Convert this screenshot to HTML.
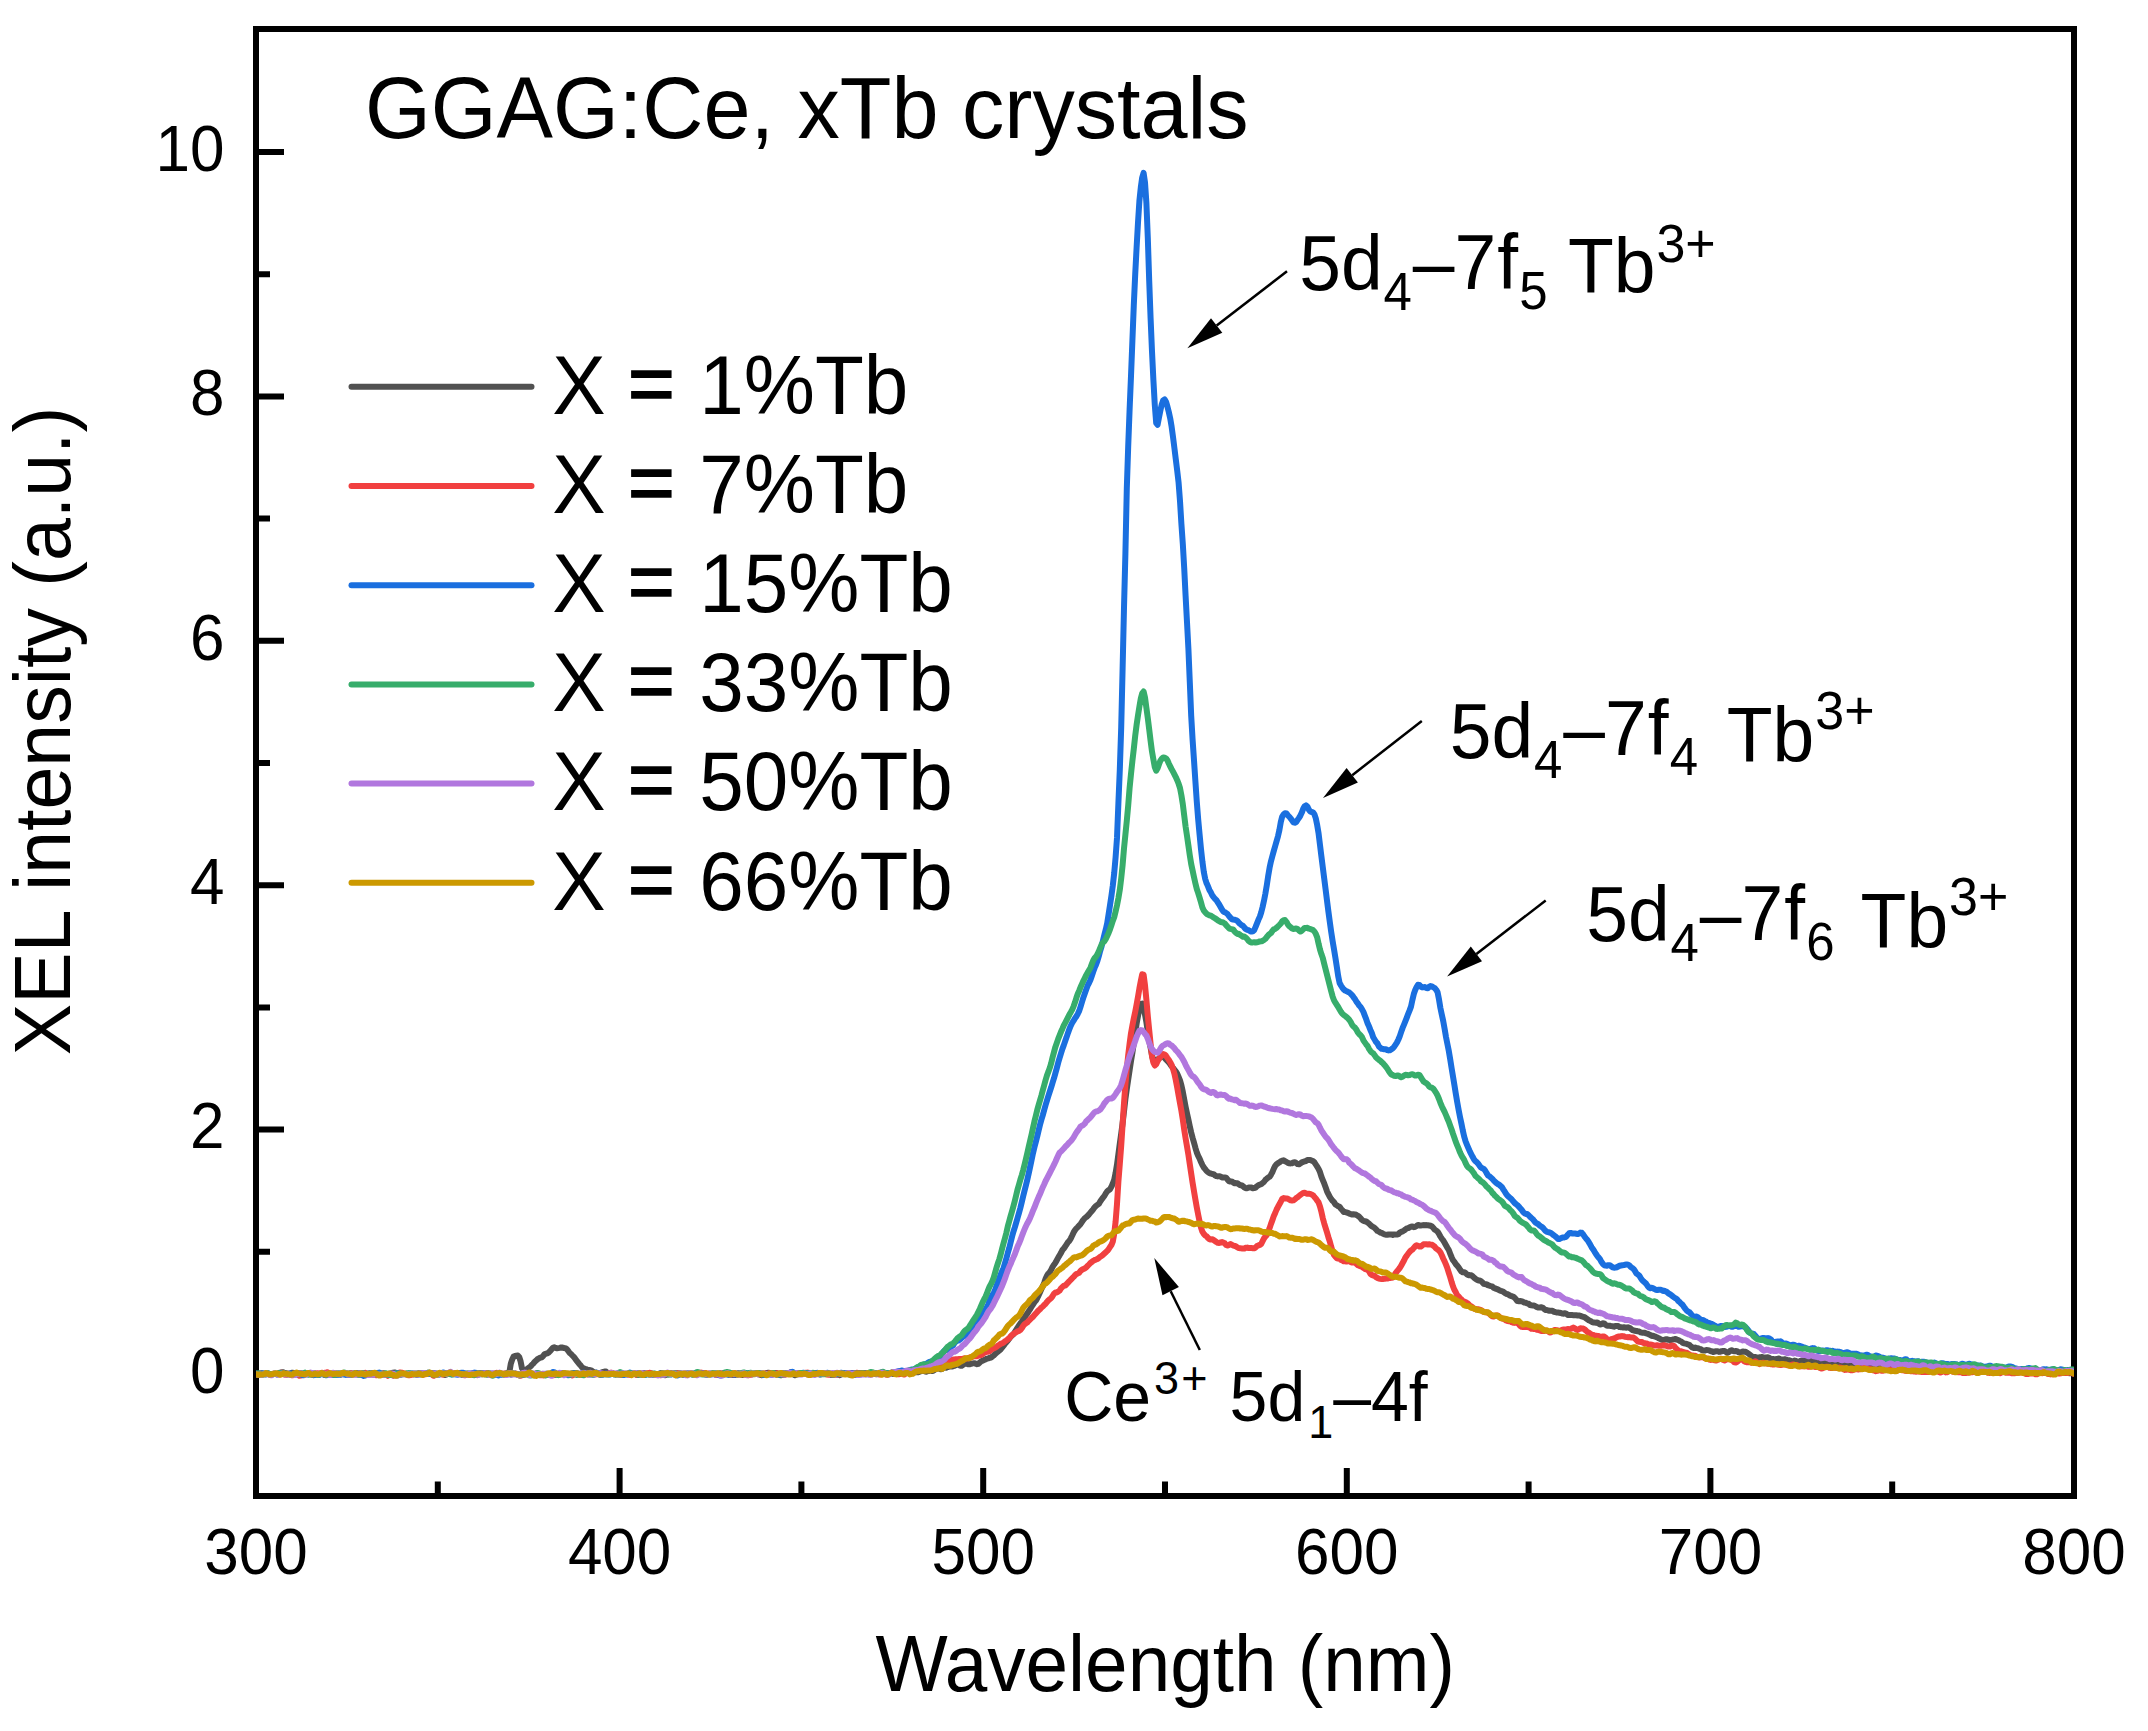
<!DOCTYPE html>
<html lang="en"><head><meta charset="utf-8"><title>XEL intensity of GGAG:Ce, xTb crystals</title>
<style>html,body{margin:0;padding:0;background:#fff;overflow:hidden}svg{display:block}svg text{font-family:"Liberation Sans",sans-serif}</style></head>
<body>
<svg width="2148" height="1731" viewBox="0 0 2148 1731" font-family="&quot;Liberation Sans&quot;, sans-serif" fill="#000">
<rect x="0" y="0" width="2148" height="1731" fill="#ffffff"/>
<defs><clipPath id="plot"><rect x="256" y="29" width="1818" height="1467"/></clipPath></defs>
<rect x="256" y="29" width="1818" height="1467" fill="none" stroke="#000" stroke-width="6"/>
<path d="M437.8,1493 V1481.5 M619.6,1493 V1468 M801.4,1493 V1481.5 M983.2,1493 V1468 M1165.0,1493 V1481.5 M1346.8,1493 V1468 M1528.6,1493 V1481.5 M1710.4,1493 V1468 M1892.2,1493 V1481.5 M259,1374.0 H284 M259,1251.8 H270 M259,1129.6 H284 M259,1007.4 H270 M259,885.2 H284 M259,763.0 H270 M259,640.8 H284 M259,518.6 H270 M259,396.4 H284 M259,274.2 H270 M259,152.0 H284" stroke="#000" stroke-width="6" fill="none"/>
<g clip-path="url(#plot)" fill="none" stroke-linejoin="round" stroke-linecap="round" stroke-width="6">
<path d="M256.0,1374.1 L257.4,1374.0 L258.8,1373.7 L260.2,1373.4 L261.6,1373.2 L263.0,1373.4 L264.4,1374.1 L265.8,1374.4 L267.2,1374.0 L268.6,1373.7 L270.0,1374.1 L271.4,1374.3 L272.8,1373.9 L274.2,1373.6 L275.6,1373.9 L277.0,1373.9 L278.4,1373.5 L279.8,1372.7 L281.2,1372.6 L282.6,1372.2 L284.0,1372.7 L285.4,1372.9 L286.8,1373.5 L288.2,1373.8 L289.6,1374.1 L291.0,1373.1 L292.4,1372.7 L293.8,1372.9 L295.2,1373.8 L296.6,1373.5 L298.0,1373.2 L299.4,1373.0 L300.8,1373.2 L302.2,1373.7 L303.6,1373.9 L305.0,1374.0 L306.4,1374.0 L307.8,1374.2 L309.2,1374.0 L310.6,1373.8 L312.0,1374.0 L313.4,1373.7 L314.8,1373.5 L316.2,1374.1 L317.6,1374.1 L319.0,1374.1 L320.4,1373.9 L321.8,1374.1 L323.2,1374.4 L324.6,1374.9 L326.0,1374.6 L327.4,1373.8 L328.8,1373.8 L330.2,1374.2 L331.6,1374.3 L333.0,1374.2 L334.4,1374.4 L335.8,1374.7 L337.2,1374.6 L338.6,1374.2 L340.0,1373.7 L341.4,1373.9 L342.8,1373.5 L344.2,1373.3 L345.6,1373.3 L347.0,1374.0 L348.4,1374.7 L349.8,1374.4 L351.2,1373.5 L352.6,1373.4 L354.0,1373.4 L355.4,1373.2 L356.8,1373.1 L358.2,1374.2 L359.6,1374.7 L361.0,1374.6 L362.4,1374.0 L363.8,1373.7 L365.2,1374.3 L366.6,1374.4 L368.0,1374.2 L369.4,1373.8 L370.8,1374.0 L372.2,1374.0 L373.6,1373.5 L375.0,1373.4 L376.4,1373.5 L377.8,1374.2 L379.2,1374.6 L380.6,1374.7 L382.0,1374.4 L383.4,1374.2 L384.8,1374.4 L386.2,1374.3 L387.6,1374.5 L389.0,1373.8 L390.4,1373.7 L391.8,1373.2 L393.2,1372.7 L394.6,1372.5 L396.0,1372.9 L397.4,1373.6 L398.8,1374.5 L400.2,1374.8 L401.6,1374.2 L403.0,1373.5 L404.4,1374.0 L405.8,1374.2 L407.2,1374.0 L408.6,1374.1 L410.0,1374.4 L411.4,1374.1 L412.8,1373.7 L414.2,1373.6 L415.6,1373.6 L417.0,1373.6 L418.4,1373.5 L419.8,1374.0 L421.2,1374.2 L422.6,1374.4 L424.0,1373.9 L425.4,1373.7 L426.8,1373.1 L428.2,1372.7 L429.6,1373.0 L431.0,1373.1 L432.4,1373.5 L433.8,1373.1 L435.2,1373.8 L436.6,1373.5 L438.0,1374.1 L439.4,1374.1 L440.8,1373.8 L442.2,1373.8 L443.6,1374.5 L445.0,1375.0 L446.4,1374.4 L447.8,1373.8 L449.2,1373.5 L450.6,1373.9 L452.0,1374.0 L453.4,1374.1 L454.8,1373.5 L456.2,1373.4 L457.6,1373.1 L459.0,1373.6 L460.4,1374.1 L461.8,1374.7 L463.2,1374.4 L464.6,1374.1 L466.0,1373.6 L467.4,1373.4 L468.8,1373.7 L470.2,1373.7 L471.6,1373.7 L473.0,1373.3 L474.4,1373.0 L475.8,1373.7 L477.2,1374.2 L478.6,1373.9 L480.0,1373.4 L481.4,1374.3 L482.8,1374.2 L484.2,1373.8 L485.6,1373.2 L487.0,1373.1 L488.4,1373.3 L489.8,1373.7 L491.2,1374.3 L492.6,1373.8 L494.0,1373.8 L495.4,1373.8 L496.8,1373.9 L498.2,1373.4 L499.6,1373.1 L501.0,1373.5 L502.4,1374.0 L503.8,1374.1 L505.2,1373.6 L506.6,1373.4 L508.0,1372.8 L509.4,1372.0 L510.8,1363.7 L512.2,1359.5 L513.6,1356.6 L515.0,1356.0 L516.4,1355.7 L517.8,1355.5 L519.2,1357.0 L520.6,1361.3 L522.0,1368.3 L523.4,1369.8 L524.8,1370.5 L526.2,1369.8 L527.6,1368.7 L529.0,1367.6 L530.4,1366.5 L531.8,1364.9 L533.2,1363.6 L534.6,1361.8 L536.0,1360.7 L537.4,1359.2 L538.8,1358.5 L540.2,1357.7 L541.6,1357.4 L543.0,1356.2 L544.4,1354.3 L545.8,1353.7 L547.2,1353.4 L548.6,1352.6 L550.0,1351.2 L551.4,1349.6 L552.8,1347.8 L554.2,1347.3 L555.6,1347.9 L557.0,1348.3 L558.4,1348.1 L559.8,1347.9 L561.2,1347.5 L562.6,1347.6 L564.0,1348.0 L565.4,1348.2 L566.8,1349.0 L568.2,1350.8 L569.6,1352.9 L571.0,1354.0 L572.4,1355.5 L573.8,1356.9 L575.2,1358.7 L576.6,1360.6 L578.0,1362.4 L579.4,1364.2 L580.8,1365.6 L582.2,1367.6 L583.6,1368.2 L585.0,1368.9 L586.4,1369.2 L587.8,1370.2 L589.2,1369.9 L590.6,1370.1 L592.0,1370.9 L593.4,1371.9 L594.8,1372.5 L596.2,1372.6 L597.6,1373.4 L599.0,1373.8 L600.4,1373.2 L601.8,1372.4 L603.2,1372.0 L604.6,1371.6 L606.0,1371.5 L607.4,1373.0 L608.8,1374.3 L610.2,1374.0 L611.6,1373.1 L613.0,1373.5 L614.4,1374.2 L615.8,1374.4 L617.2,1374.0 L618.6,1374.0 L620.0,1374.3 L621.4,1374.5 L622.8,1374.6 L624.2,1373.9 L625.6,1373.8 L627.0,1373.7 L628.4,1374.2 L629.8,1373.8 L631.2,1373.8 L632.6,1373.5 L634.0,1373.5 L635.4,1374.0 L636.8,1374.8 L638.2,1375.0 L639.6,1374.5 L641.0,1374.3 L642.4,1373.6 L643.8,1373.1 L645.2,1373.2 L646.6,1374.1 L648.0,1373.7 L649.4,1373.5 L650.8,1373.5 L652.2,1374.2 L653.6,1374.6 L655.0,1374.5 L656.4,1374.6 L657.8,1374.5 L659.2,1374.1 L660.6,1373.1 L662.0,1373.6 L663.4,1374.4 L664.8,1375.2 L666.2,1374.9 L667.6,1374.6 L669.0,1374.3 L670.4,1374.0 L671.8,1373.9 L673.2,1373.8 L674.6,1374.5 L676.0,1374.9 L677.4,1374.7 L678.8,1374.0 L680.2,1373.5 L681.6,1374.1 L683.0,1374.7 L684.4,1374.8 L685.8,1374.1 L687.2,1373.5 L688.6,1373.4 L690.0,1373.9 L691.4,1374.2 L692.8,1374.0 L694.2,1373.7 L695.6,1373.9 L697.0,1373.5 L698.4,1373.3 L699.8,1373.1 L701.2,1373.8 L702.6,1373.9 L704.0,1374.1 L705.4,1374.5 L706.8,1374.7 L708.2,1374.2 L709.6,1373.7 L711.0,1373.9 L712.4,1373.7 L713.8,1373.7 L715.2,1374.5 L716.6,1374.9 L718.0,1374.5 L719.4,1373.5 L720.8,1373.6 L722.2,1373.4 L723.6,1373.2 L725.0,1373.5 L726.4,1373.9 L727.8,1374.4 L729.2,1374.7 L730.6,1375.1 L732.0,1374.8 L733.4,1375.0 L734.8,1375.0 L736.2,1374.4 L737.6,1373.2 L739.0,1373.2 L740.4,1374.1 L741.8,1375.0 L743.2,1374.6 L744.6,1373.6 L746.0,1373.2 L747.4,1373.6 L748.8,1373.9 L750.2,1374.1 L751.6,1374.1 L753.0,1374.1 L754.4,1374.0 L755.8,1374.0 L757.2,1374.0 L758.6,1374.2 L760.0,1374.8 L761.4,1375.2 L762.8,1374.9 L764.2,1373.7 L765.6,1373.4 L767.0,1373.0 L768.4,1372.8 L769.8,1373.0 L771.2,1374.1 L772.6,1374.5 L774.0,1373.6 L775.4,1373.1 L776.8,1373.1 L778.2,1373.8 L779.6,1374.8 L781.0,1375.3 L782.4,1374.6 L783.8,1373.3 L785.2,1373.2 L786.6,1373.5 L788.0,1373.5 L789.4,1373.5 L790.8,1373.3 L792.2,1373.9 L793.6,1374.5 L795.0,1375.2 L796.4,1374.7 L797.8,1374.3 L799.2,1374.0 L800.6,1374.0 L802.0,1373.7 L803.4,1373.3 L804.8,1372.9 L806.2,1373.2 L807.6,1373.8 L809.0,1374.2 L810.4,1374.4 L811.8,1373.9 L813.2,1373.3 L814.6,1373.1 L816.0,1373.9 L817.4,1374.1 L818.8,1374.3 L820.2,1374.4 L821.6,1374.0 L823.0,1373.2 L824.4,1373.4 L825.8,1374.2 L827.2,1373.8 L828.6,1373.7 L830.0,1374.1 L831.4,1375.1 L832.8,1374.6 L834.2,1374.1 L835.6,1373.3 L837.0,1374.2 L838.4,1374.6 L839.8,1375.2 L841.2,1374.4 L842.6,1374.2 L844.0,1373.2 L845.4,1373.1 L846.8,1373.5 L848.2,1373.8 L849.6,1374.0 L851.0,1374.1 L852.4,1374.1 L853.8,1373.4 L855.2,1373.2 L856.6,1373.5 L858.0,1373.5 L859.4,1373.4 L860.8,1373.2 L862.2,1373.1 L863.6,1372.9 L865.0,1372.9 L866.4,1373.7 L867.8,1373.7 L869.2,1373.4 L870.6,1373.1 L872.0,1373.2 L873.4,1373.4 L874.8,1373.7 L876.2,1374.3 L877.6,1374.0 L879.0,1374.0 L880.4,1373.6 L881.8,1373.5 L883.2,1373.5 L884.6,1373.7 L886.0,1374.0 L887.4,1373.9 L888.8,1373.5 L890.2,1373.2 L891.6,1373.3 L893.0,1374.0 L894.4,1373.8 L895.8,1373.5 L897.2,1372.7 L898.6,1373.1 L900.0,1373.0 L901.4,1372.7 L902.8,1372.4 L904.2,1373.2 L905.6,1373.4 L907.0,1372.7 L908.4,1372.0 L909.8,1372.1 L911.2,1372.4 L912.6,1372.4 L914.0,1372.3 L915.4,1372.2 L916.8,1372.2 L918.2,1372.3 L919.6,1371.7 L921.0,1371.2 L922.4,1370.3 L923.8,1371.0 L925.2,1371.5 L926.6,1371.7 L928.0,1370.9 L929.4,1370.9 L930.8,1370.6 L932.2,1371.0 L933.6,1370.6 L935.0,1369.6 L936.4,1368.4 L937.8,1368.1 L939.2,1368.6 L940.6,1369.2 L942.0,1369.0 L943.4,1367.8 L944.8,1367.1 L946.2,1367.7 L947.6,1367.1 L949.0,1366.6 L950.4,1365.8 L951.8,1366.6 L953.2,1366.1 L954.6,1365.8 L956.0,1364.8 L957.4,1364.5 L958.8,1364.9 L960.2,1365.8 L961.6,1365.8 L963.0,1364.8 L964.4,1363.7 L965.8,1363.5 L967.2,1363.8 L968.6,1364.3 L970.0,1364.2 L971.4,1363.7 L972.8,1363.4 L974.2,1363.2 L975.6,1363.7 L977.0,1364.2 L978.4,1363.8 L979.8,1362.5 L981.2,1361.3 L982.6,1360.7 L984.0,1360.1 L985.4,1359.5 L986.8,1358.7 L988.2,1358.4 L989.6,1357.9 L991.0,1357.5 L992.4,1356.5 L993.8,1355.4 L995.2,1353.9 L996.6,1352.7 L998.0,1351.6 L999.4,1350.5 L1000.8,1349.2 L1002.2,1347.4 L1003.6,1345.6 L1005.0,1343.7 L1006.4,1342.2 L1007.8,1340.5 L1009.2,1338.6 L1010.6,1336.9 L1012.0,1335.5 L1013.4,1334.3 L1014.8,1332.1 L1016.2,1329.9 L1017.6,1327.6 L1019.0,1325.5 L1020.4,1323.4 L1021.8,1321.6 L1023.2,1319.2 L1024.6,1317.2 L1026.0,1315.2 L1027.4,1313.4 L1028.8,1311.1 L1030.2,1309.1 L1031.6,1306.6 L1033.0,1304.5 L1034.4,1302.4 L1035.8,1300.7 L1037.2,1298.2 L1038.6,1295.4 L1040.0,1292.2 L1041.4,1289.0 L1042.8,1286.1 L1044.2,1282.8 L1045.6,1278.8 L1047.0,1275.6 L1048.4,1273.5 L1049.8,1272.1 L1051.2,1269.8 L1052.6,1266.8 L1054.0,1264.7 L1055.4,1262.8 L1056.8,1260.3 L1058.2,1257.7 L1059.6,1255.2 L1061.0,1252.9 L1062.4,1250.1 L1063.8,1248.5 L1065.2,1246.5 L1066.6,1244.3 L1068.0,1242.2 L1069.4,1240.8 L1070.8,1238.4 L1072.2,1235.5 L1073.6,1232.4 L1075.0,1230.1 L1076.4,1228.4 L1077.8,1227.1 L1079.2,1225.5 L1080.6,1223.9 L1082.0,1221.8 L1083.4,1219.8 L1084.8,1218.1 L1086.2,1217.1 L1087.6,1215.9 L1089.0,1214.4 L1090.4,1212.7 L1091.8,1211.0 L1093.2,1209.3 L1094.6,1207.3 L1096.0,1205.9 L1097.4,1204.9 L1098.8,1203.9 L1100.2,1201.5 L1101.6,1199.5 L1103.0,1197.6 L1104.4,1195.9 L1105.8,1193.4 L1107.2,1191.3 L1108.6,1190.2 L1110.0,1189.2 L1111.4,1186.8 L1112.8,1183.5 L1114.2,1179.8 L1115.6,1172.9 L1117.0,1164.6 L1118.4,1154.1 L1119.8,1143.6 L1121.2,1133.7 L1122.6,1123.4 L1124.0,1111.4 L1125.4,1099.1 L1126.8,1089.0 L1128.2,1079.6 L1129.6,1070.2 L1131.0,1061.1 L1132.4,1052.8 L1133.8,1043.4 L1135.2,1032.9 L1136.6,1023.7 L1138.0,1016.0 L1139.4,1008.4 L1140.8,1003.9 L1142.2,1003.6 L1143.6,1008.0 L1145.0,1014.5 L1146.4,1022.2 L1147.8,1031.6 L1149.2,1040.6 L1150.6,1047.6 L1152.0,1055.2 L1153.4,1061.0 L1154.8,1061.1 L1156.2,1060.2 L1157.6,1059.3 L1159.0,1058.7 L1160.4,1057.3 L1161.8,1056.6 L1163.2,1056.2 L1164.6,1057.8 L1166.0,1059.5 L1167.4,1061.0 L1168.8,1062.4 L1170.2,1064.2 L1171.6,1066.2 L1173.0,1068.0 L1174.4,1069.7 L1175.8,1071.4 L1177.2,1073.6 L1178.6,1076.9 L1180.0,1080.4 L1181.4,1085.4 L1182.8,1091.7 L1184.2,1099.4 L1185.6,1106.7 L1187.0,1113.3 L1188.4,1119.6 L1189.8,1126.3 L1191.2,1132.5 L1192.6,1137.8 L1194.0,1142.6 L1195.4,1147.8 L1196.8,1152.5 L1198.2,1155.9 L1199.6,1158.6 L1201.0,1162.0 L1202.4,1165.1 L1203.8,1167.5 L1205.2,1169.2 L1206.6,1171.0 L1208.0,1172.1 L1209.4,1173.1 L1210.8,1173.5 L1212.2,1174.0 L1213.6,1174.2 L1215.0,1175.3 L1216.4,1176.1 L1217.8,1176.4 L1219.2,1176.2 L1220.6,1176.6 L1222.0,1177.4 L1223.4,1177.5 L1224.8,1177.4 L1226.2,1177.6 L1227.6,1179.6 L1229.0,1181.1 L1230.4,1181.6 L1231.8,1181.4 L1233.2,1182.5 L1234.6,1183.2 L1236.0,1183.1 L1237.4,1183.3 L1238.8,1184.3 L1240.2,1185.2 L1241.6,1185.2 L1243.0,1186.2 L1244.4,1187.4 L1245.8,1188.3 L1247.2,1188.3 L1248.6,1187.4 L1250.0,1187.4 L1251.4,1187.5 L1252.8,1188.2 L1254.2,1188.0 L1255.6,1187.6 L1257.0,1186.2 L1258.4,1185.3 L1259.8,1184.6 L1261.2,1184.2 L1262.6,1183.0 L1264.0,1181.9 L1265.4,1179.9 L1266.8,1178.7 L1268.2,1177.6 L1269.6,1176.7 L1271.0,1174.7 L1272.4,1172.1 L1273.8,1168.7 L1275.2,1165.9 L1276.6,1164.2 L1278.0,1163.2 L1279.4,1162.4 L1280.8,1161.3 L1282.2,1160.7 L1283.6,1160.3 L1285.0,1161.2 L1286.4,1161.9 L1287.8,1162.9 L1289.2,1163.3 L1290.6,1163.4 L1292.0,1163.2 L1293.4,1162.5 L1294.8,1162.3 L1296.2,1163.0 L1297.6,1164.1 L1299.0,1164.3 L1300.4,1163.5 L1301.8,1162.3 L1303.2,1161.8 L1304.6,1161.4 L1306.0,1161.0 L1307.4,1160.1 L1308.8,1160.0 L1310.2,1160.0 L1311.6,1160.6 L1313.0,1161.1 L1314.4,1162.3 L1315.8,1164.5 L1317.2,1166.7 L1318.6,1169.0 L1320.0,1172.1 L1321.4,1176.6 L1322.8,1180.1 L1324.2,1183.4 L1325.6,1187.3 L1327.0,1191.3 L1328.4,1194.1 L1329.8,1196.8 L1331.2,1199.0 L1332.6,1200.8 L1334.0,1202.1 L1335.4,1204.4 L1336.8,1205.3 L1338.2,1206.2 L1339.6,1206.8 L1341.0,1208.8 L1342.4,1210.3 L1343.8,1211.9 L1345.2,1212.0 L1346.6,1212.5 L1348.0,1212.9 L1349.4,1213.7 L1350.8,1214.1 L1352.2,1214.5 L1353.6,1214.3 L1355.0,1214.4 L1356.4,1214.9 L1357.8,1215.8 L1359.2,1216.8 L1360.6,1218.3 L1362.0,1219.9 L1363.4,1220.9 L1364.8,1221.2 L1366.2,1221.5 L1367.6,1222.5 L1369.0,1223.6 L1370.4,1225.0 L1371.8,1226.3 L1373.2,1226.9 L1374.6,1227.9 L1376.0,1229.3 L1377.4,1230.9 L1378.8,1231.6 L1380.2,1232.5 L1381.6,1232.9 L1383.0,1233.7 L1384.4,1234.3 L1385.8,1234.7 L1387.2,1234.8 L1388.6,1234.5 L1390.0,1234.4 L1391.4,1234.4 L1392.8,1234.9 L1394.2,1234.4 L1395.6,1234.6 L1397.0,1234.6 L1398.4,1234.2 L1399.8,1232.6 L1401.2,1231.8 L1402.6,1231.3 L1404.0,1230.5 L1405.4,1229.5 L1406.8,1228.4 L1408.2,1228.1 L1409.6,1227.3 L1411.0,1226.7 L1412.4,1226.4 L1413.8,1227.2 L1415.2,1226.8 L1416.6,1225.9 L1418.0,1224.9 L1419.4,1225.4 L1420.8,1225.4 L1422.2,1225.3 L1423.6,1225.1 L1425.0,1225.2 L1426.4,1225.1 L1427.8,1225.3 L1429.2,1225.5 L1430.6,1225.8 L1432.0,1226.5 L1433.4,1228.1 L1434.8,1229.7 L1436.2,1230.5 L1437.6,1231.7 L1439.0,1233.9 L1440.4,1236.5 L1441.8,1238.7 L1443.2,1240.4 L1444.6,1242.7 L1446.0,1245.2 L1447.4,1247.7 L1448.8,1250.0 L1450.2,1253.7 L1451.6,1257.2 L1453.0,1260.2 L1454.4,1261.9 L1455.8,1264.1 L1457.2,1265.6 L1458.6,1267.4 L1460.0,1269.5 L1461.4,1271.5 L1462.8,1272.3 L1464.2,1272.3 L1465.6,1273.0 L1467.0,1274.4 L1468.4,1275.2 L1469.8,1275.1 L1471.2,1275.3 L1472.6,1276.3 L1474.0,1277.6 L1475.4,1278.8 L1476.8,1279.7 L1478.2,1280.5 L1479.6,1280.4 L1481.0,1281.1 L1482.4,1282.4 L1483.8,1283.8 L1485.2,1284.2 L1486.6,1284.2 L1488.0,1285.2 L1489.4,1285.7 L1490.8,1286.1 L1492.2,1286.4 L1493.6,1287.7 L1495.0,1288.4 L1496.4,1288.9 L1497.8,1289.4 L1499.2,1290.2 L1500.6,1290.8 L1502.0,1291.2 L1503.4,1291.8 L1504.8,1292.9 L1506.2,1293.8 L1507.6,1294.2 L1509.0,1295.0 L1510.4,1295.7 L1511.8,1296.3 L1513.2,1296.6 L1514.6,1297.8 L1516.0,1299.3 L1517.4,1301.1 L1518.8,1301.2 L1520.2,1301.1 L1521.6,1301.2 L1523.0,1301.8 L1524.4,1302.6 L1525.8,1302.8 L1527.2,1303.4 L1528.6,1303.7 L1530.0,1305.0 L1531.4,1305.3 L1532.8,1305.5 L1534.2,1305.5 L1535.6,1306.3 L1537.0,1307.1 L1538.4,1307.5 L1539.8,1307.6 L1541.2,1307.3 L1542.6,1307.6 L1544.0,1308.8 L1545.4,1309.9 L1546.8,1310.0 L1548.2,1310.5 L1549.6,1310.8 L1551.0,1310.8 L1552.4,1310.7 L1553.8,1311.7 L1555.2,1312.0 L1556.6,1312.5 L1558.0,1312.5 L1559.4,1312.7 L1560.8,1313.0 L1562.2,1313.6 L1563.6,1313.7 L1565.0,1313.2 L1566.4,1313.8 L1567.8,1315.0 L1569.2,1315.1 L1570.6,1315.0 L1572.0,1315.1 L1573.4,1315.2 L1574.8,1315.2 L1576.2,1315.3 L1577.6,1315.5 L1579.0,1315.4 L1580.4,1315.8 L1581.8,1316.4 L1583.2,1316.8 L1584.6,1317.2 L1586.0,1318.2 L1587.4,1319.2 L1588.8,1320.2 L1590.2,1320.9 L1591.6,1321.7 L1593.0,1322.6 L1594.4,1322.6 L1595.8,1322.7 L1597.2,1322.4 L1598.6,1323.6 L1600.0,1324.5 L1601.4,1324.3 L1602.8,1323.3 L1604.2,1323.4 L1605.6,1324.8 L1607.0,1325.7 L1608.4,1325.7 L1609.8,1325.8 L1611.2,1326.1 L1612.6,1326.3 L1614.0,1326.7 L1615.4,1326.1 L1616.8,1326.1 L1618.2,1326.0 L1619.6,1327.1 L1621.0,1327.2 L1622.4,1327.4 L1623.8,1327.3 L1625.2,1327.5 L1626.6,1327.7 L1628.0,1327.3 L1629.4,1327.8 L1630.8,1328.8 L1632.2,1330.0 L1633.6,1330.4 L1635.0,1330.8 L1636.4,1331.0 L1637.8,1331.3 L1639.2,1331.5 L1640.6,1332.3 L1642.0,1332.7 L1643.4,1332.7 L1644.8,1332.8 L1646.2,1333.4 L1647.6,1333.7 L1649.0,1334.5 L1650.4,1335.1 L1651.8,1335.9 L1653.2,1335.8 L1654.6,1336.4 L1656.0,1336.9 L1657.4,1337.5 L1658.8,1338.3 L1660.2,1338.9 L1661.6,1339.8 L1663.0,1339.9 L1664.4,1339.8 L1665.8,1339.2 L1667.2,1339.3 L1668.6,1339.8 L1670.0,1340.1 L1671.4,1340.0 L1672.8,1339.5 L1674.2,1339.3 L1675.6,1339.0 L1677.0,1339.7 L1678.4,1340.1 L1679.8,1341.0 L1681.2,1341.5 L1682.6,1342.7 L1684.0,1343.4 L1685.4,1343.6 L1686.8,1343.9 L1688.2,1344.5 L1689.6,1345.1 L1691.0,1346.5 L1692.4,1347.5 L1693.8,1348.1 L1695.2,1347.6 L1696.6,1348.1 L1698.0,1348.2 L1699.4,1348.8 L1700.8,1349.2 L1702.2,1350.2 L1703.6,1350.6 L1705.0,1350.5 L1706.4,1349.9 L1707.8,1350.1 L1709.2,1350.4 L1710.6,1351.2 L1712.0,1351.3 L1713.4,1352.1 L1714.8,1351.5 L1716.2,1351.2 L1717.6,1351.2 L1719.0,1351.9 L1720.4,1351.7 L1721.8,1351.2 L1723.2,1350.9 L1724.6,1351.0 L1726.0,1351.9 L1727.4,1352.8 L1728.8,1352.2 L1730.2,1350.8 L1731.6,1350.2 L1733.0,1351.0 L1734.4,1351.2 L1735.8,1351.1 L1737.2,1351.2 L1738.6,1352.2 L1740.0,1352.6 L1741.4,1352.1 L1742.8,1351.5 L1744.2,1351.7 L1745.6,1351.8 L1747.0,1352.7 L1748.4,1353.5 L1749.8,1354.7 L1751.2,1355.8 L1752.6,1357.1 L1754.0,1357.0 L1755.4,1356.9 L1756.8,1357.5 L1758.2,1357.9 L1759.6,1357.3 L1761.0,1357.1 L1762.4,1357.1 L1763.8,1357.9 L1765.2,1357.6 L1766.6,1357.5 L1768.0,1357.2 L1769.4,1358.1 L1770.8,1358.7 L1772.2,1359.0 L1773.6,1359.1 L1775.0,1359.5 L1776.4,1359.0 L1777.8,1358.8 L1779.2,1358.5 L1780.6,1359.3 L1782.0,1359.5 L1783.4,1359.6 L1784.8,1359.3 L1786.2,1359.6 L1787.6,1360.3 L1789.0,1360.3 L1790.4,1360.6 L1791.8,1361.7 L1793.2,1361.5 L1794.6,1360.6 L1796.0,1361.0 L1797.4,1362.0 L1798.8,1361.9 L1800.2,1361.0 L1801.6,1360.6 L1803.0,1360.6 L1804.4,1360.6 L1805.8,1361.1 L1807.2,1361.3 L1808.6,1361.3 L1810.0,1360.8 L1811.4,1360.9 L1812.8,1361.0 L1814.2,1361.4 L1815.6,1362.0 L1817.0,1362.7 L1818.4,1363.0 L1819.8,1363.0 L1821.2,1363.0 L1822.6,1362.9 L1824.0,1362.8 L1825.4,1363.2 L1826.8,1363.2 L1828.2,1363.6 L1829.6,1363.8 L1831.0,1363.9 L1832.4,1363.4 L1833.8,1363.3 L1835.2,1363.7 L1836.6,1363.9 L1838.0,1364.5 L1839.4,1364.5 L1840.8,1363.9 L1842.2,1363.2 L1843.6,1363.1 L1845.0,1363.8 L1846.4,1364.7 L1847.8,1365.8 L1849.2,1365.5 L1850.6,1364.8 L1852.0,1365.3 L1853.4,1366.2 L1854.8,1366.4 L1856.2,1366.3 L1857.6,1367.2 L1859.0,1367.9 L1860.4,1367.5 L1861.8,1366.8 L1863.2,1366.7 L1864.6,1366.6 L1866.0,1366.1 L1867.4,1366.0 L1868.8,1366.1 L1870.2,1366.4 L1871.6,1366.6 L1873.0,1367.8 L1874.4,1367.8 L1875.8,1367.5 L1877.2,1366.8 L1878.6,1367.3 L1880.0,1367.9 L1881.4,1367.9 L1882.8,1367.4 L1884.2,1366.6 L1885.6,1366.4 L1887.0,1367.0 L1888.4,1367.8 L1889.8,1367.8 L1891.2,1367.5 L1892.6,1367.6 L1894.0,1368.2 L1895.4,1368.3 L1896.8,1368.2 L1898.2,1367.5 L1899.6,1367.2 L1901.0,1368.0 L1902.4,1368.2 L1903.8,1368.1 L1905.2,1368.0 L1906.6,1368.7 L1908.0,1368.5 L1909.4,1368.4 L1910.8,1368.7 L1912.2,1369.0 L1913.6,1368.4 L1915.0,1368.2 L1916.4,1368.2 L1917.8,1368.6 L1919.2,1368.8 L1920.6,1369.4 L1922.0,1370.0 L1923.4,1369.8 L1924.8,1369.8 L1926.2,1370.1 L1927.6,1370.7 L1929.0,1370.9 L1930.4,1370.5 L1931.8,1370.0 L1933.2,1369.8 L1934.6,1369.6 L1936.0,1369.5 L1937.4,1369.3 L1938.8,1369.6 L1940.2,1369.0 L1941.6,1368.8 L1943.0,1369.0 L1944.4,1370.0 L1945.8,1370.7 L1947.2,1370.8 L1948.6,1370.3 L1950.0,1369.7 L1951.4,1369.9 L1952.8,1370.0 L1954.2,1370.4 L1955.6,1371.0 L1957.0,1371.2 L1958.4,1370.4 L1959.8,1369.4 L1961.2,1369.0 L1962.6,1369.1 L1964.0,1369.9 L1965.4,1370.7 L1966.8,1370.5 L1968.2,1370.1 L1969.6,1370.7 L1971.0,1371.2 L1972.4,1370.6 L1973.8,1370.1 L1975.2,1370.4 L1976.6,1370.9 L1978.0,1371.5 L1979.4,1371.8 L1980.8,1372.0 L1982.2,1372.1 L1983.6,1372.0 L1985.0,1371.1 L1986.4,1370.4 L1987.8,1370.4 L1989.2,1370.9 L1990.6,1371.2 L1992.0,1371.1 L1993.4,1370.8 L1994.8,1370.9 L1996.2,1371.6 L1997.6,1371.9 L1999.0,1371.7 L2000.4,1371.9 L2001.8,1372.0 L2003.2,1370.8 L2004.6,1370.0 L2006.0,1369.9 L2007.4,1370.5 L2008.8,1370.7 L2010.2,1371.4 L2011.6,1371.7 L2013.0,1371.1 L2014.4,1371.3 L2015.8,1371.7 L2017.2,1371.4 L2018.6,1370.8 L2020.0,1371.2 L2021.4,1371.5 L2022.8,1371.5 L2024.2,1371.4 L2025.6,1371.2 L2027.0,1371.0 L2028.4,1371.6 L2029.8,1371.7 L2031.2,1371.6 L2032.6,1371.5 L2034.0,1372.6 L2035.4,1372.6 L2036.8,1372.7 L2038.2,1372.0 L2039.6,1372.1 L2041.0,1371.9 L2042.4,1372.3 L2043.8,1372.8 L2045.2,1372.7 L2046.6,1372.1 L2048.0,1371.4 L2049.4,1371.5 L2050.8,1372.0 L2052.2,1372.7 L2053.6,1372.8 L2055.0,1372.8 L2056.4,1372.9 L2057.8,1372.9 L2059.2,1372.0 L2060.6,1370.9 L2062.0,1370.4 L2063.4,1371.4 L2064.8,1371.9 L2066.2,1372.5 L2067.6,1372.4 L2069.0,1373.2 L2070.4,1373.2 L2071.8,1372.9 L2073.2,1372.3" stroke="#515151"/>
<path d="M256.0,1373.9 L257.4,1374.0 L258.8,1373.9 L260.2,1373.8 L261.6,1374.3 L263.0,1374.1 L264.4,1373.9 L265.8,1373.3 L267.2,1373.8 L268.6,1374.1 L270.0,1374.4 L271.4,1374.5 L272.8,1373.8 L274.2,1373.9 L275.6,1373.8 L277.0,1374.3 L278.4,1374.1 L279.8,1373.4 L281.2,1372.7 L282.6,1372.9 L284.0,1374.4 L285.4,1374.8 L286.8,1374.7 L288.2,1373.7 L289.6,1373.9 L291.0,1374.8 L292.4,1375.3 L293.8,1374.5 L295.2,1373.4 L296.6,1373.5 L298.0,1374.7 L299.4,1375.7 L300.8,1375.6 L302.2,1375.0 L303.6,1374.3 L305.0,1374.2 L306.4,1373.9 L307.8,1373.8 L309.2,1373.6 L310.6,1374.3 L312.0,1374.6 L313.4,1374.6 L314.8,1374.1 L316.2,1373.4 L317.6,1373.2 L319.0,1373.4 L320.4,1373.3 L321.8,1372.8 L323.2,1372.9 L324.6,1372.8 L326.0,1372.6 L327.4,1372.3 L328.8,1372.9 L330.2,1373.7 L331.6,1374.9 L333.0,1374.5 L334.4,1373.8 L335.8,1373.5 L337.2,1374.1 L338.6,1374.1 L340.0,1374.3 L341.4,1374.5 L342.8,1374.0 L344.2,1373.0 L345.6,1373.2 L347.0,1373.8 L348.4,1373.8 L349.8,1373.2 L351.2,1373.3 L352.6,1374.1 L354.0,1374.2 L355.4,1374.1 L356.8,1374.2 L358.2,1373.9 L359.6,1373.3 L361.0,1373.4 L362.4,1373.9 L363.8,1373.2 L365.2,1372.8 L366.6,1373.4 L368.0,1374.8 L369.4,1374.2 L370.8,1374.4 L372.2,1374.1 L373.6,1374.7 L375.0,1374.5 L376.4,1375.2 L377.8,1374.9 L379.2,1374.0 L380.6,1373.7 L382.0,1373.7 L383.4,1373.1 L384.8,1373.6 L386.2,1374.6 L387.6,1375.8 L389.0,1374.7 L390.4,1374.7 L391.8,1374.9 L393.2,1375.7 L394.6,1375.2 L396.0,1374.1 L397.4,1373.4 L398.8,1372.8 L400.2,1372.4 L401.6,1372.6 L403.0,1373.2 L404.4,1373.5 L405.8,1373.6 L407.2,1374.5 L408.6,1375.2 L410.0,1375.2 L411.4,1374.8 L412.8,1374.3 L414.2,1373.9 L415.6,1373.9 L417.0,1373.9 L418.4,1373.7 L419.8,1373.0 L421.2,1373.4 L422.6,1374.2 L424.0,1374.5 L425.4,1374.3 L426.8,1373.6 L428.2,1373.3 L429.6,1372.8 L431.0,1373.6 L432.4,1375.0 L433.8,1375.7 L435.2,1374.7 L436.6,1374.1 L438.0,1374.0 L439.4,1374.3 L440.8,1374.3 L442.2,1374.5 L443.6,1374.4 L445.0,1374.2 L446.4,1373.8 L447.8,1373.1 L449.2,1373.0 L450.6,1372.8 L452.0,1373.2 L453.4,1373.2 L454.8,1373.6 L456.2,1373.9 L457.6,1373.8 L459.0,1373.3 L460.4,1372.9 L461.8,1373.6 L463.2,1374.6 L464.6,1375.3 L466.0,1374.8 L467.4,1374.6 L468.8,1374.0 L470.2,1374.3 L471.6,1373.9 L473.0,1373.3 L474.4,1373.4 L475.8,1374.8 L477.2,1375.2 L478.6,1374.1 L480.0,1373.7 L481.4,1374.0 L482.8,1373.5 L484.2,1373.2 L485.6,1373.4 L487.0,1374.1 L488.4,1374.6 L489.8,1374.6 L491.2,1375.2 L492.6,1374.8 L494.0,1374.5 L495.4,1373.3 L496.8,1372.8 L498.2,1373.3 L499.6,1373.9 L501.0,1374.2 L502.4,1373.9 L503.8,1373.8 L505.2,1373.4 L506.6,1373.3 L508.0,1373.5 L509.4,1373.9 L510.8,1374.4 L512.2,1374.3 L513.6,1373.7 L515.0,1373.5 L516.4,1373.8 L517.8,1374.4 L519.2,1375.3 L520.6,1375.8 L522.0,1375.2 L523.4,1374.2 L524.8,1373.6 L526.2,1373.3 L527.6,1373.0 L529.0,1373.1 L530.4,1373.4 L531.8,1373.9 L533.2,1374.1 L534.6,1374.0 L536.0,1373.4 L537.4,1373.9 L538.8,1374.5 L540.2,1375.3 L541.6,1375.2 L543.0,1375.4 L544.4,1374.8 L545.8,1374.6 L547.2,1375.1 L548.6,1375.0 L550.0,1374.7 L551.4,1374.7 L552.8,1375.3 L554.2,1375.0 L555.6,1374.9 L557.0,1374.6 L558.4,1374.3 L559.8,1373.7 L561.2,1373.5 L562.6,1373.2 L564.0,1373.5 L565.4,1373.8 L566.8,1374.2 L568.2,1373.8 L569.6,1374.2 L571.0,1374.8 L572.4,1375.4 L573.8,1374.6 L575.2,1374.1 L576.6,1374.0 L578.0,1374.4 L579.4,1373.8 L580.8,1373.6 L582.2,1374.7 L583.6,1374.9 L585.0,1374.5 L586.4,1373.9 L587.8,1374.5 L589.2,1374.5 L590.6,1374.2 L592.0,1374.0 L593.4,1374.2 L594.8,1374.6 L596.2,1374.3 L597.6,1373.8 L599.0,1373.8 L600.4,1374.4 L601.8,1374.2 L603.2,1374.4 L604.6,1373.7 L606.0,1374.0 L607.4,1373.8 L608.8,1373.3 L610.2,1372.8 L611.6,1372.8 L613.0,1373.4 L614.4,1374.0 L615.8,1374.2 L617.2,1373.7 L618.6,1373.6 L620.0,1374.3 L621.4,1375.1 L622.8,1374.8 L624.2,1374.4 L625.6,1373.7 L627.0,1374.1 L628.4,1374.8 L629.8,1374.8 L631.2,1374.3 L632.6,1374.0 L634.0,1373.8 L635.4,1374.4 L636.8,1374.7 L638.2,1374.3 L639.6,1373.3 L641.0,1373.7 L642.4,1374.4 L643.8,1374.5 L645.2,1373.9 L646.6,1373.7 L648.0,1373.2 L649.4,1372.8 L650.8,1373.1 L652.2,1373.8 L653.6,1374.2 L655.0,1374.4 L656.4,1374.9 L657.8,1374.7 L659.2,1374.9 L660.6,1375.2 L662.0,1374.9 L663.4,1374.3 L664.8,1374.3 L666.2,1374.1 L667.6,1373.8 L669.0,1373.7 L670.4,1373.3 L671.8,1373.0 L673.2,1373.2 L674.6,1373.7 L676.0,1373.2 L677.4,1373.0 L678.8,1373.3 L680.2,1373.9 L681.6,1373.7 L683.0,1373.7 L684.4,1373.5 L685.8,1373.6 L687.2,1373.9 L688.6,1374.3 L690.0,1374.0 L691.4,1373.9 L692.8,1374.2 L694.2,1374.1 L695.6,1373.8 L697.0,1374.4 L698.4,1373.8 L699.8,1373.1 L701.2,1372.6 L702.6,1372.9 L704.0,1372.9 L705.4,1373.0 L706.8,1373.4 L708.2,1373.6 L709.6,1373.7 L711.0,1373.9 L712.4,1374.0 L713.8,1373.9 L715.2,1374.4 L716.6,1374.9 L718.0,1374.5 L719.4,1373.8 L720.8,1373.4 L722.2,1373.7 L723.6,1374.1 L725.0,1374.2 L726.4,1373.8 L727.8,1374.0 L729.2,1374.3 L730.6,1374.2 L732.0,1373.6 L733.4,1373.3 L734.8,1373.1 L736.2,1374.2 L737.6,1374.6 L739.0,1374.4 L740.4,1373.4 L741.8,1373.5 L743.2,1373.9 L744.6,1374.3 L746.0,1375.0 L747.4,1375.0 L748.8,1375.2 L750.2,1374.8 L751.6,1374.8 L753.0,1373.9 L754.4,1373.5 L755.8,1373.4 L757.2,1373.8 L758.6,1373.1 L760.0,1373.2 L761.4,1373.5 L762.8,1373.9 L764.2,1373.6 L765.6,1373.6 L767.0,1373.9 L768.4,1373.7 L769.8,1373.2 L771.2,1373.2 L772.6,1373.8 L774.0,1374.0 L775.4,1373.7 L776.8,1373.3 L778.2,1373.4 L779.6,1374.0 L781.0,1374.1 L782.4,1374.4 L783.8,1374.5 L785.2,1374.7 L786.6,1374.3 L788.0,1373.7 L789.4,1373.0 L790.8,1372.3 L792.2,1372.7 L793.6,1373.2 L795.0,1373.5 L796.4,1373.6 L797.8,1373.1 L799.2,1373.2 L800.6,1373.0 L802.0,1373.2 L803.4,1373.0 L804.8,1373.1 L806.2,1372.8 L807.6,1372.6 L809.0,1373.0 L810.4,1373.8 L811.8,1374.3 L813.2,1374.0 L814.6,1373.4 L816.0,1372.9 L817.4,1373.4 L818.8,1373.1 L820.2,1373.5 L821.6,1373.6 L823.0,1373.8 L824.4,1373.5 L825.8,1374.1 L827.2,1374.5 L828.6,1374.7 L830.0,1374.4 L831.4,1374.6 L832.8,1374.8 L834.2,1374.7 L835.6,1374.7 L837.0,1374.5 L838.4,1374.4 L839.8,1373.6 L841.2,1373.3 L842.6,1373.6 L844.0,1373.6 L845.4,1373.7 L846.8,1373.7 L848.2,1374.2 L849.6,1373.3 L851.0,1372.9 L852.4,1373.2 L853.8,1373.7 L855.2,1373.7 L856.6,1372.7 L858.0,1372.9 L859.4,1373.0 L860.8,1373.9 L862.2,1373.3 L863.6,1373.4 L865.0,1373.3 L866.4,1374.1 L867.8,1373.7 L869.2,1373.3 L870.6,1373.8 L872.0,1374.2 L873.4,1373.8 L874.8,1373.0 L876.2,1373.0 L877.6,1373.5 L879.0,1374.4 L880.4,1374.5 L881.8,1373.3 L883.2,1373.0 L884.6,1373.9 L886.0,1374.7 L887.4,1374.7 L888.8,1374.1 L890.2,1373.5 L891.6,1372.7 L893.0,1372.4 L894.4,1372.8 L895.8,1373.3 L897.2,1374.3 L898.6,1374.3 L900.0,1374.1 L901.4,1373.5 L902.8,1374.1 L904.2,1374.5 L905.6,1373.5 L907.0,1372.7 L908.4,1372.9 L909.8,1373.0 L911.2,1372.2 L912.6,1371.8 L914.0,1371.9 L915.4,1371.3 L916.8,1370.4 L918.2,1369.9 L919.6,1369.9 L921.0,1369.9 L922.4,1370.1 L923.8,1370.1 L925.2,1369.1 L926.6,1368.3 L928.0,1368.2 L929.4,1368.5 L930.8,1368.2 L932.2,1367.3 L933.6,1366.2 L935.0,1365.6 L936.4,1365.1 L937.8,1364.0 L939.2,1363.4 L940.6,1363.4 L942.0,1363.3 L943.4,1362.1 L944.8,1361.3 L946.2,1360.6 L947.6,1360.6 L949.0,1360.9 L950.4,1360.2 L951.8,1360.0 L953.2,1359.6 L954.6,1359.5 L956.0,1359.2 L957.4,1359.5 L958.8,1359.1 L960.2,1359.0 L961.6,1358.9 L963.0,1359.0 L964.4,1358.3 L965.8,1358.8 L967.2,1358.4 L968.6,1358.2 L970.0,1357.3 L971.4,1357.3 L972.8,1356.6 L974.2,1356.1 L975.6,1356.0 L977.0,1356.2 L978.4,1355.7 L979.8,1355.3 L981.2,1355.1 L982.6,1354.1 L984.0,1352.9 L985.4,1352.0 L986.8,1351.9 L988.2,1351.7 L989.6,1351.2 L991.0,1349.8 L992.4,1348.8 L993.8,1348.4 L995.2,1347.6 L996.6,1346.9 L998.0,1345.6 L999.4,1344.7 L1000.8,1343.7 L1002.2,1343.3 L1003.6,1342.6 L1005.0,1341.3 L1006.4,1340.4 L1007.8,1339.3 L1009.2,1338.3 L1010.6,1336.5 L1012.0,1334.9 L1013.4,1334.0 L1014.8,1333.1 L1016.2,1332.2 L1017.6,1331.3 L1019.0,1330.8 L1020.4,1330.0 L1021.8,1328.2 L1023.2,1325.9 L1024.6,1324.2 L1026.0,1323.2 L1027.4,1322.4 L1028.8,1320.7 L1030.2,1319.4 L1031.6,1318.0 L1033.0,1316.7 L1034.4,1315.1 L1035.8,1313.5 L1037.2,1311.9 L1038.6,1310.4 L1040.0,1309.2 L1041.4,1307.6 L1042.8,1306.5 L1044.2,1304.9 L1045.6,1303.8 L1047.0,1301.9 L1048.4,1300.3 L1049.8,1299.2 L1051.2,1298.0 L1052.6,1296.1 L1054.0,1293.7 L1055.4,1292.5 L1056.8,1292.4 L1058.2,1291.6 L1059.6,1290.6 L1061.0,1288.4 L1062.4,1287.0 L1063.8,1285.8 L1065.2,1285.6 L1066.6,1284.1 L1068.0,1282.6 L1069.4,1281.1 L1070.8,1279.8 L1072.2,1278.2 L1073.6,1276.9 L1075.0,1275.3 L1076.4,1274.0 L1077.8,1273.4 L1079.2,1272.7 L1080.6,1270.8 L1082.0,1269.7 L1083.4,1269.0 L1084.8,1268.4 L1086.2,1267.3 L1087.6,1265.9 L1089.0,1264.5 L1090.4,1263.0 L1091.8,1262.0 L1093.2,1260.8 L1094.6,1260.0 L1096.0,1259.6 L1097.4,1259.0 L1098.8,1258.0 L1100.2,1256.8 L1101.6,1255.9 L1103.0,1254.8 L1104.4,1253.5 L1105.8,1252.2 L1107.2,1250.9 L1108.6,1249.3 L1110.0,1247.0 L1111.4,1245.0 L1112.8,1241.6 L1114.2,1233.9 L1115.6,1221.7 L1117.0,1203.9 L1118.4,1181.6 L1119.8,1163.9 L1121.2,1145.7 L1122.6,1124.5 L1124.0,1103.2 L1125.4,1084.7 L1126.8,1068.7 L1128.2,1055.0 L1129.6,1043.7 L1131.0,1033.2 L1132.4,1025.5 L1133.8,1018.4 L1135.2,1011.8 L1136.6,1004.5 L1138.0,996.9 L1139.4,988.4 L1140.8,981.0 L1142.2,974.3 L1143.6,974.7 L1145.0,985.2 L1146.4,999.7 L1147.8,1016.0 L1149.2,1030.1 L1150.6,1043.8 L1152.0,1056.4 L1153.4,1062.7 L1154.8,1065.5 L1156.2,1064.3 L1157.6,1061.1 L1159.0,1058.8 L1160.4,1056.9 L1161.8,1055.4 L1163.2,1054.0 L1164.6,1054.5 L1166.0,1055.8 L1167.4,1057.9 L1168.8,1059.9 L1170.2,1062.2 L1171.6,1064.9 L1173.0,1068.7 L1174.4,1073.7 L1175.8,1080.1 L1177.2,1087.4 L1178.6,1095.6 L1180.0,1103.1 L1181.4,1110.7 L1182.8,1119.6 L1184.2,1129.5 L1185.6,1138.4 L1187.0,1146.4 L1188.4,1154.8 L1189.8,1164.2 L1191.2,1173.5 L1192.6,1182.8 L1194.0,1191.3 L1195.4,1199.4 L1196.8,1207.4 L1198.2,1214.7 L1199.6,1221.7 L1201.0,1227.6 L1202.4,1231.7 L1203.8,1233.9 L1205.2,1235.4 L1206.6,1236.3 L1208.0,1237.9 L1209.4,1239.1 L1210.8,1239.6 L1212.2,1239.3 L1213.6,1240.0 L1215.0,1241.0 L1216.4,1242.0 L1217.8,1242.8 L1219.2,1242.9 L1220.6,1242.5 L1222.0,1242.1 L1223.4,1242.6 L1224.8,1243.3 L1226.2,1245.0 L1227.6,1245.6 L1229.0,1245.0 L1230.4,1244.1 L1231.8,1244.7 L1233.2,1245.6 L1234.6,1245.9 L1236.0,1246.4 L1237.4,1247.4 L1238.8,1248.1 L1240.2,1248.2 L1241.6,1248.4 L1243.0,1248.5 L1244.4,1248.5 L1245.8,1247.8 L1247.2,1247.6 L1248.6,1248.0 L1250.0,1248.1 L1251.4,1248.1 L1252.8,1248.2 L1254.2,1248.2 L1255.6,1247.5 L1257.0,1246.0 L1258.4,1245.4 L1259.8,1244.9 L1261.2,1244.0 L1262.6,1241.2 L1264.0,1238.4 L1265.4,1236.5 L1266.8,1234.9 L1268.2,1232.0 L1269.6,1228.1 L1271.0,1223.9 L1272.4,1220.1 L1273.8,1216.1 L1275.2,1213.0 L1276.6,1209.5 L1278.0,1206.8 L1279.4,1204.3 L1280.8,1201.8 L1282.2,1198.9 L1283.6,1198.1 L1285.0,1198.6 L1286.4,1198.4 L1287.8,1198.7 L1289.2,1199.6 L1290.6,1200.3 L1292.0,1200.5 L1293.4,1200.3 L1294.8,1199.5 L1296.2,1198.1 L1297.6,1197.2 L1299.0,1196.0 L1300.4,1194.9 L1301.8,1193.9 L1303.2,1192.9 L1304.6,1192.7 L1306.0,1193.4 L1307.4,1193.8 L1308.8,1193.7 L1310.2,1193.9 L1311.6,1194.6 L1313.0,1195.2 L1314.4,1197.0 L1315.8,1198.5 L1317.2,1200.6 L1318.6,1202.4 L1320.0,1206.4 L1321.4,1211.8 L1322.8,1218.2 L1324.2,1223.3 L1325.6,1227.9 L1327.0,1232.4 L1328.4,1237.2 L1329.8,1241.5 L1331.2,1246.7 L1332.6,1251.3 L1334.0,1254.9 L1335.4,1256.7 L1336.8,1258.1 L1338.2,1258.6 L1339.6,1258.7 L1341.0,1260.0 L1342.4,1260.5 L1343.8,1261.3 L1345.2,1261.3 L1346.6,1261.6 L1348.0,1260.8 L1349.4,1261.0 L1350.8,1262.1 L1352.2,1262.5 L1353.6,1262.2 L1355.0,1262.6 L1356.4,1263.8 L1357.8,1265.2 L1359.2,1265.7 L1360.6,1266.4 L1362.0,1266.3 L1363.4,1267.9 L1364.8,1268.9 L1366.2,1269.4 L1367.6,1269.7 L1369.0,1271.3 L1370.4,1273.8 L1371.8,1274.9 L1373.2,1275.5 L1374.6,1275.8 L1376.0,1277.2 L1377.4,1278.0 L1378.8,1278.6 L1380.2,1278.9 L1381.6,1279.1 L1383.0,1278.9 L1384.4,1278.8 L1385.8,1278.5 L1387.2,1278.6 L1388.6,1278.1 L1390.0,1278.1 L1391.4,1277.9 L1392.8,1277.6 L1394.2,1275.4 L1395.6,1273.1 L1397.0,1271.3 L1398.4,1269.8 L1399.8,1267.9 L1401.2,1265.7 L1402.6,1263.0 L1404.0,1260.5 L1405.4,1257.5 L1406.8,1255.6 L1408.2,1253.6 L1409.6,1251.9 L1411.0,1250.4 L1412.4,1249.6 L1413.8,1247.9 L1415.2,1246.3 L1416.6,1245.3 L1418.0,1245.8 L1419.4,1246.4 L1420.8,1246.5 L1422.2,1245.5 L1423.6,1244.3 L1425.0,1244.2 L1426.4,1244.2 L1427.8,1244.6 L1429.2,1244.3 L1430.6,1244.6 L1432.0,1244.8 L1433.4,1245.8 L1434.8,1246.8 L1436.2,1248.6 L1437.6,1249.5 L1439.0,1250.5 L1440.4,1252.3 L1441.8,1255.2 L1443.2,1258.5 L1444.6,1261.3 L1446.0,1264.6 L1447.4,1268.3 L1448.8,1272.8 L1450.2,1277.1 L1451.6,1282.0 L1453.0,1286.4 L1454.4,1289.8 L1455.8,1292.3 L1457.2,1295.2 L1458.6,1296.5 L1460.0,1298.2 L1461.4,1299.4 L1462.8,1301.1 L1464.2,1301.5 L1465.6,1302.0 L1467.0,1302.9 L1468.4,1304.1 L1469.8,1305.6 L1471.2,1306.2 L1472.6,1307.4 L1474.0,1308.4 L1475.4,1309.3 L1476.8,1309.1 L1478.2,1309.3 L1479.6,1309.6 L1481.0,1310.1 L1482.4,1311.0 L1483.8,1311.9 L1485.2,1312.1 L1486.6,1312.4 L1488.0,1312.8 L1489.4,1313.8 L1490.8,1315.1 L1492.2,1316.3 L1493.6,1316.5 L1495.0,1315.8 L1496.4,1315.5 L1497.8,1315.5 L1499.2,1316.8 L1500.6,1317.7 L1502.0,1318.6 L1503.4,1318.8 L1504.8,1319.5 L1506.2,1320.5 L1507.6,1321.1 L1509.0,1321.3 L1510.4,1321.2 L1511.8,1322.2 L1513.2,1322.7 L1514.6,1322.9 L1516.0,1322.7 L1517.4,1323.0 L1518.8,1324.1 L1520.2,1326.0 L1521.6,1326.8 L1523.0,1327.0 L1524.4,1326.8 L1525.8,1327.1 L1527.2,1326.9 L1528.6,1327.2 L1530.0,1327.7 L1531.4,1328.7 L1532.8,1328.8 L1534.2,1329.1 L1535.6,1329.1 L1537.0,1329.8 L1538.4,1329.9 L1539.8,1330.4 L1541.2,1330.9 L1542.6,1331.0 L1544.0,1331.1 L1545.4,1330.5 L1546.8,1330.5 L1548.2,1331.4 L1549.6,1332.5 L1551.0,1332.2 L1552.4,1331.0 L1553.8,1330.4 L1555.2,1329.9 L1556.6,1330.1 L1558.0,1330.5 L1559.4,1330.7 L1560.8,1330.6 L1562.2,1329.7 L1563.6,1329.6 L1565.0,1329.6 L1566.4,1329.6 L1567.8,1328.9 L1569.2,1329.1 L1570.6,1328.9 L1572.0,1328.4 L1573.4,1327.5 L1574.8,1328.3 L1576.2,1329.5 L1577.6,1330.0 L1579.0,1329.2 L1580.4,1328.3 L1581.8,1328.5 L1583.2,1328.6 L1584.6,1329.4 L1586.0,1330.6 L1587.4,1332.0 L1588.8,1332.7 L1590.2,1333.5 L1591.6,1334.7 L1593.0,1334.9 L1594.4,1335.4 L1595.8,1335.6 L1597.2,1336.0 L1598.6,1336.1 L1600.0,1336.7 L1601.4,1336.9 L1602.8,1336.5 L1604.2,1336.5 L1605.6,1337.6 L1607.0,1339.2 L1608.4,1340.0 L1609.8,1339.9 L1611.2,1339.2 L1612.6,1338.8 L1614.0,1338.4 L1615.4,1338.0 L1616.8,1337.1 L1618.2,1336.6 L1619.6,1336.6 L1621.0,1336.2 L1622.4,1336.1 L1623.8,1336.3 L1625.2,1336.9 L1626.6,1337.1 L1628.0,1337.2 L1629.4,1337.1 L1630.8,1337.4 L1632.2,1337.5 L1633.6,1337.6 L1635.0,1338.6 L1636.4,1340.0 L1637.8,1341.5 L1639.2,1341.8 L1640.6,1341.9 L1642.0,1342.0 L1643.4,1342.9 L1644.8,1343.3 L1646.2,1343.4 L1647.6,1343.9 L1649.0,1344.5 L1650.4,1344.4 L1651.8,1344.6 L1653.2,1345.3 L1654.6,1345.6 L1656.0,1345.5 L1657.4,1345.2 L1658.8,1345.8 L1660.2,1345.8 L1661.6,1345.7 L1663.0,1345.3 L1664.4,1345.3 L1665.8,1345.7 L1667.2,1346.1 L1668.6,1346.6 L1670.0,1346.5 L1671.4,1345.5 L1672.8,1345.7 L1674.2,1346.2 L1675.6,1348.0 L1677.0,1349.2 L1678.4,1350.8 L1679.8,1351.2 L1681.2,1351.3 L1682.6,1351.8 L1684.0,1352.3 L1685.4,1352.6 L1686.8,1352.8 L1688.2,1353.7 L1689.6,1354.6 L1691.0,1355.5 L1692.4,1355.5 L1693.8,1355.8 L1695.2,1355.8 L1696.6,1356.4 L1698.0,1357.0 L1699.4,1357.5 L1700.8,1357.3 L1702.2,1356.9 L1703.6,1357.6 L1705.0,1358.3 L1706.4,1358.5 L1707.8,1358.6 L1709.2,1359.5 L1710.6,1359.9 L1712.0,1359.4 L1713.4,1359.9 L1714.8,1360.3 L1716.2,1360.6 L1717.6,1359.9 L1719.0,1359.4 L1720.4,1358.7 L1721.8,1359.0 L1723.2,1359.9 L1724.6,1360.4 L1726.0,1359.8 L1727.4,1359.2 L1728.8,1359.2 L1730.2,1359.3 L1731.6,1360.1 L1733.0,1360.9 L1734.4,1362.4 L1735.8,1362.6 L1737.2,1361.9 L1738.6,1360.6 L1740.0,1359.2 L1741.4,1359.0 L1742.8,1359.7 L1744.2,1361.3 L1745.6,1361.9 L1747.0,1362.2 L1748.4,1362.1 L1749.8,1362.2 L1751.2,1362.7 L1752.6,1362.5 L1754.0,1362.0 L1755.4,1361.3 L1756.8,1362.2 L1758.2,1363.2 L1759.6,1364.1 L1761.0,1363.2 L1762.4,1362.8 L1763.8,1362.8 L1765.2,1363.3 L1766.6,1363.4 L1768.0,1363.8 L1769.4,1363.8 L1770.8,1364.2 L1772.2,1364.4 L1773.6,1364.5 L1775.0,1364.2 L1776.4,1364.2 L1777.8,1364.6 L1779.2,1364.8 L1780.6,1365.0 L1782.0,1364.8 L1783.4,1364.4 L1784.8,1364.6 L1786.2,1364.7 L1787.6,1365.3 L1789.0,1365.5 L1790.4,1365.3 L1791.8,1364.7 L1793.2,1364.5 L1794.6,1364.9 L1796.0,1364.9 L1797.4,1365.4 L1798.8,1365.9 L1800.2,1366.3 L1801.6,1366.1 L1803.0,1366.3 L1804.4,1366.1 L1805.8,1366.2 L1807.2,1366.4 L1808.6,1366.8 L1810.0,1366.7 L1811.4,1366.2 L1812.8,1366.3 L1814.2,1366.7 L1815.6,1367.1 L1817.0,1366.8 L1818.4,1366.9 L1819.8,1368.0 L1821.2,1368.5 L1822.6,1368.2 L1824.0,1367.6 L1825.4,1367.0 L1826.8,1366.7 L1828.2,1366.7 L1829.6,1367.9 L1831.0,1368.1 L1832.4,1368.0 L1833.8,1367.5 L1835.2,1367.8 L1836.6,1368.0 L1838.0,1368.0 L1839.4,1367.6 L1840.8,1367.7 L1842.2,1368.1 L1843.6,1369.4 L1845.0,1369.9 L1846.4,1369.7 L1847.8,1369.4 L1849.2,1369.7 L1850.6,1370.2 L1852.0,1370.3 L1853.4,1369.9 L1854.8,1369.4 L1856.2,1369.2 L1857.6,1369.4 L1859.0,1369.4 L1860.4,1369.2 L1861.8,1368.3 L1863.2,1367.9 L1864.6,1367.7 L1866.0,1368.4 L1867.4,1368.9 L1868.8,1369.0 L1870.2,1369.1 L1871.6,1369.7 L1873.0,1370.3 L1874.4,1370.6 L1875.8,1371.2 L1877.2,1370.8 L1878.6,1370.3 L1880.0,1370.2 L1881.4,1370.7 L1882.8,1370.7 L1884.2,1370.4 L1885.6,1369.9 L1887.0,1369.4 L1888.4,1369.4 L1889.8,1369.7 L1891.2,1369.6 L1892.6,1369.4 L1894.0,1369.7 L1895.4,1370.3 L1896.8,1370.8 L1898.2,1370.1 L1899.6,1369.6 L1901.0,1369.5 L1902.4,1370.2 L1903.8,1370.4 L1905.2,1370.8 L1906.6,1371.0 L1908.0,1371.1 L1909.4,1370.9 L1910.8,1371.2 L1912.2,1371.1 L1913.6,1371.4 L1915.0,1371.5 L1916.4,1371.7 L1917.8,1371.3 L1919.2,1371.4 L1920.6,1371.7 L1922.0,1372.1 L1923.4,1372.1 L1924.8,1372.0 L1926.2,1371.9 L1927.6,1372.1 L1929.0,1372.0 L1930.4,1371.2 L1931.8,1371.0 L1933.2,1371.4 L1934.6,1371.6 L1936.0,1371.0 L1937.4,1370.8 L1938.8,1371.9 L1940.2,1372.5 L1941.6,1372.1 L1943.0,1371.4 L1944.4,1371.4 L1945.8,1372.4 L1947.2,1372.2 L1948.6,1371.3 L1950.0,1370.6 L1951.4,1371.1 L1952.8,1371.7 L1954.2,1371.0 L1955.6,1371.1 L1957.0,1372.1 L1958.4,1372.3 L1959.8,1372.2 L1961.2,1371.8 L1962.6,1373.0 L1964.0,1373.1 L1965.4,1373.1 L1966.8,1372.6 L1968.2,1372.8 L1969.6,1372.6 L1971.0,1372.4 L1972.4,1372.2 L1973.8,1371.7 L1975.2,1372.0 L1976.6,1372.5 L1978.0,1372.7 L1979.4,1372.1 L1980.8,1371.8 L1982.2,1371.4 L1983.6,1371.2 L1985.0,1371.6 L1986.4,1372.1 L1987.8,1372.7 L1989.2,1372.9 L1990.6,1372.8 L1992.0,1372.8 L1993.4,1372.6 L1994.8,1372.4 L1996.2,1372.0 L1997.6,1372.6 L1999.0,1372.9 L2000.4,1373.2 L2001.8,1372.4 L2003.2,1372.1 L2004.6,1372.1 L2006.0,1372.7 L2007.4,1372.8 L2008.8,1372.7 L2010.2,1372.7 L2011.6,1373.2 L2013.0,1373.2 L2014.4,1373.2 L2015.8,1373.0 L2017.2,1373.0 L2018.6,1372.7 L2020.0,1372.6 L2021.4,1372.5 L2022.8,1372.4 L2024.2,1373.2 L2025.6,1374.0 L2027.0,1374.0 L2028.4,1373.9 L2029.8,1373.6 L2031.2,1373.6 L2032.6,1373.4 L2034.0,1373.6 L2035.4,1374.2 L2036.8,1374.3 L2038.2,1373.5 L2039.6,1373.0 L2041.0,1373.1 L2042.4,1373.2 L2043.8,1371.8 L2045.2,1372.0 L2046.6,1372.8 L2048.0,1374.1 L2049.4,1374.1 L2050.8,1374.4 L2052.2,1374.2 L2053.6,1374.0 L2055.0,1373.3 L2056.4,1373.0 L2057.8,1373.1 L2059.2,1373.6 L2060.6,1373.3 L2062.0,1372.8 L2063.4,1372.8 L2064.8,1373.0 L2066.2,1372.9 L2067.6,1373.0 L2069.0,1372.6 L2070.4,1372.0 L2071.8,1372.8 L2073.2,1373.6" stroke="#F14040"/>
<path d="M256.0,1373.4 L257.4,1373.8 L258.8,1374.5 L260.2,1374.1 L261.6,1373.6 L263.0,1373.5 L264.4,1374.2 L265.8,1374.2 L267.2,1373.6 L268.6,1373.6 L270.0,1374.4 L271.4,1374.9 L272.8,1374.3 L274.2,1374.0 L275.6,1374.0 L277.0,1374.5 L278.4,1374.0 L279.8,1373.8 L281.2,1373.6 L282.6,1373.6 L284.0,1373.5 L285.4,1373.7 L286.8,1374.0 L288.2,1374.0 L289.6,1373.6 L291.0,1373.5 L292.4,1373.7 L293.8,1374.3 L295.2,1374.6 L296.6,1374.2 L298.0,1373.3 L299.4,1373.0 L300.8,1373.8 L302.2,1375.0 L303.6,1375.3 L305.0,1374.7 L306.4,1374.1 L307.8,1373.8 L309.2,1373.4 L310.6,1373.9 L312.0,1374.8 L313.4,1375.2 L314.8,1374.6 L316.2,1375.1 L317.6,1375.1 L319.0,1375.1 L320.4,1374.3 L321.8,1373.5 L323.2,1373.5 L324.6,1374.6 L326.0,1375.3 L327.4,1374.8 L328.8,1374.3 L330.2,1373.9 L331.6,1374.3 L333.0,1374.7 L334.4,1375.0 L335.8,1374.6 L337.2,1374.7 L338.6,1374.7 L340.0,1374.8 L341.4,1374.1 L342.8,1373.9 L344.2,1374.6 L345.6,1374.9 L347.0,1374.4 L348.4,1374.1 L349.8,1374.7 L351.2,1374.9 L352.6,1374.1 L354.0,1373.7 L355.4,1373.3 L356.8,1373.4 L358.2,1373.4 L359.6,1373.9 L361.0,1374.3 L362.4,1375.3 L363.8,1375.9 L365.2,1375.6 L366.6,1374.3 L368.0,1373.6 L369.4,1373.1 L370.8,1373.2 L372.2,1373.1 L373.6,1373.1 L375.0,1373.3 L376.4,1373.4 L377.8,1373.0 L379.2,1372.6 L380.6,1373.1 L382.0,1373.8 L383.4,1374.5 L384.8,1374.8 L386.2,1374.7 L387.6,1374.4 L389.0,1373.7 L390.4,1374.3 L391.8,1374.9 L393.2,1375.2 L394.6,1373.9 L396.0,1373.5 L397.4,1373.2 L398.8,1373.1 L400.2,1373.3 L401.6,1374.1 L403.0,1374.1 L404.4,1374.1 L405.8,1373.9 L407.2,1374.0 L408.6,1373.6 L410.0,1373.6 L411.4,1373.6 L412.8,1373.6 L414.2,1374.3 L415.6,1374.3 L417.0,1375.0 L418.4,1374.3 L419.8,1374.4 L421.2,1373.5 L422.6,1373.2 L424.0,1373.1 L425.4,1373.9 L426.8,1373.9 L428.2,1374.1 L429.6,1373.8 L431.0,1374.1 L432.4,1373.9 L433.8,1374.4 L435.2,1373.8 L436.6,1373.9 L438.0,1374.3 L439.4,1374.6 L440.8,1373.7 L442.2,1372.9 L443.6,1372.5 L445.0,1373.0 L446.4,1373.7 L447.8,1373.7 L449.2,1373.2 L450.6,1373.9 L452.0,1374.4 L453.4,1374.2 L454.8,1374.1 L456.2,1374.5 L457.6,1374.7 L459.0,1374.0 L460.4,1373.2 L461.8,1372.7 L463.2,1372.8 L464.6,1373.3 L466.0,1373.9 L467.4,1374.3 L468.8,1374.4 L470.2,1374.3 L471.6,1373.8 L473.0,1372.9 L474.4,1372.6 L475.8,1372.8 L477.2,1373.2 L478.6,1373.3 L480.0,1373.3 L481.4,1373.0 L482.8,1373.1 L484.2,1373.6 L485.6,1373.8 L487.0,1373.9 L488.4,1373.9 L489.8,1373.7 L491.2,1373.5 L492.6,1374.3 L494.0,1374.6 L495.4,1374.7 L496.8,1374.7 L498.2,1375.5 L499.6,1374.8 L501.0,1374.8 L502.4,1374.6 L503.8,1374.6 L505.2,1373.9 L506.6,1374.0 L508.0,1374.2 L509.4,1374.2 L510.8,1374.4 L512.2,1374.3 L513.6,1373.8 L515.0,1373.6 L516.4,1374.2 L517.8,1374.9 L519.2,1374.4 L520.6,1374.2 L522.0,1374.3 L523.4,1375.1 L524.8,1374.5 L526.2,1374.1 L527.6,1373.6 L529.0,1373.4 L530.4,1373.0 L531.8,1373.5 L533.2,1374.1 L534.6,1373.9 L536.0,1373.8 L537.4,1374.5 L538.8,1375.0 L540.2,1374.5 L541.6,1374.0 L543.0,1374.1 L544.4,1374.2 L545.8,1373.8 L547.2,1373.7 L548.6,1374.6 L550.0,1374.6 L551.4,1373.2 L552.8,1372.0 L554.2,1372.2 L555.6,1373.0 L557.0,1373.8 L558.4,1374.2 L559.8,1373.9 L561.2,1373.7 L562.6,1373.5 L564.0,1373.6 L565.4,1373.5 L566.8,1374.6 L568.2,1375.2 L569.6,1375.0 L571.0,1373.6 L572.4,1373.2 L573.8,1372.9 L575.2,1372.9 L576.6,1372.9 L578.0,1373.7 L579.4,1374.0 L580.8,1373.8 L582.2,1373.1 L583.6,1372.8 L585.0,1373.0 L586.4,1373.5 L587.8,1374.3 L589.2,1374.2 L590.6,1374.4 L592.0,1374.3 L593.4,1374.5 L594.8,1373.4 L596.2,1372.7 L597.6,1373.0 L599.0,1374.4 L600.4,1374.9 L601.8,1374.8 L603.2,1374.3 L604.6,1374.0 L606.0,1373.5 L607.4,1373.9 L608.8,1374.3 L610.2,1374.4 L611.6,1373.9 L613.0,1374.0 L614.4,1374.2 L615.8,1374.1 L617.2,1374.3 L618.6,1374.6 L620.0,1374.7 L621.4,1374.6 L622.8,1375.0 L624.2,1374.9 L625.6,1374.5 L627.0,1373.9 L628.4,1373.5 L629.8,1372.6 L631.2,1373.2 L632.6,1373.2 L634.0,1373.8 L635.4,1373.4 L636.8,1373.5 L638.2,1373.2 L639.6,1373.7 L641.0,1374.3 L642.4,1374.9 L643.8,1375.1 L645.2,1375.0 L646.6,1374.3 L648.0,1374.3 L649.4,1374.2 L650.8,1374.1 L652.2,1373.8 L653.6,1373.8 L655.0,1374.0 L656.4,1374.2 L657.8,1374.1 L659.2,1373.7 L660.6,1373.8 L662.0,1373.5 L663.4,1373.3 L664.8,1373.7 L666.2,1373.6 L667.6,1373.1 L669.0,1373.0 L670.4,1373.5 L671.8,1374.4 L673.2,1373.7 L674.6,1374.2 L676.0,1374.3 L677.4,1375.4 L678.8,1374.8 L680.2,1374.3 L681.6,1373.8 L683.0,1374.0 L684.4,1373.7 L685.8,1373.7 L687.2,1373.8 L688.6,1374.0 L690.0,1373.7 L691.4,1373.5 L692.8,1373.5 L694.2,1373.8 L695.6,1374.2 L697.0,1374.0 L698.4,1373.4 L699.8,1373.2 L701.2,1373.4 L702.6,1373.5 L704.0,1373.6 L705.4,1374.0 L706.8,1374.0 L708.2,1374.3 L709.6,1374.2 L711.0,1374.6 L712.4,1374.2 L713.8,1373.9 L715.2,1373.2 L716.6,1373.5 L718.0,1374.2 L719.4,1375.3 L720.8,1375.6 L722.2,1375.3 L723.6,1374.5 L725.0,1374.1 L726.4,1374.1 L727.8,1374.6 L729.2,1374.9 L730.6,1374.6 L732.0,1373.7 L733.4,1373.9 L734.8,1374.5 L736.2,1374.5 L737.6,1374.4 L739.0,1374.3 L740.4,1374.1 L741.8,1373.6 L743.2,1373.1 L744.6,1373.3 L746.0,1373.3 L747.4,1373.6 L748.8,1373.1 L750.2,1373.7 L751.6,1374.0 L753.0,1374.2 L754.4,1373.4 L755.8,1373.2 L757.2,1372.9 L758.6,1373.4 L760.0,1373.7 L761.4,1374.2 L762.8,1374.7 L764.2,1375.0 L765.6,1375.1 L767.0,1374.4 L768.4,1374.1 L769.8,1374.2 L771.2,1374.7 L772.6,1374.3 L774.0,1374.1 L775.4,1374.1 L776.8,1374.8 L778.2,1374.7 L779.6,1374.0 L781.0,1373.2 L782.4,1373.6 L783.8,1374.4 L785.2,1374.2 L786.6,1373.5 L788.0,1373.5 L789.4,1373.3 L790.8,1372.2 L792.2,1371.8 L793.6,1372.5 L795.0,1373.5 L796.4,1373.9 L797.8,1373.9 L799.2,1374.1 L800.6,1373.6 L802.0,1373.1 L803.4,1372.8 L804.8,1373.0 L806.2,1372.9 L807.6,1373.2 L809.0,1373.5 L810.4,1373.2 L811.8,1373.0 L813.2,1373.8 L814.6,1374.2 L816.0,1373.5 L817.4,1372.8 L818.8,1373.6 L820.2,1374.3 L821.6,1373.8 L823.0,1373.8 L824.4,1373.6 L825.8,1373.4 L827.2,1372.8 L828.6,1373.1 L830.0,1373.8 L831.4,1374.3 L832.8,1374.3 L834.2,1374.3 L835.6,1374.2 L837.0,1374.4 L838.4,1373.7 L839.8,1372.9 L841.2,1372.8 L842.6,1373.1 L844.0,1373.3 L845.4,1373.1 L846.8,1373.4 L848.2,1373.3 L849.6,1373.8 L851.0,1373.3 L852.4,1373.3 L853.8,1374.0 L855.2,1375.0 L856.6,1374.4 L858.0,1373.9 L859.4,1374.5 L860.8,1374.3 L862.2,1373.7 L863.6,1373.2 L865.0,1373.7 L866.4,1373.8 L867.8,1374.1 L869.2,1373.8 L870.6,1373.6 L872.0,1373.2 L873.4,1373.1 L874.8,1373.0 L876.2,1373.2 L877.6,1373.0 L879.0,1373.5 L880.4,1373.8 L881.8,1373.5 L883.2,1373.1 L884.6,1373.1 L886.0,1373.4 L887.4,1373.1 L888.8,1373.2 L890.2,1373.0 L891.6,1372.6 L893.0,1372.3 L894.4,1372.8 L895.8,1372.3 L897.2,1371.6 L898.6,1371.1 L900.0,1371.4 L901.4,1370.5 L902.8,1370.8 L904.2,1371.2 L905.6,1371.7 L907.0,1371.2 L908.4,1370.8 L909.8,1369.9 L911.2,1369.6 L912.6,1369.6 L914.0,1369.3 L915.4,1368.6 L916.8,1367.8 L918.2,1367.6 L919.6,1367.5 L921.0,1366.6 L922.4,1365.2 L923.8,1364.6 L925.2,1364.2 L926.6,1363.7 L928.0,1362.7 L929.4,1362.0 L930.8,1361.6 L932.2,1361.5 L933.6,1360.8 L935.0,1360.3 L936.4,1359.2 L937.8,1358.9 L939.2,1357.9 L940.6,1356.7 L942.0,1354.3 L943.4,1351.8 L944.8,1350.2 L946.2,1349.6 L947.6,1350.0 L949.0,1348.6 L950.4,1347.6 L951.8,1346.1 L953.2,1345.4 L954.6,1342.9 L956.0,1341.6 L957.4,1340.5 L958.8,1340.4 L960.2,1339.4 L961.6,1337.9 L963.0,1336.7 L964.4,1336.0 L965.8,1335.3 L967.2,1334.1 L968.6,1333.0 L970.0,1331.4 L971.4,1329.1 L972.8,1326.7 L974.2,1325.6 L975.6,1324.9 L977.0,1323.5 L978.4,1320.9 L979.8,1318.6 L981.2,1316.4 L982.6,1314.2 L984.0,1311.5 L985.4,1309.6 L986.8,1307.5 L988.2,1304.6 L989.6,1300.6 L991.0,1297.4 L992.4,1295.0 L993.8,1292.8 L995.2,1289.7 L996.6,1285.9 L998.0,1282.0 L999.4,1278.0 L1000.8,1274.4 L1002.2,1270.9 L1003.6,1267.9 L1005.0,1263.2 L1006.4,1258.2 L1007.8,1252.9 L1009.2,1248.2 L1010.6,1242.6 L1012.0,1236.7 L1013.4,1231.7 L1014.8,1227.4 L1016.2,1222.6 L1017.6,1217.7 L1019.0,1212.9 L1020.4,1207.8 L1021.8,1202.0 L1023.2,1196.1 L1024.6,1190.5 L1026.0,1185.1 L1027.4,1179.2 L1028.8,1173.0 L1030.2,1166.5 L1031.6,1159.8 L1033.0,1153.2 L1034.4,1147.4 L1035.8,1141.9 L1037.2,1136.6 L1038.6,1130.5 L1040.0,1124.8 L1041.4,1119.6 L1042.8,1115.1 L1044.2,1110.0 L1045.6,1105.0 L1047.0,1100.4 L1048.4,1095.9 L1049.8,1091.5 L1051.2,1087.3 L1052.6,1082.7 L1054.0,1078.2 L1055.4,1073.1 L1056.8,1068.1 L1058.2,1062.7 L1059.6,1057.9 L1061.0,1053.4 L1062.4,1048.9 L1063.8,1045.1 L1065.2,1041.0 L1066.6,1037.1 L1068.0,1032.9 L1069.4,1029.0 L1070.8,1025.7 L1072.2,1022.8 L1073.6,1020.7 L1075.0,1018.3 L1076.4,1016.4 L1077.8,1013.8 L1079.2,1010.9 L1080.6,1006.6 L1082.0,1002.0 L1083.4,997.4 L1084.8,993.5 L1086.2,989.5 L1087.6,985.7 L1089.0,983.0 L1090.4,980.0 L1091.8,976.0 L1093.2,971.7 L1094.6,967.9 L1096.0,964.7 L1097.4,960.9 L1098.8,956.2 L1100.2,950.8 L1101.6,946.3 L1103.0,940.4 L1104.4,934.7 L1105.8,929.3 L1107.2,923.1 L1108.6,914.2 L1110.0,905.2 L1111.4,896.0 L1112.8,885.7 L1114.2,873.2 L1115.6,857.3 L1117.0,837.9 L1118.4,803.2 L1119.8,769.9 L1121.2,727.7 L1122.6,669.0 L1124.0,607.8 L1125.4,553.6 L1126.8,488.5 L1128.2,446.4 L1129.6,409.6 L1131.0,376.2 L1132.4,340.6 L1133.8,305.1 L1135.2,274.5 L1136.6,247.6 L1138.0,222.7 L1139.4,200.9 L1140.8,187.5 L1142.2,177.5 L1143.6,172.9 L1145.0,182.5 L1146.4,203.0 L1147.8,237.7 L1149.2,280.6 L1150.6,318.3 L1152.0,351.3 L1153.4,380.2 L1154.8,405.1 L1156.2,423.1 L1157.6,424.7 L1159.0,417.5 L1160.4,410.5 L1161.8,404.2 L1163.2,400.4 L1164.6,399.4 L1166.0,401.7 L1167.4,406.4 L1168.8,412.0 L1170.2,418.3 L1171.6,426.6 L1173.0,436.8 L1174.4,448.0 L1175.8,459.3 L1177.2,470.6 L1178.6,482.7 L1180.0,501.1 L1181.4,523.9 L1182.8,543.6 L1184.2,567.9 L1185.6,595.8 L1187.0,622.1 L1188.4,648.6 L1189.8,682.2 L1191.2,715.9 L1192.6,739.7 L1194.0,760.3 L1195.4,781.4 L1196.8,801.9 L1198.2,819.4 L1199.6,834.6 L1201.0,849.1 L1202.4,861.5 L1203.8,871.8 L1205.2,878.8 L1206.6,883.3 L1208.0,886.3 L1209.4,889.9 L1210.8,892.3 L1212.2,895.2 L1213.6,897.1 L1215.0,898.8 L1216.4,900.2 L1217.8,902.4 L1219.2,904.5 L1220.6,907.0 L1222.0,909.5 L1223.4,911.5 L1224.8,912.2 L1226.2,913.0 L1227.6,914.1 L1229.0,916.1 L1230.4,917.7 L1231.8,919.1 L1233.2,919.6 L1234.6,919.8 L1236.0,920.1 L1237.4,921.0 L1238.8,922.7 L1240.2,924.0 L1241.6,925.1 L1243.0,925.9 L1244.4,927.6 L1245.8,929.1 L1247.2,929.8 L1248.6,930.2 L1250.0,931.1 L1251.4,931.6 L1252.8,931.3 L1254.2,930.2 L1255.6,926.9 L1257.0,923.3 L1258.4,919.8 L1259.8,916.8 L1261.2,912.5 L1262.6,907.0 L1264.0,900.7 L1265.4,893.5 L1266.8,885.3 L1268.2,875.9 L1269.6,867.7 L1271.0,861.2 L1272.4,856.0 L1273.8,850.9 L1275.2,846.0 L1276.6,841.2 L1278.0,836.2 L1279.4,830.0 L1280.8,822.1 L1282.2,816.6 L1283.6,814.5 L1285.0,813.2 L1286.4,813.5 L1287.8,815.2 L1289.2,816.7 L1290.6,818.4 L1292.0,820.3 L1293.4,822.3 L1294.8,822.7 L1296.2,822.0 L1297.6,819.9 L1299.0,817.9 L1300.4,815.6 L1301.8,812.6 L1303.2,808.8 L1304.6,806.3 L1306.0,805.4 L1307.4,806.5 L1308.8,809.6 L1310.2,811.4 L1311.6,812.0 L1313.0,812.4 L1314.4,814.3 L1315.8,818.4 L1317.2,825.2 L1318.6,833.6 L1320.0,845.0 L1321.4,856.3 L1322.8,867.4 L1324.2,878.4 L1325.6,889.4 L1327.0,900.5 L1328.4,911.5 L1329.8,921.9 L1331.2,931.9 L1332.6,941.0 L1334.0,949.2 L1335.4,957.8 L1336.8,966.8 L1338.2,976.1 L1339.6,983.0 L1341.0,985.5 L1342.4,987.8 L1343.8,989.4 L1345.2,990.6 L1346.6,991.2 L1348.0,992.0 L1349.4,992.6 L1350.8,993.9 L1352.2,995.3 L1353.6,997.3 L1355.0,999.1 L1356.4,1001.6 L1357.8,1003.4 L1359.2,1005.5 L1360.6,1007.0 L1362.0,1009.3 L1363.4,1011.9 L1364.8,1015.6 L1366.2,1019.2 L1367.6,1023.4 L1369.0,1026.3 L1370.4,1029.9 L1371.8,1033.0 L1373.2,1037.2 L1374.6,1039.5 L1376.0,1041.9 L1377.4,1043.4 L1378.8,1046.3 L1380.2,1047.7 L1381.6,1048.8 L1383.0,1048.9 L1384.4,1049.3 L1385.8,1049.3 L1387.2,1050.0 L1388.6,1050.4 L1390.0,1050.2 L1391.4,1049.3 L1392.8,1048.3 L1394.2,1046.7 L1395.6,1044.6 L1397.0,1042.4 L1398.4,1039.5 L1399.8,1036.1 L1401.2,1031.9 L1402.6,1027.9 L1404.0,1024.6 L1405.4,1021.2 L1406.8,1017.6 L1408.2,1013.8 L1409.6,1010.4 L1411.0,1006.6 L1412.4,1000.0 L1413.8,994.1 L1415.2,990.1 L1416.6,987.1 L1418.0,984.8 L1419.4,984.9 L1420.8,986.6 L1422.2,987.4 L1423.6,987.2 L1425.0,987.1 L1426.4,988.1 L1427.8,988.3 L1429.2,986.7 L1430.6,986.1 L1432.0,986.4 L1433.4,987.4 L1434.8,988.1 L1436.2,989.8 L1437.6,992.3 L1439.0,999.4 L1440.4,1008.0 L1441.8,1014.6 L1443.2,1021.0 L1444.6,1028.8 L1446.0,1037.0 L1447.4,1044.0 L1448.8,1050.9 L1450.2,1059.2 L1451.6,1068.1 L1453.0,1076.5 L1454.4,1085.1 L1455.8,1093.8 L1457.2,1102.1 L1458.6,1109.8 L1460.0,1117.0 L1461.4,1123.5 L1462.8,1130.5 L1464.2,1136.7 L1465.6,1141.4 L1467.0,1144.8 L1468.4,1148.2 L1469.8,1151.4 L1471.2,1154.1 L1472.6,1156.8 L1474.0,1159.3 L1475.4,1161.1 L1476.8,1162.2 L1478.2,1163.8 L1479.6,1165.8 L1481.0,1167.5 L1482.4,1168.3 L1483.8,1168.9 L1485.2,1170.6 L1486.6,1173.1 L1488.0,1175.4 L1489.4,1176.3 L1490.8,1177.5 L1492.2,1178.7 L1493.6,1180.4 L1495.0,1181.7 L1496.4,1183.0 L1497.8,1184.0 L1499.2,1184.7 L1500.6,1186.0 L1502.0,1187.3 L1503.4,1189.6 L1504.8,1191.7 L1506.2,1194.1 L1507.6,1195.7 L1509.0,1197.0 L1510.4,1198.2 L1511.8,1199.5 L1513.2,1201.3 L1514.6,1202.9 L1516.0,1204.1 L1517.4,1205.1 L1518.8,1206.6 L1520.2,1208.2 L1521.6,1209.8 L1523.0,1211.8 L1524.4,1213.2 L1525.8,1213.9 L1527.2,1214.0 L1528.6,1215.2 L1530.0,1216.7 L1531.4,1218.0 L1532.8,1219.2 L1534.2,1221.0 L1535.6,1222.7 L1537.0,1223.5 L1538.4,1224.2 L1539.8,1225.7 L1541.2,1226.5 L1542.6,1227.5 L1544.0,1229.1 L1545.4,1230.8 L1546.8,1231.8 L1548.2,1232.1 L1549.6,1232.5 L1551.0,1233.1 L1552.4,1234.2 L1553.8,1235.3 L1555.2,1236.2 L1556.6,1237.5 L1558.0,1239.0 L1559.4,1238.9 L1560.8,1238.3 L1562.2,1237.5 L1563.6,1237.6 L1565.0,1237.2 L1566.4,1236.5 L1567.8,1234.7 L1569.2,1233.2 L1570.6,1232.9 L1572.0,1233.4 L1573.4,1233.5 L1574.8,1233.4 L1576.2,1233.7 L1577.6,1234.1 L1579.0,1233.7 L1580.4,1232.6 L1581.8,1232.8 L1583.2,1234.5 L1584.6,1236.7 L1586.0,1238.4 L1587.4,1240.0 L1588.8,1242.2 L1590.2,1244.6 L1591.6,1247.2 L1593.0,1249.2 L1594.4,1251.4 L1595.8,1253.8 L1597.2,1255.8 L1598.6,1257.5 L1600.0,1259.2 L1601.4,1261.8 L1602.8,1263.8 L1604.2,1265.2 L1605.6,1265.5 L1607.0,1265.7 L1608.4,1265.2 L1609.8,1265.3 L1611.2,1266.3 L1612.6,1267.3 L1614.0,1267.7 L1615.4,1267.5 L1616.8,1267.2 L1618.2,1266.5 L1619.6,1265.8 L1621.0,1265.5 L1622.4,1265.3 L1623.8,1265.1 L1625.2,1264.7 L1626.6,1264.4 L1628.0,1264.7 L1629.4,1265.4 L1630.8,1267.0 L1632.2,1267.9 L1633.6,1269.0 L1635.0,1271.0 L1636.4,1273.4 L1637.8,1274.5 L1639.2,1275.4 L1640.6,1277.8 L1642.0,1279.9 L1643.4,1281.3 L1644.8,1282.5 L1646.2,1283.8 L1647.6,1285.9 L1649.0,1287.5 L1650.4,1288.2 L1651.8,1287.7 L1653.2,1288.3 L1654.6,1289.1 L1656.0,1289.8 L1657.4,1290.1 L1658.8,1289.7 L1660.2,1289.7 L1661.6,1290.1 L1663.0,1290.9 L1664.4,1290.8 L1665.8,1291.4 L1667.2,1292.2 L1668.6,1293.5 L1670.0,1294.2 L1671.4,1295.2 L1672.8,1296.4 L1674.2,1297.5 L1675.6,1298.3 L1677.0,1299.2 L1678.4,1301.1 L1679.8,1302.2 L1681.2,1303.7 L1682.6,1304.9 L1684.0,1307.0 L1685.4,1308.9 L1686.8,1310.6 L1688.2,1311.7 L1689.6,1312.3 L1691.0,1314.0 L1692.4,1315.5 L1693.8,1316.9 L1695.2,1316.7 L1696.6,1316.5 L1698.0,1317.3 L1699.4,1318.7 L1700.8,1319.5 L1702.2,1320.0 L1703.6,1320.3 L1705.0,1321.1 L1706.4,1321.8 L1707.8,1322.9 L1709.2,1323.0 L1710.6,1323.6 L1712.0,1323.9 L1713.4,1324.8 L1714.8,1325.6 L1716.2,1326.5 L1717.6,1326.7 L1719.0,1326.8 L1720.4,1325.9 L1721.8,1325.9 L1723.2,1326.1 L1724.6,1327.1 L1726.0,1326.9 L1727.4,1326.4 L1728.8,1325.9 L1730.2,1326.1 L1731.6,1326.8 L1733.0,1326.7 L1734.4,1325.9 L1735.8,1325.9 L1737.2,1326.0 L1738.6,1326.8 L1740.0,1326.6 L1741.4,1326.4 L1742.8,1326.0 L1744.2,1326.7 L1745.6,1327.3 L1747.0,1328.8 L1748.4,1330.4 L1749.8,1332.7 L1751.2,1333.3 L1752.6,1333.7 L1754.0,1334.2 L1755.4,1335.7 L1756.8,1337.6 L1758.2,1338.7 L1759.6,1339.1 L1761.0,1338.6 L1762.4,1338.1 L1763.8,1338.1 L1765.2,1338.2 L1766.6,1338.5 L1768.0,1338.1 L1769.4,1338.5 L1770.8,1339.3 L1772.2,1341.3 L1773.6,1342.1 L1775.0,1342.1 L1776.4,1341.7 L1777.8,1341.5 L1779.2,1341.7 L1780.6,1341.3 L1782.0,1342.4 L1783.4,1343.4 L1784.8,1343.9 L1786.2,1343.5 L1787.6,1344.0 L1789.0,1344.9 L1790.4,1345.3 L1791.8,1345.0 L1793.2,1344.7 L1794.6,1344.9 L1796.0,1345.8 L1797.4,1346.1 L1798.8,1345.8 L1800.2,1346.0 L1801.6,1346.5 L1803.0,1347.2 L1804.4,1347.4 L1805.8,1348.1 L1807.2,1348.6 L1808.6,1349.1 L1810.0,1349.2 L1811.4,1348.5 L1812.8,1348.1 L1814.2,1348.3 L1815.6,1349.5 L1817.0,1350.5 L1818.4,1351.2 L1819.8,1351.1 L1821.2,1350.7 L1822.6,1350.5 L1824.0,1350.7 L1825.4,1350.7 L1826.8,1350.2 L1828.2,1350.6 L1829.6,1350.7 L1831.0,1351.2 L1832.4,1350.8 L1833.8,1351.5 L1835.2,1351.4 L1836.6,1352.1 L1838.0,1351.6 L1839.4,1351.8 L1840.8,1352.2 L1842.2,1352.8 L1843.6,1352.9 L1845.0,1352.7 L1846.4,1352.3 L1847.8,1352.3 L1849.2,1353.1 L1850.6,1353.7 L1852.0,1353.8 L1853.4,1353.8 L1854.8,1353.8 L1856.2,1353.8 L1857.6,1354.1 L1859.0,1355.3 L1860.4,1355.3 L1861.8,1355.5 L1863.2,1355.5 L1864.6,1355.6 L1866.0,1354.7 L1867.4,1354.7 L1868.8,1355.7 L1870.2,1356.4 L1871.6,1356.9 L1873.0,1357.2 L1874.4,1356.7 L1875.8,1355.6 L1877.2,1355.7 L1878.6,1356.3 L1880.0,1357.3 L1881.4,1357.6 L1882.8,1357.7 L1884.2,1358.1 L1885.6,1358.9 L1887.0,1359.7 L1888.4,1358.9 L1889.8,1358.4 L1891.2,1358.2 L1892.6,1358.6 L1894.0,1358.5 L1895.4,1358.9 L1896.8,1359.4 L1898.2,1360.1 L1899.6,1359.9 L1901.0,1360.3 L1902.4,1360.6 L1903.8,1359.9 L1905.2,1359.2 L1906.6,1359.5 L1908.0,1360.9 L1909.4,1361.3 L1910.8,1361.2 L1912.2,1360.8 L1913.6,1361.3 L1915.0,1361.5 L1916.4,1361.5 L1917.8,1361.2 L1919.2,1361.6 L1920.6,1361.9 L1922.0,1361.7 L1923.4,1361.7 L1924.8,1362.0 L1926.2,1362.6 L1927.6,1362.8 L1929.0,1363.5 L1930.4,1363.9 L1931.8,1363.7 L1933.2,1363.2 L1934.6,1362.6 L1936.0,1363.3 L1937.4,1363.9 L1938.8,1364.7 L1940.2,1364.2 L1941.6,1363.3 L1943.0,1363.2 L1944.4,1363.8 L1945.8,1364.4 L1947.2,1364.0 L1948.6,1364.3 L1950.0,1364.5 L1951.4,1364.0 L1952.8,1364.0 L1954.2,1364.0 L1955.6,1364.2 L1957.0,1364.5 L1958.4,1365.3 L1959.8,1365.3 L1961.2,1364.1 L1962.6,1363.7 L1964.0,1364.3 L1965.4,1365.0 L1966.8,1364.5 L1968.2,1364.0 L1969.6,1363.8 L1971.0,1364.3 L1972.4,1365.0 L1973.8,1365.9 L1975.2,1365.7 L1976.6,1365.4 L1978.0,1365.5 L1979.4,1365.7 L1980.8,1365.6 L1982.2,1366.2 L1983.6,1366.8 L1985.0,1367.1 L1986.4,1366.4 L1987.8,1366.4 L1989.2,1365.7 L1990.6,1365.8 L1992.0,1366.4 L1993.4,1367.9 L1994.8,1368.6 L1996.2,1368.4 L1997.6,1367.8 L1999.0,1367.3 L2000.4,1367.1 L2001.8,1367.4 L2003.2,1367.5 L2004.6,1367.8 L2006.0,1367.6 L2007.4,1367.1 L2008.8,1366.5 L2010.2,1366.4 L2011.6,1366.6 L2013.0,1367.4 L2014.4,1368.2 L2015.8,1368.6 L2017.2,1368.7 L2018.6,1369.4 L2020.0,1369.2 L2021.4,1369.1 L2022.8,1369.1 L2024.2,1369.2 L2025.6,1369.0 L2027.0,1368.5 L2028.4,1368.1 L2029.8,1368.0 L2031.2,1368.8 L2032.6,1369.1 L2034.0,1369.0 L2035.4,1369.2 L2036.8,1370.0 L2038.2,1370.4 L2039.6,1370.5 L2041.0,1370.0 L2042.4,1369.5 L2043.8,1369.2 L2045.2,1369.4 L2046.6,1369.3 L2048.0,1369.8 L2049.4,1370.1 L2050.8,1369.8 L2052.2,1369.3 L2053.6,1370.2 L2055.0,1370.7 L2056.4,1370.8 L2057.8,1370.2 L2059.2,1369.9 L2060.6,1369.3 L2062.0,1369.4 L2063.4,1370.2 L2064.8,1370.3 L2066.2,1370.6 L2067.6,1370.0 L2069.0,1370.0 L2070.4,1369.8 L2071.8,1370.5 L2073.2,1370.5" stroke="#1A6FDF"/>
<path d="M256.0,1373.6 L257.4,1373.5 L258.8,1373.3 L260.2,1374.5 L261.6,1374.7 L263.0,1374.8 L264.4,1373.6 L265.8,1373.4 L267.2,1373.0 L268.6,1373.6 L270.0,1373.9 L271.4,1374.4 L272.8,1373.9 L274.2,1373.7 L275.6,1374.0 L277.0,1374.1 L278.4,1373.4 L279.8,1373.0 L281.2,1373.2 L282.6,1373.5 L284.0,1373.7 L285.4,1374.0 L286.8,1374.2 L288.2,1373.9 L289.6,1374.5 L291.0,1374.9 L292.4,1374.9 L293.8,1374.2 L295.2,1373.5 L296.6,1373.6 L298.0,1374.2 L299.4,1374.1 L300.8,1374.0 L302.2,1373.5 L303.6,1373.4 L305.0,1372.6 L306.4,1373.6 L307.8,1374.4 L309.2,1374.8 L310.6,1373.9 L312.0,1374.1 L313.4,1373.6 L314.8,1373.4 L316.2,1374.0 L317.6,1374.8 L319.0,1374.6 L320.4,1374.1 L321.8,1374.0 L323.2,1373.9 L324.6,1374.1 L326.0,1374.5 L327.4,1374.5 L328.8,1374.1 L330.2,1374.1 L331.6,1374.0 L333.0,1374.6 L334.4,1374.9 L335.8,1374.7 L337.2,1373.3 L338.6,1373.1 L340.0,1373.8 L341.4,1374.3 L342.8,1373.2 L344.2,1372.5 L345.6,1373.2 L347.0,1373.7 L348.4,1373.7 L349.8,1373.5 L351.2,1374.3 L352.6,1374.6 L354.0,1374.4 L355.4,1373.8 L356.8,1374.3 L358.2,1374.9 L359.6,1375.0 L361.0,1373.9 L362.4,1373.1 L363.8,1373.4 L365.2,1373.8 L366.6,1374.2 L368.0,1374.3 L369.4,1374.5 L370.8,1374.5 L372.2,1374.5 L373.6,1374.2 L375.0,1373.7 L376.4,1374.3 L377.8,1374.5 L379.2,1374.1 L380.6,1373.7 L382.0,1374.3 L383.4,1374.0 L384.8,1373.2 L386.2,1373.3 L387.6,1374.1 L389.0,1375.1 L390.4,1375.0 L391.8,1374.8 L393.2,1374.1 L394.6,1373.9 L396.0,1373.5 L397.4,1373.8 L398.8,1374.1 L400.2,1374.7 L401.6,1374.4 L403.0,1374.3 L404.4,1374.1 L405.8,1373.9 L407.2,1373.3 L408.6,1373.1 L410.0,1373.3 L411.4,1373.6 L412.8,1374.1 L414.2,1374.2 L415.6,1374.1 L417.0,1374.0 L418.4,1373.4 L419.8,1373.4 L421.2,1373.3 L422.6,1373.5 L424.0,1373.5 L425.4,1373.9 L426.8,1373.5 L428.2,1372.8 L429.6,1372.7 L431.0,1373.5 L432.4,1374.2 L433.8,1374.6 L435.2,1374.9 L436.6,1375.0 L438.0,1374.6 L439.4,1373.8 L440.8,1373.2 L442.2,1373.1 L443.6,1373.6 L445.0,1374.0 L446.4,1374.2 L447.8,1374.0 L449.2,1374.1 L450.6,1374.3 L452.0,1374.4 L453.4,1374.3 L454.8,1374.1 L456.2,1373.5 L457.6,1373.5 L459.0,1374.0 L460.4,1374.3 L461.8,1373.9 L463.2,1374.5 L464.6,1374.6 L466.0,1374.3 L467.4,1373.7 L468.8,1373.7 L470.2,1373.6 L471.6,1374.3 L473.0,1375.1 L474.4,1375.2 L475.8,1374.8 L477.2,1374.5 L478.6,1374.6 L480.0,1374.4 L481.4,1374.1 L482.8,1373.8 L484.2,1374.2 L485.6,1374.5 L487.0,1374.7 L488.4,1373.7 L489.8,1373.7 L491.2,1374.6 L492.6,1375.8 L494.0,1375.2 L495.4,1374.0 L496.8,1373.6 L498.2,1373.5 L499.6,1373.9 L501.0,1373.8 L502.4,1374.3 L503.8,1374.7 L505.2,1374.2 L506.6,1373.7 L508.0,1373.2 L509.4,1373.3 L510.8,1373.0 L512.2,1373.2 L513.6,1374.0 L515.0,1373.9 L516.4,1374.0 L517.8,1374.6 L519.2,1375.4 L520.6,1375.1 L522.0,1374.4 L523.4,1373.8 L524.8,1373.7 L526.2,1374.0 L527.6,1374.6 L529.0,1375.3 L530.4,1375.6 L531.8,1375.3 L533.2,1374.9 L534.6,1374.4 L536.0,1373.6 L537.4,1372.9 L538.8,1373.2 L540.2,1373.8 L541.6,1374.0 L543.0,1374.7 L544.4,1375.1 L545.8,1375.5 L547.2,1374.7 L548.6,1374.3 L550.0,1374.4 L551.4,1374.2 L552.8,1373.9 L554.2,1374.0 L555.6,1374.5 L557.0,1374.8 L558.4,1375.2 L559.8,1374.8 L561.2,1374.1 L562.6,1373.5 L564.0,1373.9 L565.4,1373.7 L566.8,1374.1 L568.2,1374.2 L569.6,1374.8 L571.0,1374.5 L572.4,1373.8 L573.8,1373.9 L575.2,1374.2 L576.6,1375.0 L578.0,1374.7 L579.4,1374.9 L580.8,1375.0 L582.2,1375.1 L583.6,1375.2 L585.0,1374.2 L586.4,1374.1 L587.8,1373.8 L589.2,1374.1 L590.6,1373.9 L592.0,1374.1 L593.4,1374.7 L594.8,1374.2 L596.2,1373.7 L597.6,1373.2 L599.0,1374.1 L600.4,1374.1 L601.8,1374.3 L603.2,1373.9 L604.6,1374.2 L606.0,1374.5 L607.4,1374.5 L608.8,1374.2 L610.2,1373.4 L611.6,1373.5 L613.0,1373.9 L614.4,1374.3 L615.8,1374.4 L617.2,1373.6 L618.6,1372.9 L620.0,1372.1 L621.4,1372.6 L622.8,1373.3 L624.2,1373.8 L625.6,1373.9 L627.0,1374.2 L628.4,1374.1 L629.8,1373.6 L631.2,1372.9 L632.6,1373.7 L634.0,1373.7 L635.4,1373.6 L636.8,1373.6 L638.2,1374.7 L639.6,1374.4 L641.0,1373.8 L642.4,1374.0 L643.8,1374.8 L645.2,1374.5 L646.6,1374.3 L648.0,1374.1 L649.4,1374.7 L650.8,1375.0 L652.2,1374.9 L653.6,1373.8 L655.0,1373.4 L656.4,1374.3 L657.8,1375.1 L659.2,1375.0 L660.6,1375.1 L662.0,1374.8 L663.4,1374.6 L664.8,1373.9 L666.2,1374.1 L667.6,1373.9 L669.0,1374.5 L670.4,1374.4 L671.8,1373.9 L673.2,1372.9 L674.6,1373.3 L676.0,1373.5 L677.4,1374.1 L678.8,1373.7 L680.2,1373.6 L681.6,1373.8 L683.0,1374.3 L684.4,1374.5 L685.8,1374.4 L687.2,1374.3 L688.6,1373.5 L690.0,1373.5 L691.4,1374.0 L692.8,1374.7 L694.2,1373.8 L695.6,1372.9 L697.0,1371.9 L698.4,1372.2 L699.8,1373.3 L701.2,1374.4 L702.6,1374.6 L704.0,1374.2 L705.4,1374.3 L706.8,1374.3 L708.2,1374.2 L709.6,1374.1 L711.0,1373.5 L712.4,1373.0 L713.8,1373.6 L715.2,1374.3 L716.6,1374.2 L718.0,1373.6 L719.4,1373.5 L720.8,1374.0 L722.2,1374.2 L723.6,1373.9 L725.0,1372.4 L726.4,1372.1 L727.8,1372.1 L729.2,1372.4 L730.6,1372.8 L732.0,1374.0 L733.4,1373.9 L734.8,1373.7 L736.2,1373.9 L737.6,1374.2 L739.0,1374.0 L740.4,1373.5 L741.8,1373.1 L743.2,1372.5 L744.6,1372.6 L746.0,1373.3 L747.4,1373.6 L748.8,1373.3 L750.2,1372.7 L751.6,1373.2 L753.0,1373.6 L754.4,1374.2 L755.8,1374.0 L757.2,1373.5 L758.6,1373.0 L760.0,1373.3 L761.4,1373.5 L762.8,1373.6 L764.2,1374.3 L765.6,1374.6 L767.0,1374.3 L768.4,1374.2 L769.8,1374.3 L771.2,1373.8 L772.6,1373.0 L774.0,1373.3 L775.4,1373.9 L776.8,1374.2 L778.2,1374.0 L779.6,1374.3 L781.0,1374.7 L782.4,1374.2 L783.8,1373.5 L785.2,1373.4 L786.6,1374.1 L788.0,1374.1 L789.4,1373.8 L790.8,1373.4 L792.2,1372.9 L793.6,1372.9 L795.0,1373.1 L796.4,1373.7 L797.8,1373.5 L799.2,1373.4 L800.6,1373.0 L802.0,1372.9 L803.4,1373.2 L804.8,1373.6 L806.2,1374.0 L807.6,1373.5 L809.0,1373.5 L810.4,1372.9 L811.8,1372.9 L813.2,1372.8 L814.6,1373.6 L816.0,1373.9 L817.4,1374.0 L818.8,1374.0 L820.2,1374.1 L821.6,1374.3 L823.0,1374.3 L824.4,1374.2 L825.8,1373.8 L827.2,1373.7 L828.6,1373.6 L830.0,1373.7 L831.4,1374.1 L832.8,1374.6 L834.2,1374.3 L835.6,1373.3 L837.0,1372.9 L838.4,1373.2 L839.8,1373.9 L841.2,1373.9 L842.6,1373.7 L844.0,1373.6 L845.4,1373.7 L846.8,1373.6 L848.2,1373.9 L849.6,1374.8 L851.0,1375.0 L852.4,1374.4 L853.8,1373.6 L855.2,1373.4 L856.6,1373.5 L858.0,1373.8 L859.4,1373.5 L860.8,1373.4 L862.2,1373.3 L863.6,1373.5 L865.0,1374.0 L866.4,1374.3 L867.8,1373.5 L869.2,1372.5 L870.6,1372.0 L872.0,1372.2 L873.4,1372.7 L874.8,1373.5 L876.2,1373.5 L877.6,1373.3 L879.0,1373.0 L880.4,1372.6 L881.8,1371.9 L883.2,1371.8 L884.6,1372.7 L886.0,1373.0 L887.4,1373.3 L888.8,1373.5 L890.2,1373.8 L891.6,1373.1 L893.0,1372.4 L894.4,1372.3 L895.8,1372.5 L897.2,1372.7 L898.6,1372.9 L900.0,1373.1 L901.4,1373.1 L902.8,1372.6 L904.2,1372.0 L905.6,1371.6 L907.0,1370.9 L908.4,1370.6 L909.8,1370.3 L911.2,1370.0 L912.6,1370.0 L914.0,1369.4 L915.4,1368.6 L916.8,1367.5 L918.2,1366.8 L919.6,1366.0 L921.0,1365.0 L922.4,1364.6 L923.8,1364.3 L925.2,1364.4 L926.6,1364.4 L928.0,1364.0 L929.4,1363.4 L930.8,1362.4 L932.2,1361.0 L933.6,1359.8 L935.0,1358.5 L936.4,1357.2 L937.8,1356.2 L939.2,1355.7 L940.6,1354.7 L942.0,1353.1 L943.4,1352.0 L944.8,1350.3 L946.2,1348.5 L947.6,1346.8 L949.0,1345.9 L950.4,1344.7 L951.8,1344.2 L953.2,1343.3 L954.6,1342.0 L956.0,1340.1 L957.4,1338.4 L958.8,1337.2 L960.2,1336.2 L961.6,1335.3 L963.0,1333.2 L964.4,1331.2 L965.8,1329.9 L967.2,1329.0 L968.6,1327.8 L970.0,1325.5 L971.4,1323.4 L972.8,1321.0 L974.2,1319.1 L975.6,1316.8 L977.0,1314.7 L978.4,1311.9 L979.8,1309.0 L981.2,1305.6 L982.6,1302.3 L984.0,1299.5 L985.4,1297.0 L986.8,1293.7 L988.2,1289.8 L989.6,1286.5 L991.0,1284.1 L992.4,1281.1 L993.8,1277.4 L995.2,1272.3 L996.6,1267.4 L998.0,1263.0 L999.4,1258.9 L1000.8,1253.9 L1002.2,1248.2 L1003.6,1243.0 L1005.0,1238.0 L1006.4,1232.7 L1007.8,1226.3 L1009.2,1221.2 L1010.6,1216.1 L1012.0,1211.3 L1013.4,1206.2 L1014.8,1200.9 L1016.2,1195.1 L1017.6,1189.3 L1019.0,1184.5 L1020.4,1179.5 L1021.8,1175.1 L1023.2,1170.0 L1024.6,1164.4 L1026.0,1158.6 L1027.4,1152.7 L1028.8,1146.4 L1030.2,1140.5 L1031.6,1134.5 L1033.0,1128.0 L1034.4,1121.6 L1035.8,1116.0 L1037.2,1110.1 L1038.6,1105.1 L1040.0,1100.4 L1041.4,1095.6 L1042.8,1090.2 L1044.2,1085.2 L1045.6,1080.0 L1047.0,1075.3 L1048.4,1071.7 L1049.8,1067.8 L1051.2,1063.2 L1052.6,1057.3 L1054.0,1052.1 L1055.4,1046.9 L1056.8,1043.0 L1058.2,1038.9 L1059.6,1035.4 L1061.0,1031.8 L1062.4,1028.7 L1063.8,1025.4 L1065.2,1022.8 L1066.6,1020.1 L1068.0,1017.4 L1069.4,1014.6 L1070.8,1012.2 L1072.2,1009.6 L1073.6,1006.3 L1075.0,1002.3 L1076.4,997.8 L1077.8,993.8 L1079.2,990.7 L1080.6,987.1 L1082.0,984.0 L1083.4,980.8 L1084.8,978.0 L1086.2,975.1 L1087.6,972.6 L1089.0,970.4 L1090.4,967.8 L1091.8,964.1 L1093.2,960.5 L1094.6,958.1 L1096.0,956.6 L1097.4,954.4 L1098.8,951.3 L1100.2,948.0 L1101.6,944.5 L1103.0,942.5 L1104.4,941.3 L1105.8,939.0 L1107.2,935.9 L1108.6,932.9 L1110.0,929.3 L1111.4,925.2 L1112.8,920.9 L1114.2,917.2 L1115.6,911.6 L1117.0,905.4 L1118.4,898.2 L1119.8,889.8 L1121.2,878.5 L1122.6,865.1 L1124.0,848.4 L1125.4,834.6 L1126.8,820.7 L1128.2,805.4 L1129.6,788.1 L1131.0,773.9 L1132.4,760.9 L1133.8,748.9 L1135.2,735.9 L1136.6,724.9 L1138.0,715.4 L1139.4,706.6 L1140.8,698.6 L1142.2,693.3 L1143.6,691.5 L1145.0,697.4 L1146.4,707.8 L1147.8,718.1 L1149.2,729.4 L1150.6,740.8 L1152.0,751.6 L1153.4,759.5 L1154.8,767.1 L1156.2,770.6 L1157.6,768.3 L1159.0,764.2 L1160.4,760.7 L1161.8,758.7 L1163.2,757.4 L1164.6,757.7 L1166.0,758.4 L1167.4,760.3 L1168.8,763.5 L1170.2,766.3 L1171.6,769.1 L1173.0,771.7 L1174.4,774.4 L1175.8,777.1 L1177.2,780.2 L1178.6,783.7 L1180.0,788.0 L1181.4,795.2 L1182.8,804.0 L1184.2,815.3 L1185.6,826.6 L1187.0,835.9 L1188.4,845.5 L1189.8,855.4 L1191.2,864.0 L1192.6,870.5 L1194.0,877.2 L1195.4,883.3 L1196.8,889.0 L1198.2,893.1 L1199.6,897.7 L1201.0,902.4 L1202.4,907.5 L1203.8,910.6 L1205.2,912.2 L1206.6,913.8 L1208.0,914.6 L1209.4,915.3 L1210.8,915.7 L1212.2,916.5 L1213.6,917.4 L1215.0,918.3 L1216.4,919.3 L1217.8,920.3 L1219.2,921.1 L1220.6,922.0 L1222.0,922.2 L1223.4,922.7 L1224.8,923.6 L1226.2,925.2 L1227.6,926.8 L1229.0,928.3 L1230.4,928.8 L1231.8,929.2 L1233.2,929.4 L1234.6,931.5 L1236.0,932.9 L1237.4,933.9 L1238.8,933.8 L1240.2,934.9 L1241.6,935.8 L1243.0,936.8 L1244.4,936.6 L1245.8,937.6 L1247.2,939.0 L1248.6,940.8 L1250.0,941.9 L1251.4,942.5 L1252.8,942.4 L1254.2,942.2 L1255.6,942.5 L1257.0,942.3 L1258.4,941.9 L1259.8,941.4 L1261.2,941.3 L1262.6,940.8 L1264.0,939.9 L1265.4,938.9 L1266.8,937.0 L1268.2,935.3 L1269.6,934.0 L1271.0,933.1 L1272.4,930.9 L1273.8,929.3 L1275.2,928.8 L1276.6,927.8 L1278.0,926.4 L1279.4,925.0 L1280.8,923.5 L1282.2,921.4 L1283.6,920.2 L1285.0,920.1 L1286.4,921.8 L1287.8,924.3 L1289.2,926.1 L1290.6,927.2 L1292.0,928.4 L1293.4,928.9 L1294.8,928.8 L1296.2,928.5 L1297.6,929.1 L1299.0,930.5 L1300.4,931.5 L1301.8,930.8 L1303.2,929.3 L1304.6,927.9 L1306.0,927.9 L1307.4,927.8 L1308.8,928.6 L1310.2,928.9 L1311.6,929.5 L1313.0,930.1 L1314.4,931.5 L1315.8,933.8 L1317.2,937.3 L1318.6,943.8 L1320.0,949.6 L1321.4,954.1 L1322.8,958.0 L1324.2,963.8 L1325.6,969.2 L1327.0,974.8 L1328.4,980.3 L1329.8,985.7 L1331.2,991.3 L1332.6,996.4 L1334.0,1000.3 L1335.4,1002.7 L1336.8,1004.9 L1338.2,1007.0 L1339.6,1009.4 L1341.0,1011.9 L1342.4,1013.8 L1343.8,1015.0 L1345.2,1015.9 L1346.6,1017.2 L1348.0,1018.3 L1349.4,1020.0 L1350.8,1022.2 L1352.2,1025.0 L1353.6,1026.6 L1355.0,1027.7 L1356.4,1029.6 L1357.8,1032.4 L1359.2,1034.1 L1360.6,1035.3 L1362.0,1037.1 L1363.4,1040.3 L1364.8,1042.4 L1366.2,1044.4 L1367.6,1046.0 L1369.0,1048.8 L1370.4,1050.9 L1371.8,1052.5 L1373.2,1053.3 L1374.6,1055.2 L1376.0,1057.3 L1377.4,1058.6 L1378.8,1059.7 L1380.2,1060.7 L1381.6,1062.1 L1383.0,1063.3 L1384.4,1064.9 L1385.8,1066.7 L1387.2,1068.5 L1388.6,1070.8 L1390.0,1072.9 L1391.4,1074.6 L1392.8,1075.0 L1394.2,1075.8 L1395.6,1076.0 L1397.0,1075.6 L1398.4,1075.5 L1399.8,1076.5 L1401.2,1077.2 L1402.6,1076.7 L1404.0,1075.6 L1405.4,1074.8 L1406.8,1075.0 L1408.2,1075.3 L1409.6,1075.1 L1411.0,1074.4 L1412.4,1074.2 L1413.8,1074.8 L1415.2,1075.6 L1416.6,1075.5 L1418.0,1074.7 L1419.4,1074.9 L1420.8,1077.1 L1422.2,1079.4 L1423.6,1081.5 L1425.0,1082.4 L1426.4,1083.3 L1427.8,1084.5 L1429.2,1086.5 L1430.6,1087.4 L1432.0,1087.7 L1433.4,1088.9 L1434.8,1090.8 L1436.2,1093.0 L1437.6,1095.6 L1439.0,1099.0 L1440.4,1102.8 L1441.8,1106.2 L1443.2,1109.1 L1444.6,1111.9 L1446.0,1115.1 L1447.4,1118.5 L1448.8,1121.7 L1450.2,1125.7 L1451.6,1129.5 L1453.0,1133.8 L1454.4,1137.7 L1455.8,1141.9 L1457.2,1145.3 L1458.6,1148.7 L1460.0,1152.3 L1461.4,1155.2 L1462.8,1157.7 L1464.2,1159.9 L1465.6,1163.1 L1467.0,1165.8 L1468.4,1167.5 L1469.8,1168.4 L1471.2,1169.6 L1472.6,1171.5 L1474.0,1173.3 L1475.4,1175.9 L1476.8,1177.0 L1478.2,1178.4 L1479.6,1179.5 L1481.0,1181.3 L1482.4,1182.1 L1483.8,1183.3 L1485.2,1184.8 L1486.6,1186.6 L1488.0,1187.7 L1489.4,1189.3 L1490.8,1190.5 L1492.2,1192.7 L1493.6,1194.0 L1495.0,1195.8 L1496.4,1197.0 L1497.8,1198.6 L1499.2,1199.6 L1500.6,1200.5 L1502.0,1201.6 L1503.4,1203.4 L1504.8,1205.8 L1506.2,1206.5 L1507.6,1207.2 L1509.0,1208.5 L1510.4,1210.3 L1511.8,1211.5 L1513.2,1213.3 L1514.6,1215.8 L1516.0,1216.9 L1517.4,1217.8 L1518.8,1219.3 L1520.2,1221.1 L1521.6,1222.0 L1523.0,1222.9 L1524.4,1223.6 L1525.8,1224.4 L1527.2,1225.9 L1528.6,1227.5 L1530.0,1229.4 L1531.4,1230.5 L1532.8,1230.5 L1534.2,1230.8 L1535.6,1232.3 L1537.0,1234.4 L1538.4,1235.7 L1539.8,1236.4 L1541.2,1237.7 L1542.6,1238.8 L1544.0,1240.1 L1545.4,1240.7 L1546.8,1241.4 L1548.2,1242.5 L1549.6,1243.1 L1551.0,1243.7 L1552.4,1244.6 L1553.8,1246.4 L1555.2,1247.7 L1556.6,1248.6 L1558.0,1249.4 L1559.4,1250.7 L1560.8,1251.8 L1562.2,1252.6 L1563.6,1252.4 L1565.0,1253.0 L1566.4,1254.1 L1567.8,1255.5 L1569.2,1256.5 L1570.6,1256.6 L1572.0,1257.2 L1573.4,1257.3 L1574.8,1257.6 L1576.2,1258.0 L1577.6,1258.7 L1579.0,1259.3 L1580.4,1259.9 L1581.8,1260.4 L1583.2,1261.7 L1584.6,1263.4 L1586.0,1265.1 L1587.4,1265.8 L1588.8,1267.1 L1590.2,1268.5 L1591.6,1270.2 L1593.0,1271.9 L1594.4,1272.9 L1595.8,1273.5 L1597.2,1273.9 L1598.6,1273.9 L1600.0,1274.1 L1601.4,1275.3 L1602.8,1277.8 L1604.2,1278.9 L1605.6,1279.9 L1607.0,1280.9 L1608.4,1281.6 L1609.8,1282.0 L1611.2,1282.9 L1612.6,1283.8 L1614.0,1283.3 L1615.4,1283.6 L1616.8,1284.2 L1618.2,1284.8 L1619.6,1284.8 L1621.0,1285.3 L1622.4,1286.2 L1623.8,1287.1 L1625.2,1288.2 L1626.6,1288.6 L1628.0,1288.6 L1629.4,1288.6 L1630.8,1289.5 L1632.2,1290.4 L1633.6,1292.1 L1635.0,1292.9 L1636.4,1293.4 L1637.8,1293.7 L1639.2,1295.1 L1640.6,1296.1 L1642.0,1296.4 L1643.4,1297.1 L1644.8,1298.3 L1646.2,1299.4 L1647.6,1299.8 L1649.0,1300.3 L1650.4,1301.1 L1651.8,1302.1 L1653.2,1301.6 L1654.6,1301.3 L1656.0,1301.8 L1657.4,1303.4 L1658.8,1304.5 L1660.2,1305.8 L1661.6,1306.9 L1663.0,1307.5 L1664.4,1307.8 L1665.8,1308.9 L1667.2,1309.7 L1668.6,1310.2 L1670.0,1311.0 L1671.4,1312.1 L1672.8,1311.9 L1674.2,1312.0 L1675.6,1312.7 L1677.0,1314.0 L1678.4,1315.0 L1679.8,1316.1 L1681.2,1316.7 L1682.6,1317.2 L1684.0,1318.0 L1685.4,1318.7 L1686.8,1319.1 L1688.2,1319.7 L1689.6,1320.2 L1691.0,1320.5 L1692.4,1321.1 L1693.8,1321.5 L1695.2,1321.7 L1696.6,1322.7 L1698.0,1323.8 L1699.4,1324.5 L1700.8,1324.6 L1702.2,1325.3 L1703.6,1325.8 L1705.0,1326.4 L1706.4,1326.7 L1707.8,1327.3 L1709.2,1327.6 L1710.6,1328.3 L1712.0,1327.8 L1713.4,1327.5 L1714.8,1327.8 L1716.2,1328.8 L1717.6,1328.9 L1719.0,1328.7 L1720.4,1328.6 L1721.8,1328.5 L1723.2,1327.0 L1724.6,1326.0 L1726.0,1325.0 L1727.4,1325.1 L1728.8,1325.4 L1730.2,1325.2 L1731.6,1325.2 L1733.0,1324.8 L1734.4,1324.1 L1735.8,1322.6 L1737.2,1323.3 L1738.6,1324.5 L1740.0,1325.1 L1741.4,1324.6 L1742.8,1324.7 L1744.2,1325.8 L1745.6,1327.4 L1747.0,1330.0 L1748.4,1331.8 L1749.8,1332.5 L1751.2,1333.3 L1752.6,1334.8 L1754.0,1336.5 L1755.4,1337.7 L1756.8,1338.8 L1758.2,1339.6 L1759.6,1339.8 L1761.0,1339.9 L1762.4,1339.9 L1763.8,1340.2 L1765.2,1341.0 L1766.6,1341.7 L1768.0,1342.2 L1769.4,1342.2 L1770.8,1342.5 L1772.2,1342.8 L1773.6,1343.1 L1775.0,1343.4 L1776.4,1343.9 L1777.8,1343.8 L1779.2,1344.1 L1780.6,1344.5 L1782.0,1344.9 L1783.4,1344.9 L1784.8,1344.9 L1786.2,1345.7 L1787.6,1346.0 L1789.0,1346.4 L1790.4,1347.0 L1791.8,1347.7 L1793.2,1347.2 L1794.6,1346.7 L1796.0,1347.4 L1797.4,1348.1 L1798.8,1348.5 L1800.2,1348.7 L1801.6,1349.1 L1803.0,1348.9 L1804.4,1348.6 L1805.8,1348.6 L1807.2,1348.9 L1808.6,1349.5 L1810.0,1350.0 L1811.4,1350.1 L1812.8,1350.0 L1814.2,1350.3 L1815.6,1350.0 L1817.0,1349.8 L1818.4,1349.6 L1819.8,1350.3 L1821.2,1350.7 L1822.6,1351.1 L1824.0,1351.0 L1825.4,1351.5 L1826.8,1352.0 L1828.2,1351.9 L1829.6,1351.6 L1831.0,1351.5 L1832.4,1352.7 L1833.8,1353.0 L1835.2,1353.2 L1836.6,1352.8 L1838.0,1353.2 L1839.4,1353.4 L1840.8,1354.1 L1842.2,1354.6 L1843.6,1354.9 L1845.0,1355.0 L1846.4,1354.8 L1847.8,1355.0 L1849.2,1355.3 L1850.6,1356.0 L1852.0,1355.4 L1853.4,1355.4 L1854.8,1355.5 L1856.2,1355.8 L1857.6,1356.3 L1859.0,1356.8 L1860.4,1356.9 L1861.8,1356.3 L1863.2,1356.6 L1864.6,1357.3 L1866.0,1357.7 L1867.4,1357.9 L1868.8,1358.2 L1870.2,1357.8 L1871.6,1357.1 L1873.0,1356.6 L1874.4,1357.1 L1875.8,1358.0 L1877.2,1358.9 L1878.6,1358.6 L1880.0,1358.0 L1881.4,1358.3 L1882.8,1358.8 L1884.2,1358.9 L1885.6,1358.8 L1887.0,1358.6 L1888.4,1358.8 L1889.8,1359.3 L1891.2,1360.2 L1892.6,1359.8 L1894.0,1359.4 L1895.4,1359.2 L1896.8,1359.7 L1898.2,1360.2 L1899.6,1360.6 L1901.0,1361.3 L1902.4,1362.0 L1903.8,1361.8 L1905.2,1360.9 L1906.6,1361.2 L1908.0,1361.7 L1909.4,1362.3 L1910.8,1362.6 L1912.2,1362.7 L1913.6,1362.1 L1915.0,1361.8 L1916.4,1361.8 L1917.8,1361.6 L1919.2,1361.6 L1920.6,1362.3 L1922.0,1362.8 L1923.4,1362.8 L1924.8,1362.5 L1926.2,1362.3 L1927.6,1362.9 L1929.0,1362.7 L1930.4,1362.6 L1931.8,1362.6 L1933.2,1363.2 L1934.6,1363.4 L1936.0,1364.0 L1937.4,1364.3 L1938.8,1364.0 L1940.2,1363.5 L1941.6,1363.9 L1943.0,1364.1 L1944.4,1364.5 L1945.8,1364.9 L1947.2,1365.2 L1948.6,1365.6 L1950.0,1365.5 L1951.4,1364.9 L1952.8,1364.4 L1954.2,1364.6 L1955.6,1364.6 L1957.0,1364.8 L1958.4,1365.1 L1959.8,1365.6 L1961.2,1365.0 L1962.6,1364.9 L1964.0,1365.1 L1965.4,1365.3 L1966.8,1365.4 L1968.2,1364.7 L1969.6,1365.1 L1971.0,1365.1 L1972.4,1364.9 L1973.8,1364.2 L1975.2,1364.5 L1976.6,1365.5 L1978.0,1365.7 L1979.4,1366.0 L1980.8,1365.8 L1982.2,1366.8 L1983.6,1367.3 L1985.0,1368.2 L1986.4,1367.4 L1987.8,1367.2 L1989.2,1366.6 L1990.6,1367.0 L1992.0,1367.3 L1993.4,1367.2 L1994.8,1366.5 L1996.2,1366.1 L1997.6,1366.2 L1999.0,1366.4 L2000.4,1366.7 L2001.8,1366.8 L2003.2,1367.1 L2004.6,1367.9 L2006.0,1368.0 L2007.4,1367.7 L2008.8,1367.7 L2010.2,1368.2 L2011.6,1368.2 L2013.0,1368.4 L2014.4,1369.0 L2015.8,1369.5 L2017.2,1369.2 L2018.6,1369.6 L2020.0,1370.2 L2021.4,1370.2 L2022.8,1369.3 L2024.2,1369.2 L2025.6,1369.3 L2027.0,1369.3 L2028.4,1369.1 L2029.8,1369.2 L2031.2,1369.0 L2032.6,1368.5 L2034.0,1368.5 L2035.4,1368.1 L2036.8,1369.2 L2038.2,1370.4 L2039.6,1371.4 L2041.0,1370.8 L2042.4,1370.6 L2043.8,1370.7 L2045.2,1371.0 L2046.6,1371.0 L2048.0,1370.4 L2049.4,1370.0 L2050.8,1369.7 L2052.2,1369.6 L2053.6,1369.0 L2055.0,1369.4 L2056.4,1370.3 L2057.8,1370.3 L2059.2,1370.5 L2060.6,1371.0 L2062.0,1371.3 L2063.4,1370.4 L2064.8,1370.0 L2066.2,1370.5 L2067.6,1370.6 L2069.0,1370.2 L2070.4,1369.9 L2071.8,1369.5 L2073.2,1369.6" stroke="#37AD6B"/>
<path d="M256.0,1374.4 L257.4,1374.7 L258.8,1374.8 L260.2,1374.6 L261.6,1374.7 L263.0,1374.5 L264.4,1374.0 L265.8,1373.6 L267.2,1373.6 L268.6,1374.3 L270.0,1375.1 L271.4,1375.3 L272.8,1374.5 L274.2,1373.6 L275.6,1373.4 L277.0,1374.1 L278.4,1374.7 L279.8,1374.6 L281.2,1373.8 L282.6,1373.9 L284.0,1374.2 L285.4,1374.4 L286.8,1374.1 L288.2,1374.6 L289.6,1374.7 L291.0,1375.0 L292.4,1375.1 L293.8,1375.1 L295.2,1374.7 L296.6,1374.4 L298.0,1374.0 L299.4,1373.5 L300.8,1373.3 L302.2,1373.7 L303.6,1373.9 L305.0,1374.4 L306.4,1374.5 L307.8,1373.5 L309.2,1373.0 L310.6,1372.5 L312.0,1373.4 L313.4,1373.2 L314.8,1373.7 L316.2,1374.2 L317.6,1374.1 L319.0,1373.8 L320.4,1373.5 L321.8,1373.4 L323.2,1373.4 L324.6,1373.7 L326.0,1374.1 L327.4,1373.6 L328.8,1374.6 L330.2,1375.0 L331.6,1374.3 L333.0,1372.8 L334.4,1372.9 L335.8,1373.4 L337.2,1373.7 L338.6,1373.5 L340.0,1373.7 L341.4,1373.7 L342.8,1373.5 L344.2,1373.0 L345.6,1373.1 L347.0,1373.8 L348.4,1374.4 L349.8,1374.4 L351.2,1374.0 L352.6,1374.0 L354.0,1374.8 L355.4,1374.8 L356.8,1374.5 L358.2,1374.2 L359.6,1374.2 L361.0,1373.9 L362.4,1373.8 L363.8,1374.0 L365.2,1374.0 L366.6,1374.4 L368.0,1375.0 L369.4,1374.8 L370.8,1374.3 L372.2,1374.8 L373.6,1374.7 L375.0,1374.4 L376.4,1374.0 L377.8,1374.5 L379.2,1374.6 L380.6,1374.4 L382.0,1374.5 L383.4,1374.8 L384.8,1374.7 L386.2,1374.4 L387.6,1374.0 L389.0,1373.9 L390.4,1373.8 L391.8,1373.5 L393.2,1373.7 L394.6,1374.5 L396.0,1375.5 L397.4,1375.7 L398.8,1374.8 L400.2,1374.5 L401.6,1374.1 L403.0,1374.2 L404.4,1374.3 L405.8,1374.4 L407.2,1374.4 L408.6,1374.1 L410.0,1374.3 L411.4,1373.7 L412.8,1373.7 L414.2,1373.7 L415.6,1374.3 L417.0,1374.7 L418.4,1374.4 L419.8,1373.6 L421.2,1373.2 L422.6,1373.3 L424.0,1373.0 L425.4,1373.2 L426.8,1373.6 L428.2,1373.4 L429.6,1373.0 L431.0,1373.4 L432.4,1373.7 L433.8,1373.3 L435.2,1373.7 L436.6,1374.8 L438.0,1374.6 L439.4,1373.3 L440.8,1373.0 L442.2,1373.3 L443.6,1373.5 L445.0,1373.4 L446.4,1373.9 L447.8,1373.3 L449.2,1372.4 L450.6,1371.8 L452.0,1373.1 L453.4,1374.0 L454.8,1373.7 L456.2,1373.4 L457.6,1373.9 L459.0,1374.4 L460.4,1374.0 L461.8,1373.9 L463.2,1374.5 L464.6,1374.7 L466.0,1374.6 L467.4,1374.3 L468.8,1374.0 L470.2,1373.5 L471.6,1373.6 L473.0,1373.7 L474.4,1373.9 L475.8,1374.1 L477.2,1374.5 L478.6,1374.8 L480.0,1374.0 L481.4,1373.8 L482.8,1373.5 L484.2,1373.7 L485.6,1373.2 L487.0,1373.8 L488.4,1374.5 L489.8,1374.5 L491.2,1373.6 L492.6,1373.3 L494.0,1373.5 L495.4,1374.3 L496.8,1374.1 L498.2,1373.3 L499.6,1372.6 L501.0,1373.3 L502.4,1374.0 L503.8,1374.3 L505.2,1375.0 L506.6,1375.0 L508.0,1374.4 L509.4,1373.1 L510.8,1373.1 L512.2,1373.8 L513.6,1374.4 L515.0,1374.6 L516.4,1374.4 L517.8,1374.9 L519.2,1374.8 L520.6,1374.3 L522.0,1373.4 L523.4,1372.9 L524.8,1372.6 L526.2,1372.8 L527.6,1373.8 L529.0,1375.1 L530.4,1375.1 L531.8,1374.5 L533.2,1373.5 L534.6,1373.8 L536.0,1374.2 L537.4,1374.3 L538.8,1374.1 L540.2,1374.3 L541.6,1373.9 L543.0,1373.6 L544.4,1373.8 L545.8,1374.2 L547.2,1373.7 L548.6,1374.3 L550.0,1375.1 L551.4,1375.8 L552.8,1374.9 L554.2,1373.9 L555.6,1373.6 L557.0,1373.8 L558.4,1373.5 L559.8,1372.7 L561.2,1373.6 L562.6,1374.6 L564.0,1375.2 L565.4,1374.6 L566.8,1374.1 L568.2,1373.8 L569.6,1373.9 L571.0,1373.9 L572.4,1374.3 L573.8,1374.1 L575.2,1373.9 L576.6,1373.9 L578.0,1374.2 L579.4,1374.5 L580.8,1374.1 L582.2,1373.3 L583.6,1373.1 L585.0,1373.1 L586.4,1373.9 L587.8,1373.5 L589.2,1373.1 L590.6,1372.8 L592.0,1373.7 L593.4,1374.3 L594.8,1373.8 L596.2,1373.8 L597.6,1373.5 L599.0,1373.5 L600.4,1373.1 L601.8,1373.4 L603.2,1373.9 L604.6,1374.0 L606.0,1374.2 L607.4,1374.3 L608.8,1373.9 L610.2,1373.1 L611.6,1372.8 L613.0,1373.3 L614.4,1373.7 L615.8,1373.3 L617.2,1373.5 L618.6,1373.9 L620.0,1374.5 L621.4,1373.7 L622.8,1373.3 L624.2,1373.4 L625.6,1374.0 L627.0,1374.0 L628.4,1374.4 L629.8,1374.1 L631.2,1374.5 L632.6,1373.7 L634.0,1373.1 L635.4,1373.0 L636.8,1373.4 L638.2,1373.7 L639.6,1373.4 L641.0,1373.7 L642.4,1373.3 L643.8,1373.5 L645.2,1373.6 L646.6,1373.9 L648.0,1373.9 L649.4,1374.5 L650.8,1374.8 L652.2,1374.4 L653.6,1373.9 L655.0,1374.4 L656.4,1375.1 L657.8,1375.4 L659.2,1374.9 L660.6,1374.5 L662.0,1374.5 L663.4,1374.8 L664.8,1374.5 L666.2,1373.1 L667.6,1372.6 L669.0,1373.4 L670.4,1374.0 L671.8,1373.6 L673.2,1373.3 L674.6,1374.1 L676.0,1374.9 L677.4,1374.3 L678.8,1373.8 L680.2,1373.7 L681.6,1374.0 L683.0,1373.7 L684.4,1374.2 L685.8,1375.2 L687.2,1375.4 L688.6,1373.8 L690.0,1373.0 L691.4,1373.2 L692.8,1374.0 L694.2,1374.0 L695.6,1374.9 L697.0,1375.3 L698.4,1374.6 L699.8,1373.6 L701.2,1373.7 L702.6,1373.8 L704.0,1373.7 L705.4,1374.1 L706.8,1374.4 L708.2,1374.0 L709.6,1373.5 L711.0,1373.7 L712.4,1374.0 L713.8,1374.3 L715.2,1374.6 L716.6,1374.4 L718.0,1373.9 L719.4,1374.5 L720.8,1375.5 L722.2,1375.3 L723.6,1374.8 L725.0,1374.2 L726.4,1373.5 L727.8,1373.3 L729.2,1373.8 L730.6,1374.5 L732.0,1374.3 L733.4,1374.3 L734.8,1374.0 L736.2,1374.0 L737.6,1374.3 L739.0,1374.5 L740.4,1374.5 L741.8,1373.8 L743.2,1373.2 L744.6,1373.5 L746.0,1374.9 L747.4,1375.3 L748.8,1374.6 L750.2,1373.6 L751.6,1373.5 L753.0,1374.0 L754.4,1374.0 L755.8,1373.8 L757.2,1373.9 L758.6,1374.5 L760.0,1374.0 L761.4,1373.8 L762.8,1373.4 L764.2,1374.0 L765.6,1374.2 L767.0,1374.1 L768.4,1374.0 L769.8,1374.6 L771.2,1374.7 L772.6,1374.8 L774.0,1374.4 L775.4,1374.4 L776.8,1374.2 L778.2,1373.9 L779.6,1373.7 L781.0,1373.6 L782.4,1374.3 L783.8,1373.6 L785.2,1373.6 L786.6,1373.4 L788.0,1373.3 L789.4,1373.0 L790.8,1373.1 L792.2,1373.8 L793.6,1373.8 L795.0,1373.7 L796.4,1373.1 L797.8,1373.6 L799.2,1374.1 L800.6,1374.6 L802.0,1374.5 L803.4,1374.0 L804.8,1373.7 L806.2,1374.1 L807.6,1374.5 L809.0,1374.3 L810.4,1373.3 L811.8,1373.6 L813.2,1374.5 L814.6,1375.1 L816.0,1374.5 L817.4,1374.0 L818.8,1373.5 L820.2,1373.2 L821.6,1373.4 L823.0,1373.5 L824.4,1373.1 L825.8,1373.0 L827.2,1373.5 L828.6,1373.9 L830.0,1373.9 L831.4,1373.1 L832.8,1372.9 L834.2,1373.1 L835.6,1373.4 L837.0,1372.8 L838.4,1372.9 L839.8,1373.2 L841.2,1373.8 L842.6,1373.7 L844.0,1374.1 L845.4,1373.9 L846.8,1373.4 L848.2,1373.1 L849.6,1373.2 L851.0,1373.9 L852.4,1373.9 L853.8,1373.8 L855.2,1373.8 L856.6,1374.5 L858.0,1374.9 L859.4,1374.9 L860.8,1374.7 L862.2,1374.6 L863.6,1374.6 L865.0,1374.6 L866.4,1374.3 L867.8,1374.0 L869.2,1374.7 L870.6,1374.9 L872.0,1374.5 L873.4,1373.6 L874.8,1373.6 L876.2,1373.8 L877.6,1373.5 L879.0,1372.7 L880.4,1372.7 L881.8,1372.7 L883.2,1373.2 L884.6,1373.3 L886.0,1374.1 L887.4,1374.6 L888.8,1374.6 L890.2,1373.8 L891.6,1372.7 L893.0,1372.1 L894.4,1372.2 L895.8,1371.8 L897.2,1371.7 L898.6,1371.8 L900.0,1372.5 L901.4,1372.3 L902.8,1372.1 L904.2,1371.5 L905.6,1371.2 L907.0,1370.4 L908.4,1370.4 L909.8,1371.0 L911.2,1371.6 L912.6,1371.3 L914.0,1370.3 L915.4,1370.3 L916.8,1369.9 L918.2,1370.0 L919.6,1369.4 L921.0,1369.0 L922.4,1368.6 L923.8,1368.5 L925.2,1368.4 L926.6,1367.9 L928.0,1367.5 L929.4,1366.9 L930.8,1366.5 L932.2,1366.0 L933.6,1365.6 L935.0,1364.7 L936.4,1363.7 L937.8,1362.7 L939.2,1362.1 L940.6,1361.8 L942.0,1361.6 L943.4,1360.5 L944.8,1359.3 L946.2,1357.4 L947.6,1356.3 L949.0,1355.2 L950.4,1354.2 L951.8,1352.7 L953.2,1351.8 L954.6,1351.7 L956.0,1351.1 L957.4,1349.7 L958.8,1349.1 L960.2,1348.2 L961.6,1346.7 L963.0,1345.1 L964.4,1344.3 L965.8,1342.9 L967.2,1341.2 L968.6,1339.6 L970.0,1338.3 L971.4,1336.4 L972.8,1334.3 L974.2,1332.5 L975.6,1330.9 L977.0,1329.1 L978.4,1326.5 L979.8,1324.9 L981.2,1323.4 L982.6,1321.5 L984.0,1319.3 L985.4,1317.3 L986.8,1314.5 L988.2,1311.9 L989.6,1310.0 L991.0,1308.3 L992.4,1306.0 L993.8,1303.3 L995.2,1300.4 L996.6,1297.7 L998.0,1294.7 L999.4,1291.7 L1000.8,1288.7 L1002.2,1285.7 L1003.6,1282.2 L1005.0,1278.5 L1006.4,1274.4 L1007.8,1270.5 L1009.2,1267.1 L1010.6,1264.1 L1012.0,1260.4 L1013.4,1257.4 L1014.8,1254.2 L1016.2,1250.4 L1017.6,1246.6 L1019.0,1243.5 L1020.4,1240.1 L1021.8,1236.3 L1023.2,1232.6 L1024.6,1229.2 L1026.0,1226.0 L1027.4,1223.2 L1028.8,1220.7 L1030.2,1217.7 L1031.6,1214.3 L1033.0,1210.7 L1034.4,1207.6 L1035.8,1203.9 L1037.2,1200.4 L1038.6,1197.1 L1040.0,1194.0 L1041.4,1190.6 L1042.8,1187.2 L1044.2,1184.2 L1045.6,1181.0 L1047.0,1178.3 L1048.4,1175.6 L1049.8,1173.0 L1051.2,1170.1 L1052.6,1167.5 L1054.0,1164.6 L1055.4,1161.7 L1056.8,1158.5 L1058.2,1155.4 L1059.6,1152.6 L1061.0,1151.5 L1062.4,1150.0 L1063.8,1148.5 L1065.2,1146.8 L1066.6,1145.5 L1068.0,1143.9 L1069.4,1142.4 L1070.8,1141.1 L1072.2,1139.4 L1073.6,1137.4 L1075.0,1134.9 L1076.4,1132.5 L1077.8,1130.6 L1079.2,1128.7 L1080.6,1126.4 L1082.0,1125.8 L1083.4,1124.9 L1084.8,1123.6 L1086.2,1121.3 L1087.6,1120.1 L1089.0,1118.7 L1090.4,1117.4 L1091.8,1115.6 L1093.2,1113.8 L1094.6,1112.3 L1096.0,1111.4 L1097.4,1111.2 L1098.8,1110.6 L1100.2,1109.6 L1101.6,1107.7 L1103.0,1105.8 L1104.4,1103.3 L1105.8,1101.7 L1107.2,1099.9 L1108.6,1098.9 L1110.0,1098.6 L1111.4,1098.6 L1112.8,1097.9 L1114.2,1096.1 L1115.6,1094.1 L1117.0,1091.9 L1118.4,1090.1 L1119.8,1088.0 L1121.2,1084.9 L1122.6,1080.5 L1124.0,1075.4 L1125.4,1070.2 L1126.8,1065.6 L1128.2,1060.7 L1129.6,1056.4 L1131.0,1052.6 L1132.4,1049.1 L1133.8,1044.9 L1135.2,1041.0 L1136.6,1036.8 L1138.0,1033.6 L1139.4,1030.8 L1140.8,1030.1 L1142.2,1030.5 L1143.6,1032.2 L1145.0,1033.9 L1146.4,1035.5 L1147.8,1038.8 L1149.2,1042.9 L1150.6,1046.5 L1152.0,1049.1 L1153.4,1050.7 L1154.8,1051.9 L1156.2,1052.3 L1157.6,1052.7 L1159.0,1051.2 L1160.4,1048.9 L1161.8,1046.5 L1163.2,1045.4 L1164.6,1044.8 L1166.0,1043.8 L1167.4,1043.2 L1168.8,1043.4 L1170.2,1044.8 L1171.6,1045.4 L1173.0,1046.8 L1174.4,1048.2 L1175.8,1050.1 L1177.2,1051.5 L1178.6,1053.2 L1180.0,1055.1 L1181.4,1056.9 L1182.8,1059.2 L1184.2,1061.7 L1185.6,1064.8 L1187.0,1067.5 L1188.4,1069.9 L1189.8,1072.6 L1191.2,1074.9 L1192.6,1076.3 L1194.0,1077.0 L1195.4,1078.5 L1196.8,1080.7 L1198.2,1082.6 L1199.6,1084.3 L1201.0,1086.6 L1202.4,1088.4 L1203.8,1089.3 L1205.2,1089.5 L1206.6,1090.1 L1208.0,1091.2 L1209.4,1092.2 L1210.8,1093.0 L1212.2,1092.0 L1213.6,1092.0 L1215.0,1092.8 L1216.4,1095.0 L1217.8,1095.4 L1219.2,1094.7 L1220.6,1094.5 L1222.0,1094.9 L1223.4,1095.1 L1224.8,1095.0 L1226.2,1096.1 L1227.6,1097.7 L1229.0,1098.7 L1230.4,1098.5 L1231.8,1099.3 L1233.2,1099.7 L1234.6,1100.2 L1236.0,1099.7 L1237.4,1100.9 L1238.8,1101.9 L1240.2,1103.1 L1241.6,1103.2 L1243.0,1103.4 L1244.4,1103.7 L1245.8,1103.5 L1247.2,1104.1 L1248.6,1105.0 L1250.0,1105.8 L1251.4,1105.6 L1252.8,1105.7 L1254.2,1106.5 L1255.6,1106.9 L1257.0,1106.8 L1258.4,1106.2 L1259.8,1105.6 L1261.2,1105.4 L1262.6,1105.9 L1264.0,1106.5 L1265.4,1106.9 L1266.8,1107.4 L1268.2,1108.0 L1269.6,1108.3 L1271.0,1108.6 L1272.4,1108.9 L1273.8,1109.1 L1275.2,1109.3 L1276.6,1109.0 L1278.0,1109.5 L1279.4,1109.5 L1280.8,1110.3 L1282.2,1110.4 L1283.6,1111.3 L1285.0,1111.5 L1286.4,1111.3 L1287.8,1111.5 L1289.2,1112.2 L1290.6,1112.8 L1292.0,1113.0 L1293.4,1113.7 L1294.8,1114.5 L1296.2,1115.0 L1297.6,1114.5 L1299.0,1114.2 L1300.4,1114.4 L1301.8,1115.7 L1303.2,1116.2 L1304.6,1116.0 L1306.0,1115.9 L1307.4,1116.1 L1308.8,1116.4 L1310.2,1116.9 L1311.6,1117.5 L1313.0,1118.9 L1314.4,1120.6 L1315.8,1122.4 L1317.2,1123.1 L1318.6,1124.7 L1320.0,1127.7 L1321.4,1130.5 L1322.8,1132.5 L1324.2,1134.6 L1325.6,1136.7 L1327.0,1138.1 L1328.4,1139.7 L1329.8,1142.0 L1331.2,1144.4 L1332.6,1146.1 L1334.0,1148.1 L1335.4,1149.7 L1336.8,1151.2 L1338.2,1152.3 L1339.6,1154.1 L1341.0,1156.1 L1342.4,1157.9 L1343.8,1159.2 L1345.2,1159.1 L1346.6,1159.3 L1348.0,1160.5 L1349.4,1162.9 L1350.8,1163.9 L1352.2,1165.4 L1353.6,1166.9 L1355.0,1168.2 L1356.4,1168.8 L1357.8,1169.7 L1359.2,1170.6 L1360.6,1171.6 L1362.0,1172.6 L1363.4,1173.1 L1364.8,1173.5 L1366.2,1174.5 L1367.6,1175.4 L1369.0,1176.7 L1370.4,1177.5 L1371.8,1179.0 L1373.2,1180.1 L1374.6,1181.0 L1376.0,1181.3 L1377.4,1182.6 L1378.8,1184.0 L1380.2,1184.5 L1381.6,1185.1 L1383.0,1186.9 L1384.4,1187.9 L1385.8,1188.5 L1387.2,1188.8 L1388.6,1189.8 L1390.0,1190.1 L1391.4,1190.5 L1392.8,1191.4 L1394.2,1192.4 L1395.6,1192.6 L1397.0,1193.2 L1398.4,1193.3 L1399.8,1194.1 L1401.2,1194.4 L1402.6,1195.7 L1404.0,1196.2 L1405.4,1196.9 L1406.8,1197.1 L1408.2,1197.7 L1409.6,1198.2 L1411.0,1199.4 L1412.4,1199.7 L1413.8,1200.5 L1415.2,1201.0 L1416.6,1202.1 L1418.0,1202.6 L1419.4,1203.5 L1420.8,1204.2 L1422.2,1204.8 L1423.6,1205.9 L1425.0,1207.1 L1426.4,1208.6 L1427.8,1209.4 L1429.2,1210.4 L1430.6,1210.7 L1432.0,1211.5 L1433.4,1212.0 L1434.8,1212.5 L1436.2,1213.2 L1437.6,1214.7 L1439.0,1216.6 L1440.4,1218.5 L1441.8,1220.0 L1443.2,1221.2 L1444.6,1221.9 L1446.0,1223.6 L1447.4,1225.8 L1448.8,1227.8 L1450.2,1229.4 L1451.6,1231.3 L1453.0,1233.1 L1454.4,1234.7 L1455.8,1236.0 L1457.2,1236.8 L1458.6,1237.5 L1460.0,1238.7 L1461.4,1240.8 L1462.8,1242.1 L1464.2,1243.1 L1465.6,1243.9 L1467.0,1245.2 L1468.4,1246.6 L1469.8,1248.2 L1471.2,1249.5 L1472.6,1250.4 L1474.0,1250.9 L1475.4,1251.5 L1476.8,1252.3 L1478.2,1253.5 L1479.6,1253.6 L1481.0,1253.9 L1482.4,1254.5 L1483.8,1256.6 L1485.2,1257.2 L1486.6,1257.8 L1488.0,1258.7 L1489.4,1259.8 L1490.8,1259.8 L1492.2,1260.0 L1493.6,1260.8 L1495.0,1262.4 L1496.4,1263.3 L1497.8,1264.9 L1499.2,1265.9 L1500.6,1266.6 L1502.0,1266.6 L1503.4,1267.0 L1504.8,1268.2 L1506.2,1269.9 L1507.6,1271.1 L1509.0,1271.9 L1510.4,1272.1 L1511.8,1272.9 L1513.2,1274.3 L1514.6,1275.2 L1516.0,1276.0 L1517.4,1276.7 L1518.8,1277.4 L1520.2,1277.0 L1521.6,1277.1 L1523.0,1278.9 L1524.4,1280.2 L1525.8,1281.1 L1527.2,1281.7 L1528.6,1282.8 L1530.0,1283.5 L1531.4,1283.9 L1532.8,1284.9 L1534.2,1285.4 L1535.6,1286.6 L1537.0,1287.0 L1538.4,1287.5 L1539.8,1287.7 L1541.2,1288.8 L1542.6,1289.0 L1544.0,1289.2 L1545.4,1289.4 L1546.8,1290.2 L1548.2,1291.0 L1549.6,1291.9 L1551.0,1292.7 L1552.4,1293.0 L1553.8,1294.4 L1555.2,1295.1 L1556.6,1295.2 L1558.0,1294.6 L1559.4,1295.0 L1560.8,1296.0 L1562.2,1297.1 L1563.6,1298.2 L1565.0,1299.0 L1566.4,1299.5 L1567.8,1299.9 L1569.2,1300.4 L1570.6,1301.0 L1572.0,1301.7 L1573.4,1302.7 L1574.8,1303.0 L1576.2,1302.6 L1577.6,1302.5 L1579.0,1303.5 L1580.4,1303.9 L1581.8,1304.3 L1583.2,1305.2 L1584.6,1306.5 L1586.0,1306.7 L1587.4,1307.7 L1588.8,1309.2 L1590.2,1310.1 L1591.6,1310.4 L1593.0,1311.2 L1594.4,1311.5 L1595.8,1312.3 L1597.2,1312.6 L1598.6,1313.1 L1600.0,1312.5 L1601.4,1313.3 L1602.8,1313.6 L1604.2,1314.3 L1605.6,1315.2 L1607.0,1316.2 L1608.4,1316.4 L1609.8,1316.8 L1611.2,1317.0 L1612.6,1317.4 L1614.0,1317.4 L1615.4,1317.9 L1616.8,1318.0 L1618.2,1318.4 L1619.6,1318.7 L1621.0,1318.7 L1622.4,1318.8 L1623.8,1319.3 L1625.2,1319.9 L1626.6,1320.0 L1628.0,1319.9 L1629.4,1320.1 L1630.8,1320.8 L1632.2,1321.5 L1633.6,1322.1 L1635.0,1322.3 L1636.4,1322.6 L1637.8,1322.6 L1639.2,1322.2 L1640.6,1322.5 L1642.0,1323.2 L1643.4,1324.2 L1644.8,1324.4 L1646.2,1325.7 L1647.6,1326.3 L1649.0,1327.0 L1650.4,1327.2 L1651.8,1327.4 L1653.2,1327.1 L1654.6,1327.6 L1656.0,1328.7 L1657.4,1329.7 L1658.8,1330.4 L1660.2,1330.7 L1661.6,1330.6 L1663.0,1330.2 L1664.4,1330.2 L1665.8,1330.1 L1667.2,1329.9 L1668.6,1330.6 L1670.0,1330.5 L1671.4,1330.5 L1672.8,1330.3 L1674.2,1331.0 L1675.6,1330.6 L1677.0,1330.4 L1678.4,1330.5 L1679.8,1330.7 L1681.2,1331.1 L1682.6,1331.7 L1684.0,1332.3 L1685.4,1333.1 L1686.8,1333.6 L1688.2,1334.3 L1689.6,1334.6 L1691.0,1335.4 L1692.4,1336.0 L1693.8,1336.8 L1695.2,1336.9 L1696.6,1337.1 L1698.0,1337.3 L1699.4,1338.1 L1700.8,1339.2 L1702.2,1340.3 L1703.6,1340.4 L1705.0,1340.3 L1706.4,1339.7 L1707.8,1339.2 L1709.2,1339.1 L1710.6,1339.8 L1712.0,1340.3 L1713.4,1340.1 L1714.8,1340.6 L1716.2,1341.3 L1717.6,1341.3 L1719.0,1341.8 L1720.4,1342.6 L1721.8,1342.6 L1723.2,1341.3 L1724.6,1340.3 L1726.0,1339.9 L1727.4,1338.8 L1728.8,1338.1 L1730.2,1337.6 L1731.6,1338.0 L1733.0,1338.8 L1734.4,1338.6 L1735.8,1338.3 L1737.2,1338.1 L1738.6,1339.0 L1740.0,1339.6 L1741.4,1339.8 L1742.8,1340.4 L1744.2,1340.2 L1745.6,1340.3 L1747.0,1340.9 L1748.4,1342.2 L1749.8,1343.1 L1751.2,1343.8 L1752.6,1344.4 L1754.0,1344.8 L1755.4,1345.4 L1756.8,1345.7 L1758.2,1346.6 L1759.6,1347.0 L1761.0,1348.4 L1762.4,1349.6 L1763.8,1350.7 L1765.2,1350.2 L1766.6,1349.6 L1768.0,1349.8 L1769.4,1350.4 L1770.8,1350.9 L1772.2,1350.5 L1773.6,1350.9 L1775.0,1350.8 L1776.4,1351.1 L1777.8,1350.5 L1779.2,1350.5 L1780.6,1351.0 L1782.0,1351.7 L1783.4,1351.9 L1784.8,1352.2 L1786.2,1352.7 L1787.6,1353.3 L1789.0,1352.6 L1790.4,1352.6 L1791.8,1352.9 L1793.2,1353.4 L1794.6,1352.8 L1796.0,1353.1 L1797.4,1353.7 L1798.8,1353.9 L1800.2,1354.0 L1801.6,1354.6 L1803.0,1355.0 L1804.4,1354.8 L1805.8,1355.1 L1807.2,1355.6 L1808.6,1356.3 L1810.0,1355.6 L1811.4,1355.4 L1812.8,1355.8 L1814.2,1356.3 L1815.6,1356.7 L1817.0,1356.5 L1818.4,1357.3 L1819.8,1357.2 L1821.2,1358.2 L1822.6,1358.0 L1824.0,1357.8 L1825.4,1357.4 L1826.8,1357.8 L1828.2,1358.6 L1829.6,1359.2 L1831.0,1359.0 L1832.4,1358.9 L1833.8,1359.1 L1835.2,1359.5 L1836.6,1359.1 L1838.0,1358.7 L1839.4,1359.2 L1840.8,1360.1 L1842.2,1360.3 L1843.6,1359.6 L1845.0,1359.8 L1846.4,1360.0 L1847.8,1360.3 L1849.2,1360.0 L1850.6,1360.0 L1852.0,1360.0 L1853.4,1360.5 L1854.8,1361.7 L1856.2,1362.7 L1857.6,1362.9 L1859.0,1362.7 L1860.4,1362.5 L1861.8,1362.6 L1863.2,1361.9 L1864.6,1362.2 L1866.0,1362.6 L1867.4,1362.8 L1868.8,1362.4 L1870.2,1362.5 L1871.6,1362.5 L1873.0,1362.9 L1874.4,1363.6 L1875.8,1363.9 L1877.2,1363.1 L1878.6,1362.7 L1880.0,1362.6 L1881.4,1362.8 L1882.8,1363.4 L1884.2,1365.0 L1885.6,1365.5 L1887.0,1364.7 L1888.4,1364.1 L1889.8,1363.6 L1891.2,1363.5 L1892.6,1364.0 L1894.0,1365.3 L1895.4,1365.1 L1896.8,1364.0 L1898.2,1364.1 L1899.6,1364.9 L1901.0,1365.2 L1902.4,1365.1 L1903.8,1365.2 L1905.2,1364.7 L1906.6,1364.8 L1908.0,1365.2 L1909.4,1365.4 L1910.8,1364.8 L1912.2,1365.1 L1913.6,1365.4 L1915.0,1366.0 L1916.4,1366.1 L1917.8,1366.7 L1919.2,1366.6 L1920.6,1366.4 L1922.0,1365.5 L1923.4,1365.2 L1924.8,1365.8 L1926.2,1367.7 L1927.6,1368.0 L1929.0,1367.0 L1930.4,1366.2 L1931.8,1367.0 L1933.2,1367.2 L1934.6,1367.1 L1936.0,1366.5 L1937.4,1366.6 L1938.8,1367.0 L1940.2,1368.3 L1941.6,1368.5 L1943.0,1368.0 L1944.4,1367.6 L1945.8,1368.2 L1947.2,1368.6 L1948.6,1368.2 L1950.0,1367.9 L1951.4,1368.2 L1952.8,1368.3 L1954.2,1367.6 L1955.6,1367.5 L1957.0,1368.1 L1958.4,1368.9 L1959.8,1368.9 L1961.2,1368.5 L1962.6,1368.0 L1964.0,1367.7 L1965.4,1367.6 L1966.8,1367.6 L1968.2,1367.9 L1969.6,1368.6 L1971.0,1368.6 L1972.4,1368.6 L1973.8,1368.2 L1975.2,1369.1 L1976.6,1369.4 L1978.0,1369.4 L1979.4,1369.2 L1980.8,1369.3 L1982.2,1369.2 L1983.6,1369.4 L1985.0,1369.9 L1986.4,1370.6 L1987.8,1370.6 L1989.2,1370.6 L1990.6,1370.1 L1992.0,1369.3 L1993.4,1369.2 L1994.8,1369.4 L1996.2,1370.0 L1997.6,1369.9 L1999.0,1369.6 L2000.4,1369.0 L2001.8,1369.2 L2003.2,1370.1 L2004.6,1370.4 L2006.0,1370.2 L2007.4,1370.4 L2008.8,1370.3 L2010.2,1369.9 L2011.6,1369.2 L2013.0,1369.8 L2014.4,1370.2 L2015.8,1370.4 L2017.2,1369.4 L2018.6,1369.2 L2020.0,1369.9 L2021.4,1370.5 L2022.8,1370.3 L2024.2,1370.2 L2025.6,1370.0 L2027.0,1370.0 L2028.4,1370.2 L2029.8,1370.4 L2031.2,1370.0 L2032.6,1370.0 L2034.0,1370.3 L2035.4,1370.5 L2036.8,1370.5 L2038.2,1370.7 L2039.6,1370.5 L2041.0,1370.1 L2042.4,1370.3 L2043.8,1371.1 L2045.2,1371.8 L2046.6,1371.5 L2048.0,1371.3 L2049.4,1371.3 L2050.8,1371.6 L2052.2,1371.3 L2053.6,1371.4 L2055.0,1372.1 L2056.4,1371.7 L2057.8,1371.4 L2059.2,1371.0 L2060.6,1371.2 L2062.0,1371.4 L2063.4,1371.9 L2064.8,1371.6 L2066.2,1371.0 L2067.6,1370.9 L2069.0,1370.8 L2070.4,1371.0 L2071.8,1371.2 L2073.2,1371.6" stroke="#B177DE"/>
<path d="M256.0,1374.2 L257.4,1374.7 L258.8,1374.9 L260.2,1374.4 L261.6,1374.4 L263.0,1374.4 L264.4,1374.1 L265.8,1373.1 L267.2,1373.5 L268.6,1374.1 L270.0,1374.6 L271.4,1374.3 L272.8,1374.1 L274.2,1373.7 L275.6,1373.3 L277.0,1373.5 L278.4,1373.9 L279.8,1374.7 L281.2,1374.5 L282.6,1374.0 L284.0,1373.2 L285.4,1373.8 L286.8,1373.8 L288.2,1374.1 L289.6,1374.4 L291.0,1374.8 L292.4,1374.6 L293.8,1373.5 L295.2,1373.2 L296.6,1372.6 L298.0,1373.2 L299.4,1373.5 L300.8,1373.8 L302.2,1373.9 L303.6,1374.2 L305.0,1374.3 L306.4,1373.7 L307.8,1373.1 L309.2,1373.1 L310.6,1374.1 L312.0,1374.6 L313.4,1374.5 L314.8,1373.7 L316.2,1374.1 L317.6,1374.3 L319.0,1374.3 L320.4,1373.4 L321.8,1373.0 L323.2,1373.6 L324.6,1374.2 L326.0,1374.5 L327.4,1374.0 L328.8,1373.4 L330.2,1373.2 L331.6,1373.7 L333.0,1374.1 L334.4,1373.7 L335.8,1373.7 L337.2,1373.8 L338.6,1373.9 L340.0,1373.9 L341.4,1373.2 L342.8,1372.8 L344.2,1373.0 L345.6,1373.4 L347.0,1373.6 L348.4,1373.7 L349.8,1374.1 L351.2,1374.4 L352.6,1374.7 L354.0,1373.9 L355.4,1373.1 L356.8,1373.5 L358.2,1374.0 L359.6,1373.9 L361.0,1373.5 L362.4,1373.8 L363.8,1374.2 L365.2,1374.5 L366.6,1374.1 L368.0,1373.7 L369.4,1373.5 L370.8,1373.8 L372.2,1373.2 L373.6,1373.0 L375.0,1372.8 L376.4,1373.8 L377.8,1374.6 L379.2,1375.6 L380.6,1375.5 L382.0,1374.7 L383.4,1374.3 L384.8,1374.2 L386.2,1374.4 L387.6,1373.9 L389.0,1373.6 L390.4,1373.6 L391.8,1374.6 L393.2,1374.9 L394.6,1375.3 L396.0,1375.8 L397.4,1375.5 L398.8,1374.3 L400.2,1373.2 L401.6,1373.5 L403.0,1373.4 L404.4,1373.7 L405.8,1374.1 L407.2,1374.7 L408.6,1374.8 L410.0,1374.4 L411.4,1374.1 L412.8,1374.1 L414.2,1374.3 L415.6,1374.3 L417.0,1374.3 L418.4,1373.8 L419.8,1373.8 L421.2,1374.5 L422.6,1375.1 L424.0,1374.2 L425.4,1373.9 L426.8,1374.0 L428.2,1373.3 L429.6,1372.5 L431.0,1373.1 L432.4,1374.3 L433.8,1374.7 L435.2,1374.8 L436.6,1374.7 L438.0,1373.6 L439.4,1372.8 L440.8,1372.9 L442.2,1373.9 L443.6,1374.0 L445.0,1373.6 L446.4,1373.5 L447.8,1373.4 L449.2,1372.7 L450.6,1372.5 L452.0,1373.3 L453.4,1373.9 L454.8,1373.1 L456.2,1372.9 L457.6,1372.8 L459.0,1373.6 L460.4,1373.8 L461.8,1374.2 L463.2,1374.3 L464.6,1374.2 L466.0,1374.2 L467.4,1374.6 L468.8,1374.9 L470.2,1375.0 L471.6,1374.5 L473.0,1374.4 L474.4,1374.3 L475.8,1374.1 L477.2,1373.6 L478.6,1373.5 L480.0,1373.6 L481.4,1373.6 L482.8,1374.2 L484.2,1374.4 L485.6,1374.2 L487.0,1373.5 L488.4,1373.4 L489.8,1373.9 L491.2,1374.8 L492.6,1374.9 L494.0,1374.3 L495.4,1373.6 L496.8,1373.4 L498.2,1373.2 L499.6,1373.0 L501.0,1373.3 L502.4,1373.7 L503.8,1374.5 L505.2,1374.0 L506.6,1374.1 L508.0,1373.3 L509.4,1373.7 L510.8,1373.3 L512.2,1373.6 L513.6,1373.6 L515.0,1373.8 L516.4,1373.9 L517.8,1374.6 L519.2,1374.6 L520.6,1374.5 L522.0,1374.2 L523.4,1374.3 L524.8,1374.7 L526.2,1374.2 L527.6,1373.5 L529.0,1372.4 L530.4,1372.9 L531.8,1373.2 L533.2,1375.0 L534.6,1375.7 L536.0,1375.9 L537.4,1375.3 L538.8,1375.0 L540.2,1374.4 L541.6,1374.6 L543.0,1374.9 L544.4,1374.7 L545.8,1374.3 L547.2,1373.8 L548.6,1373.2 L550.0,1373.3 L551.4,1374.0 L552.8,1374.0 L554.2,1373.7 L555.6,1373.5 L557.0,1373.8 L558.4,1374.1 L559.8,1374.3 L561.2,1374.3 L562.6,1373.6 L564.0,1373.1 L565.4,1373.2 L566.8,1373.3 L568.2,1373.5 L569.6,1373.4 L571.0,1373.5 L572.4,1373.6 L573.8,1373.8 L575.2,1373.6 L576.6,1373.2 L578.0,1373.4 L579.4,1374.7 L580.8,1374.5 L582.2,1374.0 L583.6,1373.2 L585.0,1374.2 L586.4,1374.2 L587.8,1373.3 L589.2,1373.2 L590.6,1373.4 L592.0,1373.9 L593.4,1373.2 L594.8,1373.0 L596.2,1372.9 L597.6,1373.7 L599.0,1374.5 L600.4,1374.4 L601.8,1374.2 L603.2,1373.9 L604.6,1374.0 L606.0,1374.0 L607.4,1374.3 L608.8,1374.1 L610.2,1373.9 L611.6,1373.8 L613.0,1374.1 L614.4,1373.8 L615.8,1374.2 L617.2,1374.3 L618.6,1374.6 L620.0,1374.2 L621.4,1374.7 L622.8,1373.9 L624.2,1374.1 L625.6,1374.1 L627.0,1374.1 L628.4,1373.4 L629.8,1374.4 L631.2,1375.2 L632.6,1374.5 L634.0,1373.5 L635.4,1373.8 L636.8,1373.9 L638.2,1373.7 L639.6,1373.3 L641.0,1374.5 L642.4,1374.7 L643.8,1375.0 L645.2,1374.2 L646.6,1373.8 L648.0,1373.7 L649.4,1374.3 L650.8,1374.0 L652.2,1373.6 L653.6,1373.9 L655.0,1374.3 L656.4,1374.0 L657.8,1374.0 L659.2,1374.0 L660.6,1373.7 L662.0,1373.3 L663.4,1373.4 L664.8,1373.2 L666.2,1373.3 L667.6,1373.0 L669.0,1373.3 L670.4,1373.5 L671.8,1373.6 L673.2,1373.8 L674.6,1374.6 L676.0,1375.5 L677.4,1374.7 L678.8,1374.2 L680.2,1374.1 L681.6,1374.5 L683.0,1373.8 L684.4,1373.7 L685.8,1374.2 L687.2,1374.7 L688.6,1374.5 L690.0,1373.7 L691.4,1373.4 L692.8,1373.8 L694.2,1374.7 L695.6,1374.6 L697.0,1374.1 L698.4,1373.5 L699.8,1373.6 L701.2,1373.6 L702.6,1374.1 L704.0,1373.9 L705.4,1373.2 L706.8,1373.4 L708.2,1374.2 L709.6,1374.7 L711.0,1374.1 L712.4,1373.8 L713.8,1373.8 L715.2,1373.9 L716.6,1373.5 L718.0,1373.3 L719.4,1373.9 L720.8,1374.0 L722.2,1374.2 L723.6,1374.3 L725.0,1374.3 L726.4,1373.8 L727.8,1373.7 L729.2,1374.2 L730.6,1374.4 L732.0,1374.0 L733.4,1373.2 L734.8,1373.3 L736.2,1374.0 L737.6,1374.5 L739.0,1374.3 L740.4,1374.7 L741.8,1374.3 L743.2,1374.3 L744.6,1373.8 L746.0,1374.2 L747.4,1374.4 L748.8,1374.3 L750.2,1373.9 L751.6,1373.6 L753.0,1373.9 L754.4,1373.8 L755.8,1373.5 L757.2,1373.2 L758.6,1373.4 L760.0,1374.2 L761.4,1374.4 L762.8,1373.5 L764.2,1373.9 L765.6,1374.8 L767.0,1375.3 L768.4,1374.1 L769.8,1373.4 L771.2,1373.5 L772.6,1373.6 L774.0,1374.1 L775.4,1374.4 L776.8,1374.7 L778.2,1373.8 L779.6,1373.4 L781.0,1373.0 L782.4,1373.4 L783.8,1373.7 L785.2,1373.8 L786.6,1373.9 L788.0,1374.1 L789.4,1374.6 L790.8,1374.6 L792.2,1374.0 L793.6,1373.5 L795.0,1374.1 L796.4,1374.4 L797.8,1374.2 L799.2,1373.7 L800.6,1374.0 L802.0,1374.1 L803.4,1373.9 L804.8,1373.6 L806.2,1373.9 L807.6,1374.6 L809.0,1375.0 L810.4,1375.0 L811.8,1374.5 L813.2,1374.0 L814.6,1374.0 L816.0,1373.9 L817.4,1373.7 L818.8,1373.0 L820.2,1373.0 L821.6,1373.0 L823.0,1373.2 L824.4,1373.4 L825.8,1373.6 L827.2,1373.7 L828.6,1373.5 L830.0,1373.5 L831.4,1374.0 L832.8,1374.2 L834.2,1374.3 L835.6,1373.5 L837.0,1373.3 L838.4,1373.2 L839.8,1373.6 L841.2,1373.5 L842.6,1373.7 L844.0,1374.3 L845.4,1374.6 L846.8,1374.4 L848.2,1373.7 L849.6,1374.6 L851.0,1375.4 L852.4,1375.6 L853.8,1374.9 L855.2,1374.2 L856.6,1373.8 L858.0,1373.7 L859.4,1374.0 L860.8,1373.8 L862.2,1373.4 L863.6,1373.5 L865.0,1374.0 L866.4,1373.6 L867.8,1373.2 L869.2,1373.7 L870.6,1374.3 L872.0,1374.2 L873.4,1373.4 L874.8,1373.7 L876.2,1373.5 L877.6,1373.4 L879.0,1373.0 L880.4,1374.2 L881.8,1374.7 L883.2,1374.0 L884.6,1373.4 L886.0,1373.8 L887.4,1374.7 L888.8,1374.2 L890.2,1373.3 L891.6,1372.6 L893.0,1373.3 L894.4,1373.9 L895.8,1374.3 L897.2,1373.8 L898.6,1373.1 L900.0,1372.7 L901.4,1373.5 L902.8,1373.9 L904.2,1373.7 L905.6,1372.9 L907.0,1372.9 L908.4,1373.4 L909.8,1374.4 L911.2,1374.1 L912.6,1373.9 L914.0,1372.7 L915.4,1372.1 L916.8,1371.2 L918.2,1371.2 L919.6,1370.9 L921.0,1370.7 L922.4,1370.7 L923.8,1370.6 L925.2,1370.7 L926.6,1370.6 L928.0,1370.4 L929.4,1370.4 L930.8,1370.4 L932.2,1370.1 L933.6,1369.4 L935.0,1369.0 L936.4,1368.9 L937.8,1368.4 L939.2,1368.3 L940.6,1368.5 L942.0,1368.9 L943.4,1368.0 L944.8,1366.5 L946.2,1365.5 L947.6,1365.5 L949.0,1365.9 L950.4,1365.7 L951.8,1365.0 L953.2,1364.8 L954.6,1364.4 L956.0,1364.1 L957.4,1363.6 L958.8,1362.9 L960.2,1361.9 L961.6,1361.1 L963.0,1360.5 L964.4,1359.3 L965.8,1358.3 L967.2,1358.1 L968.6,1358.2 L970.0,1358.0 L971.4,1356.9 L972.8,1356.0 L974.2,1355.1 L975.6,1354.0 L977.0,1352.5 L978.4,1351.8 L979.8,1351.6 L981.2,1350.7 L982.6,1349.4 L984.0,1348.5 L985.4,1348.4 L986.8,1347.1 L988.2,1345.7 L989.6,1344.8 L991.0,1344.1 L992.4,1343.0 L993.8,1340.4 L995.2,1339.2 L996.6,1337.8 L998.0,1336.5 L999.4,1334.7 L1000.8,1333.9 L1002.2,1333.5 L1003.6,1332.2 L1005.0,1330.4 L1006.4,1328.1 L1007.8,1326.0 L1009.2,1324.5 L1010.6,1323.4 L1012.0,1321.9 L1013.4,1320.3 L1014.8,1318.9 L1016.2,1317.6 L1017.6,1316.7 L1019.0,1315.6 L1020.4,1313.5 L1021.8,1310.6 L1023.2,1307.9 L1024.6,1306.2 L1026.0,1304.9 L1027.4,1303.6 L1028.8,1301.8 L1030.2,1299.9 L1031.6,1298.9 L1033.0,1297.6 L1034.4,1295.8 L1035.8,1294.2 L1037.2,1293.0 L1038.6,1291.6 L1040.0,1290.1 L1041.4,1288.1 L1042.8,1286.4 L1044.2,1284.5 L1045.6,1283.6 L1047.0,1282.5 L1048.4,1281.0 L1049.8,1279.5 L1051.2,1277.7 L1052.6,1276.8 L1054.0,1275.4 L1055.4,1274.1 L1056.8,1272.0 L1058.2,1270.5 L1059.6,1269.7 L1061.0,1268.6 L1062.4,1267.7 L1063.8,1266.2 L1065.2,1265.1 L1066.6,1263.9 L1068.0,1262.7 L1069.4,1261.6 L1070.8,1260.4 L1072.2,1259.0 L1073.6,1257.6 L1075.0,1257.2 L1076.4,1257.4 L1077.8,1256.7 L1079.2,1256.2 L1080.6,1255.7 L1082.0,1255.3 L1083.4,1254.3 L1084.8,1253.0 L1086.2,1251.5 L1087.6,1250.2 L1089.0,1249.6 L1090.4,1249.0 L1091.8,1247.7 L1093.2,1245.8 L1094.6,1244.9 L1096.0,1244.4 L1097.4,1243.5 L1098.8,1242.2 L1100.2,1241.6 L1101.6,1241.1 L1103.0,1240.3 L1104.4,1239.5 L1105.8,1238.1 L1107.2,1236.6 L1108.6,1235.7 L1110.0,1235.6 L1111.4,1235.3 L1112.8,1233.6 L1114.2,1232.0 L1115.6,1231.0 L1117.0,1231.1 L1118.4,1230.7 L1119.8,1229.1 L1121.2,1227.3 L1122.6,1225.5 L1124.0,1225.1 L1125.4,1224.1 L1126.8,1223.8 L1128.2,1223.5 L1129.6,1223.4 L1131.0,1221.6 L1132.4,1220.1 L1133.8,1219.8 L1135.2,1219.6 L1136.6,1219.0 L1138.0,1218.4 L1139.4,1218.8 L1140.8,1218.8 L1142.2,1218.8 L1143.6,1218.4 L1145.0,1218.4 L1146.4,1218.7 L1147.8,1219.5 L1149.2,1220.0 L1150.6,1220.8 L1152.0,1220.7 L1153.4,1221.3 L1154.8,1221.5 L1156.2,1222.5 L1157.6,1222.3 L1159.0,1221.7 L1160.4,1220.7 L1161.8,1219.2 L1163.2,1217.7 L1164.6,1216.9 L1166.0,1217.2 L1167.4,1216.9 L1168.8,1217.0 L1170.2,1217.4 L1171.6,1218.0 L1173.0,1218.4 L1174.4,1218.5 L1175.8,1219.6 L1177.2,1220.5 L1178.6,1221.8 L1180.0,1221.5 L1181.4,1221.0 L1182.8,1220.7 L1184.2,1220.8 L1185.6,1221.3 L1187.0,1221.4 L1188.4,1222.0 L1189.8,1222.3 L1191.2,1222.8 L1192.6,1223.7 L1194.0,1224.3 L1195.4,1223.9 L1196.8,1223.7 L1198.2,1223.6 L1199.6,1224.0 L1201.0,1223.7 L1202.4,1224.0 L1203.8,1224.6 L1205.2,1225.3 L1206.6,1225.4 L1208.0,1225.1 L1209.4,1225.4 L1210.8,1226.3 L1212.2,1226.5 L1213.6,1226.1 L1215.0,1226.0 L1216.4,1226.2 L1217.8,1226.4 L1219.2,1226.9 L1220.6,1227.7 L1222.0,1227.7 L1223.4,1227.2 L1224.8,1227.0 L1226.2,1227.1 L1227.6,1227.5 L1229.0,1228.4 L1230.4,1229.2 L1231.8,1229.1 L1233.2,1228.4 L1234.6,1228.4 L1236.0,1228.3 L1237.4,1228.2 L1238.8,1228.2 L1240.2,1228.6 L1241.6,1228.4 L1243.0,1228.8 L1244.4,1228.9 L1245.8,1228.8 L1247.2,1228.7 L1248.6,1229.4 L1250.0,1229.5 L1251.4,1230.0 L1252.8,1230.3 L1254.2,1230.6 L1255.6,1230.3 L1257.0,1230.3 L1258.4,1230.2 L1259.8,1230.8 L1261.2,1231.5 L1262.6,1231.9 L1264.0,1232.0 L1265.4,1232.0 L1266.8,1232.4 L1268.2,1232.5 L1269.6,1232.7 L1271.0,1233.0 L1272.4,1233.1 L1273.8,1233.7 L1275.2,1233.8 L1276.6,1234.7 L1278.0,1235.4 L1279.4,1236.4 L1280.8,1236.3 L1282.2,1236.1 L1283.6,1236.2 L1285.0,1236.3 L1286.4,1236.1 L1287.8,1236.6 L1289.2,1237.6 L1290.6,1237.7 L1292.0,1237.7 L1293.4,1238.1 L1294.8,1239.0 L1296.2,1238.8 L1297.6,1239.0 L1299.0,1238.9 L1300.4,1239.3 L1301.8,1239.8 L1303.2,1239.7 L1304.6,1239.3 L1306.0,1239.2 L1307.4,1240.0 L1308.8,1239.8 L1310.2,1239.6 L1311.6,1239.3 L1313.0,1239.8 L1314.4,1240.7 L1315.8,1241.6 L1317.2,1242.0 L1318.6,1242.5 L1320.0,1243.8 L1321.4,1245.1 L1322.8,1246.3 L1324.2,1247.3 L1325.6,1247.8 L1327.0,1247.7 L1328.4,1248.4 L1329.8,1250.3 L1331.2,1251.5 L1332.6,1251.4 L1334.0,1251.7 L1335.4,1253.2 L1336.8,1254.2 L1338.2,1255.1 L1339.6,1255.4 L1341.0,1255.8 L1342.4,1256.1 L1343.8,1256.6 L1345.2,1257.3 L1346.6,1258.2 L1348.0,1259.2 L1349.4,1259.3 L1350.8,1259.9 L1352.2,1260.0 L1353.6,1260.7 L1355.0,1260.3 L1356.4,1260.6 L1357.8,1261.5 L1359.2,1262.9 L1360.6,1263.8 L1362.0,1263.7 L1363.4,1264.7 L1364.8,1265.7 L1366.2,1266.7 L1367.6,1266.8 L1369.0,1267.3 L1370.4,1268.3 L1371.8,1268.9 L1373.2,1268.7 L1374.6,1268.5 L1376.0,1269.5 L1377.4,1270.8 L1378.8,1271.2 L1380.2,1271.4 L1381.6,1271.8 L1383.0,1272.6 L1384.4,1272.5 L1385.8,1272.4 L1387.2,1273.1 L1388.6,1274.2 L1390.0,1275.0 L1391.4,1276.0 L1392.8,1276.7 L1394.2,1276.9 L1395.6,1276.7 L1397.0,1277.0 L1398.4,1277.5 L1399.8,1277.8 L1401.2,1277.7 L1402.6,1278.6 L1404.0,1279.9 L1405.4,1281.3 L1406.8,1281.6 L1408.2,1282.1 L1409.6,1282.5 L1411.0,1283.2 L1412.4,1283.3 L1413.8,1283.8 L1415.2,1284.1 L1416.6,1284.8 L1418.0,1285.9 L1419.4,1287.0 L1420.8,1287.8 L1422.2,1287.5 L1423.6,1288.0 L1425.0,1288.1 L1426.4,1288.8 L1427.8,1288.9 L1429.2,1289.0 L1430.6,1289.5 L1432.0,1289.9 L1433.4,1290.3 L1434.8,1290.9 L1436.2,1291.9 L1437.6,1292.2 L1439.0,1292.2 L1440.4,1292.9 L1441.8,1293.7 L1443.2,1294.6 L1444.6,1295.1 L1446.0,1296.3 L1447.4,1296.9 L1448.8,1296.6 L1450.2,1296.5 L1451.6,1297.5 L1453.0,1298.8 L1454.4,1299.0 L1455.8,1299.9 L1457.2,1300.8 L1458.6,1302.0 L1460.0,1301.9 L1461.4,1302.6 L1462.8,1303.6 L1464.2,1305.2 L1465.6,1305.8 L1467.0,1305.9 L1468.4,1306.1 L1469.8,1306.7 L1471.2,1307.7 L1472.6,1308.0 L1474.0,1308.6 L1475.4,1309.0 L1476.8,1309.8 L1478.2,1310.1 L1479.6,1310.3 L1481.0,1310.7 L1482.4,1311.2 L1483.8,1311.9 L1485.2,1312.3 L1486.6,1312.1 L1488.0,1312.3 L1489.4,1313.4 L1490.8,1314.8 L1492.2,1315.3 L1493.6,1315.5 L1495.0,1315.7 L1496.4,1315.4 L1497.8,1315.8 L1499.2,1317.0 L1500.6,1318.0 L1502.0,1318.3 L1503.4,1318.5 L1504.8,1318.7 L1506.2,1319.0 L1507.6,1319.4 L1509.0,1319.9 L1510.4,1319.9 L1511.8,1320.0 L1513.2,1320.5 L1514.6,1321.2 L1516.0,1321.0 L1517.4,1321.0 L1518.8,1321.1 L1520.2,1322.5 L1521.6,1323.6 L1523.0,1324.7 L1524.4,1324.3 L1525.8,1323.9 L1527.2,1324.0 L1528.6,1324.7 L1530.0,1325.2 L1531.4,1325.6 L1532.8,1326.2 L1534.2,1327.1 L1535.6,1327.0 L1537.0,1326.3 L1538.4,1326.3 L1539.8,1327.0 L1541.2,1328.1 L1542.6,1329.1 L1544.0,1330.2 L1545.4,1330.5 L1546.8,1330.5 L1548.2,1330.9 L1549.6,1331.2 L1551.0,1331.0 L1552.4,1331.1 L1553.8,1331.4 L1555.2,1331.3 L1556.6,1331.0 L1558.0,1331.3 L1559.4,1331.6 L1560.8,1332.3 L1562.2,1332.6 L1563.6,1333.4 L1565.0,1334.0 L1566.4,1333.9 L1567.8,1333.8 L1569.2,1333.9 L1570.6,1334.8 L1572.0,1335.1 L1573.4,1335.5 L1574.8,1335.5 L1576.2,1335.6 L1577.6,1335.9 L1579.0,1336.3 L1580.4,1336.8 L1581.8,1337.1 L1583.2,1337.1 L1584.6,1337.5 L1586.0,1337.5 L1587.4,1338.2 L1588.8,1338.8 L1590.2,1339.7 L1591.6,1339.7 L1593.0,1340.7 L1594.4,1341.2 L1595.8,1341.4 L1597.2,1340.6 L1598.6,1341.3 L1600.0,1341.7 L1601.4,1342.3 L1602.8,1342.1 L1604.2,1342.4 L1605.6,1342.4 L1607.0,1343.2 L1608.4,1343.5 L1609.8,1343.5 L1611.2,1343.6 L1612.6,1343.7 L1614.0,1343.8 L1615.4,1344.2 L1616.8,1344.5 L1618.2,1345.0 L1619.6,1345.2 L1621.0,1345.6 L1622.4,1345.7 L1623.8,1346.4 L1625.2,1346.7 L1626.6,1346.7 L1628.0,1347.1 L1629.4,1347.8 L1630.8,1348.0 L1632.2,1347.7 L1633.6,1347.3 L1635.0,1347.3 L1636.4,1348.0 L1637.8,1348.8 L1639.2,1349.3 L1640.6,1349.7 L1642.0,1349.7 L1643.4,1349.5 L1644.8,1349.1 L1646.2,1350.0 L1647.6,1349.9 L1649.0,1349.9 L1650.4,1349.9 L1651.8,1350.8 L1653.2,1351.6 L1654.6,1352.3 L1656.0,1352.6 L1657.4,1351.8 L1658.8,1351.6 L1660.2,1351.7 L1661.6,1352.1 L1663.0,1352.2 L1664.4,1352.4 L1665.8,1352.7 L1667.2,1353.5 L1668.6,1354.2 L1670.0,1354.2 L1671.4,1353.2 L1672.8,1353.1 L1674.2,1353.9 L1675.6,1354.6 L1677.0,1354.1 L1678.4,1354.2 L1679.8,1354.3 L1681.2,1354.7 L1682.6,1354.6 L1684.0,1354.5 L1685.4,1354.5 L1686.8,1354.7 L1688.2,1355.1 L1689.6,1355.6 L1691.0,1355.9 L1692.4,1356.3 L1693.8,1356.4 L1695.2,1357.0 L1696.6,1357.1 L1698.0,1357.3 L1699.4,1357.0 L1700.8,1356.6 L1702.2,1356.6 L1703.6,1356.8 L1705.0,1358.0 L1706.4,1359.0 L1707.8,1358.9 L1709.2,1358.6 L1710.6,1358.8 L1712.0,1359.2 L1713.4,1359.1 L1714.8,1359.5 L1716.2,1359.5 L1717.6,1359.2 L1719.0,1359.1 L1720.4,1359.0 L1721.8,1359.0 L1723.2,1358.9 L1724.6,1359.0 L1726.0,1358.5 L1727.4,1358.5 L1728.8,1359.0 L1730.2,1359.4 L1731.6,1358.9 L1733.0,1358.6 L1734.4,1358.6 L1735.8,1359.0 L1737.2,1359.1 L1738.6,1358.7 L1740.0,1358.3 L1741.4,1357.8 L1742.8,1357.8 L1744.2,1358.7 L1745.6,1360.0 L1747.0,1360.3 L1748.4,1360.3 L1749.8,1360.8 L1751.2,1362.3 L1752.6,1362.9 L1754.0,1363.1 L1755.4,1363.0 L1756.8,1363.2 L1758.2,1363.4 L1759.6,1363.4 L1761.0,1363.3 L1762.4,1363.5 L1763.8,1363.4 L1765.2,1363.3 L1766.6,1363.3 L1768.0,1363.6 L1769.4,1363.8 L1770.8,1363.6 L1772.2,1363.5 L1773.6,1363.2 L1775.0,1363.8 L1776.4,1364.0 L1777.8,1364.2 L1779.2,1364.3 L1780.6,1364.1 L1782.0,1364.1 L1783.4,1364.1 L1784.8,1364.4 L1786.2,1364.4 L1787.6,1365.0 L1789.0,1365.5 L1790.4,1366.1 L1791.8,1366.1 L1793.2,1365.7 L1794.6,1365.0 L1796.0,1365.3 L1797.4,1366.1 L1798.8,1366.6 L1800.2,1366.1 L1801.6,1365.7 L1803.0,1365.9 L1804.4,1366.2 L1805.8,1365.9 L1807.2,1365.1 L1808.6,1364.8 L1810.0,1365.6 L1811.4,1366.7 L1812.8,1366.2 L1814.2,1365.7 L1815.6,1365.4 L1817.0,1366.6 L1818.4,1367.1 L1819.8,1367.2 L1821.2,1366.8 L1822.6,1366.8 L1824.0,1367.2 L1825.4,1367.2 L1826.8,1367.1 L1828.2,1367.1 L1829.6,1366.9 L1831.0,1367.6 L1832.4,1367.7 L1833.8,1367.8 L1835.2,1366.8 L1836.6,1367.3 L1838.0,1368.4 L1839.4,1368.7 L1840.8,1368.5 L1842.2,1368.4 L1843.6,1368.7 L1845.0,1368.2 L1846.4,1368.1 L1847.8,1368.7 L1849.2,1369.0 L1850.6,1368.4 L1852.0,1368.5 L1853.4,1369.2 L1854.8,1369.3 L1856.2,1368.4 L1857.6,1368.0 L1859.0,1368.4 L1860.4,1368.8 L1861.8,1369.2 L1863.2,1369.0 L1864.6,1368.6 L1866.0,1368.9 L1867.4,1369.2 L1868.8,1370.1 L1870.2,1369.9 L1871.6,1369.9 L1873.0,1369.4 L1874.4,1369.4 L1875.8,1369.6 L1877.2,1369.9 L1878.6,1369.7 L1880.0,1369.2 L1881.4,1369.5 L1882.8,1369.6 L1884.2,1370.0 L1885.6,1370.2 L1887.0,1370.4 L1888.4,1370.4 L1889.8,1370.9 L1891.2,1371.2 L1892.6,1370.8 L1894.0,1370.8 L1895.4,1371.3 L1896.8,1371.0 L1898.2,1370.2 L1899.6,1369.8 L1901.0,1370.0 L1902.4,1369.6 L1903.8,1369.9 L1905.2,1370.3 L1906.6,1370.7 L1908.0,1370.9 L1909.4,1370.9 L1910.8,1370.7 L1912.2,1370.4 L1913.6,1370.5 L1915.0,1370.5 L1916.4,1370.7 L1917.8,1371.0 L1919.2,1371.4 L1920.6,1371.1 L1922.0,1371.0 L1923.4,1370.3 L1924.8,1370.3 L1926.2,1370.2 L1927.6,1371.1 L1929.0,1371.6 L1930.4,1371.9 L1931.8,1372.1 L1933.2,1372.5 L1934.6,1372.5 L1936.0,1371.7 L1937.4,1370.7 L1938.8,1370.5 L1940.2,1370.7 L1941.6,1371.0 L1943.0,1370.9 L1944.4,1370.6 L1945.8,1371.1 L1947.2,1371.2 L1948.6,1371.3 L1950.0,1371.1 L1951.4,1371.1 L1952.8,1371.4 L1954.2,1371.8 L1955.6,1372.3 L1957.0,1371.5 L1958.4,1371.1 L1959.8,1370.7 L1961.2,1371.3 L1962.6,1371.8 L1964.0,1372.1 L1965.4,1371.3 L1966.8,1371.5 L1968.2,1372.3 L1969.6,1372.4 L1971.0,1371.7 L1972.4,1370.8 L1973.8,1371.3 L1975.2,1371.8 L1976.6,1373.0 L1978.0,1373.0 L1979.4,1372.6 L1980.8,1371.7 L1982.2,1372.0 L1983.6,1371.8 L1985.0,1372.0 L1986.4,1372.1 L1987.8,1372.4 L1989.2,1371.8 L1990.6,1372.1 L1992.0,1373.0 L1993.4,1373.2 L1994.8,1372.9 L1996.2,1372.9 L1997.6,1373.0 L1999.0,1372.6 L2000.4,1371.7 L2001.8,1371.8 L2003.2,1372.0 L2004.6,1372.2 L2006.0,1372.0 L2007.4,1371.6 L2008.8,1371.2 L2010.2,1371.2 L2011.6,1371.9 L2013.0,1372.4 L2014.4,1372.3 L2015.8,1372.3 L2017.2,1372.8 L2018.6,1372.8 L2020.0,1372.3 L2021.4,1372.4 L2022.8,1372.9 L2024.2,1372.8 L2025.6,1372.5 L2027.0,1372.5 L2028.4,1373.1 L2029.8,1372.9 L2031.2,1373.0 L2032.6,1373.0 L2034.0,1372.9 L2035.4,1372.8 L2036.8,1373.2 L2038.2,1373.1 L2039.6,1373.2 L2041.0,1372.9 L2042.4,1372.7 L2043.8,1372.0 L2045.2,1372.7 L2046.6,1373.3 L2048.0,1373.3 L2049.4,1373.5 L2050.8,1373.6 L2052.2,1373.9 L2053.6,1374.5 L2055.0,1374.6 L2056.4,1373.1 L2057.8,1371.8 L2059.2,1371.6 L2060.6,1372.4 L2062.0,1372.7 L2063.4,1372.7 L2064.8,1372.1 L2066.2,1372.0 L2067.6,1372.5 L2069.0,1372.0 L2070.4,1372.1 L2071.8,1372.6 L2073.2,1373.3" stroke="#CC9900"/>
</g>
<text transform="translate(256.0 1574.2) scale(1 1.04)" font-size="62" text-anchor="middle">300</text>
<text transform="translate(619.6 1574.2) scale(1 1.04)" font-size="62" text-anchor="middle">400</text>
<text transform="translate(983.2 1574.2) scale(1 1.04)" font-size="62" text-anchor="middle">500</text>
<text transform="translate(1346.8 1574.2) scale(1 1.04)" font-size="62" text-anchor="middle">600</text>
<text transform="translate(1710.4 1574.2) scale(1 1.04)" font-size="62" text-anchor="middle">700</text>
<text transform="translate(2074.0 1574.2) scale(1 1.04)" font-size="62" text-anchor="middle">800</text>
<text transform="translate(224.5 1392.7) scale(1 1.04)" font-size="62" text-anchor="end">0</text>
<text transform="translate(224.5 1148.3) scale(1 1.04)" font-size="62" text-anchor="end">2</text>
<text transform="translate(224.5 903.9) scale(1 1.04)" font-size="62" text-anchor="end">4</text>
<text transform="translate(224.5 659.5) scale(1 1.04)" font-size="62" text-anchor="end">6</text>
<text transform="translate(224.5 415.1) scale(1 1.04)" font-size="62" text-anchor="end">8</text>
<text transform="translate(224.5 170.7) scale(1 1.04)" font-size="62" text-anchor="end">10</text>
<text transform="translate(1165.2 1690.8) scale(1 1.04)" font-size="76.5" text-anchor="middle">Wavelength (nm)</text>
<text transform="translate(70.0 731.0) rotate(-90) scale(1 1.04)" font-size="77.1" text-anchor="middle">XEL intensity (a.u.)</text>
<text transform="translate(365.0 137.8) scale(1 1.04)" font-size="84.6">GGAG:Ce, xTb crystals</text>
<line x1="351.5" y1="386.8" x2="531.5" y2="386.8" stroke="#515151" stroke-width="6" stroke-linecap="round"/>
<text transform="translate(552.3 413.5) scale(1 1.04)" font-size="80">X <tspan stroke="#000" stroke-width="1.6" dy="-1.8">=</tspan><tspan dy="1.8" dx="2.5"> </tspan>1%Tb</text>
<line x1="351.5" y1="486.0" x2="531.5" y2="486.0" stroke="#F14040" stroke-width="6" stroke-linecap="round"/>
<text transform="translate(552.3 512.7) scale(1 1.04)" font-size="80">X <tspan stroke="#000" stroke-width="1.6" dy="-1.8">=</tspan><tspan dy="1.8" dx="2.5"> </tspan>7%Tb</text>
<line x1="351.5" y1="585.2" x2="531.5" y2="585.2" stroke="#1A6FDF" stroke-width="6" stroke-linecap="round"/>
<text transform="translate(552.3 611.9) scale(1 1.04)" font-size="80">X <tspan stroke="#000" stroke-width="1.6" dy="-1.8">=</tspan><tspan dy="1.8" dx="2.5"> </tspan>15%Tb</text>
<line x1="351.5" y1="684.4" x2="531.5" y2="684.4" stroke="#37AD6B" stroke-width="6" stroke-linecap="round"/>
<text transform="translate(552.3 711.1) scale(1 1.04)" font-size="80">X <tspan stroke="#000" stroke-width="1.6" dy="-1.8">=</tspan><tspan dy="1.8" dx="2.5"> </tspan>33%Tb</text>
<line x1="351.5" y1="783.6" x2="531.5" y2="783.6" stroke="#B177DE" stroke-width="6" stroke-linecap="round"/>
<text transform="translate(552.3 810.3) scale(1 1.04)" font-size="80">X <tspan stroke="#000" stroke-width="1.6" dy="-1.8">=</tspan><tspan dy="1.8" dx="2.5"> </tspan>50%Tb</text>
<line x1="351.5" y1="882.8" x2="531.5" y2="882.8" stroke="#CC9900" stroke-width="6" stroke-linecap="round"/>
<text transform="translate(552.3 909.5) scale(1 1.04)" font-size="80">X <tspan stroke="#000" stroke-width="1.6" dy="-1.8">=</tspan><tspan dy="1.8" dx="2.5"> </tspan>66%Tb</text>
<line x1="1287.0" y1="271.2" x2="1216.7" y2="325.6" stroke="#000" stroke-width="2.5"/><polygon points="1187.4,348.2 1211.0,318.3 1222.3,332.8" fill="#000"/>
<line x1="1421.8" y1="721.1" x2="1352.2" y2="775.2" stroke="#000" stroke-width="2.5"/><polygon points="1323.0,797.9 1346.6,767.9 1357.9,782.5" fill="#000"/>
<line x1="1545.7" y1="900.5" x2="1476.4" y2="953.9" stroke="#000" stroke-width="2.5"/><polygon points="1447.1,976.5 1470.8,946.6 1482.0,961.2" fill="#000"/>
<line x1="1199.8" y1="1350.0" x2="1170.7" y2="1291.2" stroke="#000" stroke-width="2.5"/><polygon points="1154.3,1258.0 1178.9,1287.1 1162.5,1295.2" fill="#000"/>
<text transform="translate(1299.2 290.2) scale(1 1.04)" font-size="75"><tspan x="0">5d</tspan><tspan font-size="51" dx="1" dy="19.23">4</tspan><tspan dx="0.8" dy="-20.48">–7</tspan><tspan dx="1">f</tspan><tspan font-size="51" dx="1.2" dy="19.23">5 </tspan><tspan x="268.7" dy="-15.19">Tb</tspan><tspan font-size="52" dx="1" dy="-30.10">3+</tspan></text>
<text transform="translate(1449.7 758.2) scale(1 1.04)" font-size="75"><tspan x="0">5d</tspan><tspan font-size="51" dx="1" dy="19.23">4</tspan><tspan dx="0.8" dy="-22.40">–7</tspan><tspan dx="1">f</tspan><tspan font-size="51" dx="1.2" dy="19.23">4 </tspan><tspan x="277.0" dy="-12.79">Tb</tspan><tspan font-size="52" dx="1" dy="-31.35">3+</tspan></text>
<text transform="translate(1586.2 940.6) scale(1 1.04)" font-size="75"><tspan x="0">5d</tspan><tspan font-size="51" dx="1" dy="19.23">4</tspan><tspan dx="0.8" dy="-19.90">–7</tspan><tspan dx="1">f</tspan><tspan font-size="51" dx="1.2" dy="19.23">6 </tspan><tspan x="274.4" dy="-11.44">Tb</tspan><tspan font-size="52" dx="1" dy="-31.73">3+</tspan></text>
<text transform="translate(1064.2 1421.0) scale(1 1.04)" font-size="68"><tspan x="0">Ce</tspan><tspan font-size="45" dx="3" dy="-26.0">3</tspan><tspan font-size="45" dx="2">+</tspan><tspan dx="3.3" dy="26.0"> 5d</tspan><tspan font-size="45" dx="3" dy="15.9">1</tspan><tspan dy="-15.9">–4f</tspan></text>
</svg>
</body></html>
